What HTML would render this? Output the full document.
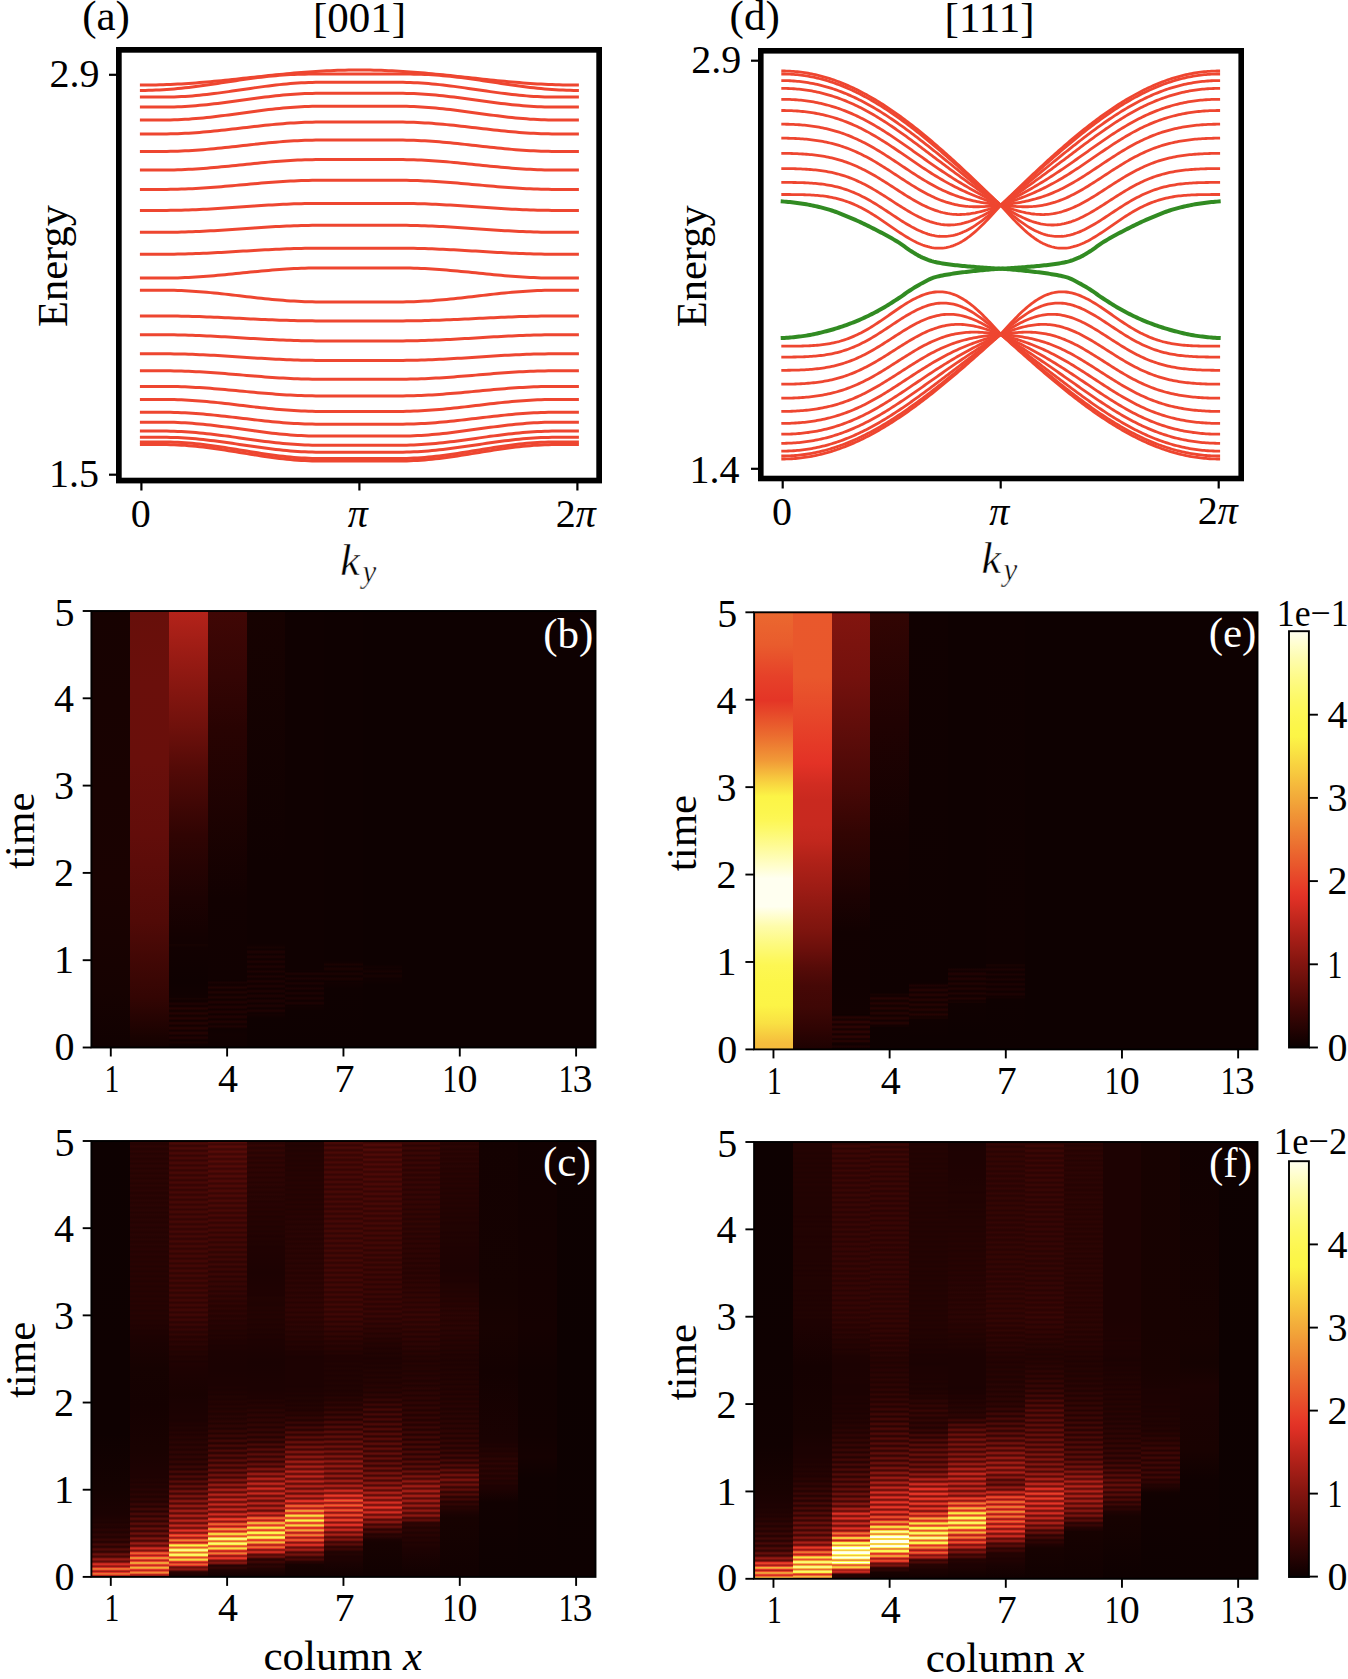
<!DOCTYPE html>
<html><head><meta charset="utf-8"><style>
html,body{margin:0;padding:0;background:#fff;}
body{width:1348px;height:1679px;position:relative;overflow:hidden;}
.c{position:absolute;}
svg{position:absolute;left:0;top:0;}
text{font-family:"Liberation Serif", serif;}
</style></head><body>
<div class="c" style="left:1289px;top:631.2px;width:19.9px;height:416.3px;background:linear-gradient(to bottom,#fffff0 0%,#fffede 1.69%,#fffecd 3.39%,#fefdbd 5.08%,#fefcad 6.78%,#fefc9f 8.47%,#fefb91 10.17%,#fefa84 11.86%,#fdfa78 13.56%,#fdf96d 15.25%,#fdf863 16.95%,#fdf85a 18.64%,#fdf753 20.34%,#fcf64d 22.03%,#fcf648 23.73%,#fcf546 25.42%,#fbec45 27.12%,#fae443 28.81%,#f9db42 30.51%,#f8d240 32.2%,#f7ca3f 33.9%,#f6c13d 35.59%,#f5b83c 37.29%,#f3af3b 38.98%,#f2a739 40.68%,#f19e38 42.37%,#f09536 44.07%,#ef8d35 45.76%,#ee8433 47.46%,#ed7b32 49.15%,#ec7331 50.85%,#eb6a2f 52.54%,#ea612e 54.24%,#e9592c 55.93%,#e8502b 57.63%,#e7472a 59.32%,#e63f28 61.02%,#e43627 62.71%,#df3025 64.41%,#d52d22 66.1%,#ca2a1f 67.8%,#c0261d 69.49%,#b6231a 71.19%,#ac2018 72.88%,#a21d16 74.58%,#981b14 76.27%,#8e1811 77.97%,#841510 79.66%,#7a130e 81.36%,#70110c 83.05%,#660e0a 84.75%,#5c0c09 86.44%,#520a07 88.14%,#470806 89.83%,#3d0605 91.53%,#330504 93.22%,#290403 94.92%,#1f0202 96.61%,#150101 98.31%,#0b0101 100%)"></div>
<div class="c" style="left:1289px;top:1161.2px;width:19.9px;height:415.8px;background:linear-gradient(to bottom,#fffff0 0%,#fffede 1.69%,#fffecd 3.39%,#fefdbd 5.08%,#fefcad 6.78%,#fefc9f 8.47%,#fefb91 10.17%,#fefa84 11.86%,#fdfa78 13.56%,#fdf96d 15.25%,#fdf863 16.95%,#fdf85a 18.64%,#fdf753 20.34%,#fcf64d 22.03%,#fcf648 23.73%,#fcf546 25.42%,#fbec45 27.12%,#fae443 28.81%,#f9db42 30.51%,#f8d240 32.2%,#f7ca3f 33.9%,#f6c13d 35.59%,#f5b83c 37.29%,#f3af3b 38.98%,#f2a739 40.68%,#f19e38 42.37%,#f09536 44.07%,#ef8d35 45.76%,#ee8433 47.46%,#ed7b32 49.15%,#ec7331 50.85%,#eb6a2f 52.54%,#ea612e 54.24%,#e9592c 55.93%,#e8502b 57.63%,#e7472a 59.32%,#e63f28 61.02%,#e43627 62.71%,#df3025 64.41%,#d52d22 66.1%,#ca2a1f 67.8%,#c0261d 69.49%,#b6231a 71.19%,#ac2018 72.88%,#a21d16 74.58%,#981b14 76.27%,#8e1811 77.97%,#841510 79.66%,#7a130e 81.36%,#70110c 83.05%,#660e0a 84.75%,#5c0c09 86.44%,#520a07 88.14%,#470806 89.83%,#3d0605 91.53%,#330504 93.22%,#290403 94.92%,#1f0202 96.61%,#150101 98.31%,#0b0101 100%)"></div>
<div class="c" style="left:91px;top:611px;width:39px;height:437px;background:linear-gradient(#170201 0.5px,#1a0201 270.5px,#160201 381.5px,#110101 436.5px)"></div>
<div class="c" style="left:130px;top:611px;width:39px;height:437px;background:linear-gradient(#670f0a 0.5px,#6a0f0b 72.5px,#690f0b 151.5px,#620d0a 223.5px,#510a07 309.5px,#330503 386.5px,#190201 426.5px,#140101 436.5px)"></div>
<div class="c" style="left:169px;top:611px;width:39px;height:437px;background:linear-gradient(#b4231a 0.5px,#951a13 52.5px,#70110c 114.5px,#520a07 159.5px,#300403 223.5px,#1c0202 287.5px,#150101 319.5px,#120101 332.5px,#160201 333.5px,#120101 336.5px,#0f0101 370.5px,#110101 385.5px,#120101 386.5px,#170201 387.5px,#120101 389.5px,#120101 390.5px,#1e0202 392.5px,#1c0202 393.5px,#150101 394.5px,#150101 395.5px,#1f0202 396.5px,#250302 397.5px,#160201 399.5px,#170201 400.5px,#200302 401.5px,#250302 402.5px,#160201 404.5px,#180201 405.5px,#210302 406.5px,#250302 407.5px,#150101 409.5px,#180201 410.5px,#220302 411.5px,#240302 412.5px,#150101 414.5px,#190201 415.5px,#230302 416.5px,#240302 417.5px,#150101 419.5px,#1a0202 420.5px,#230302 421.5px,#230302 422.5px,#140101 424.5px,#200202 426.5px,#1d0202 427.5px,#150101 428.5px,#120101 429.5px,#190201 431.5px,#110101 433.5px,#100101 436.5px)"></div>
<div class="c" style="left:208px;top:611px;width:39px;height:437px;background:linear-gradient(#400705 0.5px,#340504 65.5px,#280302 118.5px,#120101 287.5px,#110101 367.5px,#100101 369.5px,#1a0202 371.5px,#130101 373.5px,#140101 374.5px,#210302 376.5px,#140101 378.5px,#150101 379.5px,#1d0202 380.5px,#200302 381.5px,#140101 383.5px,#150201 384.5px,#1d0202 385.5px,#200302 386.5px,#130101 388.5px,#160201 389.5px,#1e0202 390.5px,#200202 391.5px,#130101 393.5px,#170201 394.5px,#1f0202 395.5px,#200202 396.5px,#130101 398.5px,#1f0202 400.5px,#1f0202 401.5px,#170201 402.5px,#130101 403.5px,#200202 405.5px,#1f0202 406.5px,#170201 407.5px,#130101 408.5px,#200202 410.5px,#1e0202 411.5px,#160201 412.5px,#140101 413.5px,#1e0202 415.5px,#120101 417.5px,#100101 418.5px,#120101 423.5px,#100101 436.5px)"></div>
<div class="c" style="left:247px;top:611px;width:38px;height:437px;background:linear-gradient(#170201 0.5px,#100101 251.5px,#100101 332.5px,#120101 334.5px,#170201 336.5px,#110101 338.5px,#1d0202 340.5px,#1c0202 341.5px,#120101 343.5px,#1d0202 345.5px,#1c0202 346.5px,#150101 347.5px,#120101 348.5px,#1e0202 350.5px,#1b0202 351.5px,#140101 352.5px,#130101 353.5px,#1e0202 355.5px,#1b0202 356.5px,#140101 357.5px,#130101 358.5px,#1e0202 360.5px,#130101 362.5px,#130101 363.5px,#1e0202 365.5px,#130101 367.5px,#140101 368.5px,#1b0202 369.5px,#1e0202 370.5px,#130101 372.5px,#150101 373.5px,#1c0202 374.5px,#1e0202 375.5px,#120101 377.5px,#150101 378.5px,#1c0202 379.5px,#1d0202 380.5px,#120101 382.5px,#1d0202 384.5px,#1d0202 385.5px,#120101 387.5px,#1d0202 389.5px,#1c0202 390.5px,#120101 392.5px,#1d0202 394.5px,#1c0202 395.5px,#150101 396.5px,#120101 397.5px,#1e0202 399.5px,#1b0202 400.5px,#140101 401.5px,#110101 402.5px,#140101 403.5px,#0f0101 407.5px,#0e0101 436.5px)"></div>
<div class="c" style="left:285px;top:611px;width:39px;height:437px;background:linear-gradient(#100101 0.5px,#100101 358.5px,#120101 359.5px,#100101 360.5px,#1c0202 362.5px,#1a0201 363.5px,#130101 364.5px,#120101 365.5px,#1c0202 367.5px,#130101 369.5px,#120101 370.5px,#190201 371.5px,#1c0202 372.5px,#120101 374.5px,#130101 375.5px,#1c0202 377.5px,#120101 379.5px,#130101 380.5px,#1a0202 381.5px,#1c0202 382.5px,#120101 384.5px,#140101 385.5px,#1a0202 386.5px,#1c0202 387.5px,#120101 389.5px,#140101 390.5px,#1b0202 391.5px,#1c0202 392.5px,#100101 394.5px,#120101 395.5px,#0f0101 399.5px,#0e0101 436.5px)"></div>
<div class="c" style="left:324px;top:611px;width:39px;height:437px;background:linear-gradient(#0f0101 0.5px,#0f0101 349.5px,#110101 351.5px,#1a0201 353.5px,#110101 355.5px,#1a0201 357.5px,#190201 358.5px,#110101 360.5px,#1a0202 362.5px,#190201 363.5px,#130101 364.5px,#110101 365.5px,#1a0202 367.5px,#190201 368.5px,#100101 370.5px,#130101 371.5px,#0f0101 377.5px,#0e0101 436.5px)"></div>
<div class="c" style="left:363px;top:611px;width:39px;height:437px;background:linear-gradient(#0e0101 0.5px,#0e0101 353.5px,#130101 356.5px,#100101 357.5px,#170201 360.5px,#100101 362.5px,#160201 364.5px,#160201 365.5px,#100101 367.5px,#110101 369.5px,#0e0101 373.5px,#0e0101 436.5px)"></div>
<div class="c" style="left:402px;top:611px;width:38px;height:437px;background:#0e0101"></div>
<div class="c" style="left:440px;top:611px;width:39px;height:437px;background:#0e0101"></div>
<div class="c" style="left:479px;top:611px;width:39px;height:437px;background:#0e0101"></div>
<div class="c" style="left:518px;top:611px;width:39px;height:437px;background:#0e0101"></div>
<div class="c" style="left:557px;top:611px;width:39px;height:437px;background:#0e0101"></div>
<div class="c" style="left:91px;top:1141px;width:39px;height:436px;background:linear-gradient(#0e0101 0.5px,#0f0101 204.5px,#0f0101 292.5px,#150201 347.5px,#1b0202 372.5px,#1e0202 377.5px,#200302 379.5px,#1e0202 381.5px,#240302 383.5px,#200202 386.5px,#290303 388.5px,#280302 389.5px,#230302 390.5px,#220302 391.5px,#2d0403 393.5px,#2b0403 394.5px,#250302 395.5px,#250302 396.5px,#360504 398.5px,#310503 399.5px,#270302 400.5px,#290303 401.5px,#380604 402.5px,#430705 403.5px,#3a0604 404.5px,#2c0403 405.5px,#310503 406.5px,#470806 407.5px,#510a07 408.5px,#330503 410.5px,#3c0604 411.5px,#5b0c08 412.5px,#6a0f0b 413.5px,#450805 415.5px,#590c08 416.5px,#851610 417.5px,#951a13 418.5px,#77120d 419.5px,#600d09 420.5px,#83150f 421.5px,#c3271d 422.5px,#d62d22 423.5px,#a91f17 424.5px,#8f1812 425.5px,#d12c21 426.5px,#ec7130 427.5px,#ea662f 428.5px,#c8291f 429.5px,#a11d15 430.5px,#e03125 431.5px,#eb6d30 432.5px,#e9592c 433.5px,#ba251b 434.5px,#9e1c15 435.5px)"></div>
<div class="c" style="left:130px;top:1141px;width:39px;height:436px;background:linear-gradient(#2c0403 0.5px,#260302 2.5px,#260302 3.5px,#2c0403 5.5px,#260302 7.5px,#260302 8.5px,#2c0403 10.5px,#250302 12.5px,#2b0403 15.5px,#250302 17.5px,#2b0403 20.5px,#250302 22.5px,#2b0403 24.5px,#2b0403 25.5px,#250302 27.5px,#2b0403 29.5px,#250302 32.5px,#2b0403 34.5px,#250302 37.5px,#2b0403 39.5px,#250302 42.5px,#2b0403 44.5px,#250302 46.5px,#280303 48.5px,#2b0403 49.5px,#250302 51.5px,#250302 52.5px,#2a0403 54.5px,#250302 56.5px,#250302 57.5px,#2a0403 59.5px,#250302 61.5px,#2a0403 64.5px,#240302 66.5px,#2a0403 69.5px,#240302 71.5px,#290403 73.5px,#260302 75.5px,#240302 76.5px,#290403 78.5px,#260302 80.5px,#240302 81.5px,#290403 83.5px,#290303 84.5px,#240302 86.5px,#290403 88.5px,#240302 91.5px,#290403 93.5px,#240302 96.5px,#290403 98.5px,#240302 100.5px,#270302 102.5px,#290403 103.5px,#240302 105.5px,#290303 108.5px,#240302 110.5px,#290303 113.5px,#240302 115.5px,#280302 118.5px,#240302 120.5px,#280302 123.5px,#230302 125.5px,#280302 127.5px,#250302 129.5px,#230302 130.5px,#280302 132.5px,#230302 135.5px,#280302 137.5px,#230302 140.5px,#280302 142.5px,#230302 145.5px,#270302 147.5px,#230302 150.5px,#270302 152.5px,#230302 155.5px,#270302 157.5px,#230302 160.5px,#270302 162.5px,#230302 164.5px,#260302 167.5px,#220302 169.5px,#260302 172.5px,#220302 174.5px,#250302 177.5px,#210302 179.5px,#230302 182.5px,#200202 184.5px,#210302 187.5px,#1e0202 189.5px,#1f0202 192.5px,#1d0202 194.5px,#160201 227.5px,#150101 264.5px,#190201 307.5px,#1d0202 327.5px,#1e0202 329.5px,#1e0202 332.5px,#1f0202 334.5px,#1e0202 336.5px,#220302 339.5px,#1f0202 341.5px,#250302 343.5px,#200302 345.5px,#210302 346.5px,#290303 348.5px,#220302 350.5px,#230302 351.5px,#2b0403 353.5px,#220302 355.5px,#240302 356.5px,#2b0403 357.5px,#2e0403 358.5px,#240302 360.5px,#280303 361.5px,#330504 362.5px,#370504 363.5px,#260302 365.5px,#2e0403 366.5px,#3e0705 367.5px,#400705 368.5px,#310503 369.5px,#290303 370.5px,#350504 371.5px,#470806 372.5px,#460806 373.5px,#350504 374.5px,#2d0403 375.5px,#500a07 377.5px,#4c0906 378.5px,#380604 379.5px,#320503 380.5px,#590c08 382.5px,#520a07 383.5px,#3b0604 384.5px,#370604 385.5px,#4f0a07 386.5px,#630e0a 387.5px,#580b08 388.5px,#3f0705 389.5px,#3d0605 390.5px,#590c08 391.5px,#6c100b 392.5px,#5d0c09 393.5px,#420705 394.5px,#460806 395.5px,#680f0b 396.5px,#7c140e 397.5px,#690f0b 398.5px,#4c0906 399.5px,#570b08 400.5px,#83150f 401.5px,#991b14 402.5px,#7e140e 403.5px,#5f0d09 404.5px,#74120d 405.5px,#b3221a 406.5px,#ce2b20 407.5px,#7e140e 409.5px,#a41e16 410.5px,#e74729 411.5px,#ea602e 412.5px,#dc2f24 413.5px,#ac2018 414.5px,#e43326 415.5px,#ee8734 416.5px,#ef8c35 417.5px,#e53b28 418.5px,#b8241b 419.5px,#e7472a 420.5px,#f2a038 421.5px,#f19c37 422.5px,#e64429 423.5px,#cb2a20 424.5px,#ea602e 425.5px,#f3ae3a 426.5px,#f09336 427.5px,#e43326 428.5px,#bf261c 429.5px,#e8532b 430.5px,#ef8b35 431.5px,#ea632e 432.5px,#b9241b 433.5px,#9f1d15 434.5px,#dd3024 435.5px)"></div>
<div class="c" style="left:169px;top:1141px;width:39px;height:436px;background:linear-gradient(#390604 0.5px,#450805 1.5px,#4a0906 2.5px,#370604 4.5px,#3a0604 5.5px,#460806 6.5px,#490906 7.5px,#370504 9.5px,#3b0604 10.5px,#460806 11.5px,#490806 12.5px,#360504 14.5px,#3c0604 15.5px,#470806 16.5px,#480806 17.5px,#3d0605 18.5px,#360504 19.5px,#470806 21.5px,#470806 22.5px,#3c0604 23.5px,#360504 24.5px,#480806 26.5px,#460806 27.5px,#3a0604 28.5px,#360504 29.5px,#480806 31.5px,#450805 32.5px,#390604 33.5px,#360504 34.5px,#480806 36.5px,#430705 37.5px,#380604 38.5px,#360504 39.5px,#410705 40.5px,#480806 41.5px,#420705 42.5px,#370504 43.5px,#370504 44.5px,#480806 46.5px,#410705 47.5px,#360504 48.5px,#370604 49.5px,#420705 50.5px,#470806 51.5px,#360504 53.5px,#380604 54.5px,#430705 55.5px,#470806 56.5px,#350504 58.5px,#390604 59.5px,#440805 60.5px,#460806 61.5px,#350504 63.5px,#3a0604 64.5px,#440805 65.5px,#450806 66.5px,#340504 68.5px,#450805 70.5px,#440805 71.5px,#3a0604 72.5px,#340504 73.5px,#450806 75.5px,#430705 76.5px,#380604 77.5px,#340504 78.5px,#450806 80.5px,#420705 81.5px,#370604 82.5px,#340504 83.5px,#450806 85.5px,#410705 86.5px,#360504 87.5px,#350504 88.5px,#450806 90.5px,#400705 91.5px,#350504 92.5px,#350504 93.5px,#3f0705 94.5px,#450805 95.5px,#340504 97.5px,#350504 98.5px,#400705 99.5px,#450805 100.5px,#340504 102.5px,#360504 103.5px,#410705 104.5px,#440805 105.5px,#330503 107.5px,#370504 108.5px,#410705 109.5px,#430805 110.5px,#330503 112.5px,#380604 113.5px,#420705 114.5px,#430705 115.5px,#320503 117.5px,#380604 118.5px,#420705 119.5px,#420705 120.5px,#380604 121.5px,#320503 122.5px,#430705 124.5px,#410705 125.5px,#360504 126.5px,#320503 127.5px,#430705 129.5px,#400705 130.5px,#350504 131.5px,#320503 132.5px,#430705 134.5px,#3e0705 135.5px,#340504 136.5px,#330503 137.5px,#420705 139.5px,#3d0605 140.5px,#330503 141.5px,#330503 142.5px,#420705 144.5px,#3c0604 145.5px,#320503 146.5px,#330503 147.5px,#3d0605 148.5px,#420705 149.5px,#310503 151.5px,#340504 152.5px,#3e0705 153.5px,#410705 154.5px,#310503 156.5px,#340504 157.5px,#3e0705 158.5px,#400705 159.5px,#300403 161.5px,#350504 162.5px,#3e0705 163.5px,#3f0705 164.5px,#300403 166.5px,#3f0705 168.5px,#3e0705 169.5px,#350504 170.5px,#300403 171.5px,#3f0705 173.5px,#3d0605 174.5px,#330503 175.5px,#2e0403 176.5px,#3d0605 178.5px,#390604 179.5px,#2f0403 180.5px,#2c0403 181.5px,#390604 183.5px,#350504 184.5px,#2c0403 185.5px,#2b0403 186.5px,#360504 188.5px,#2a0403 190.5px,#290403 191.5px,#320503 193.5px,#270302 195.5px,#270302 196.5px,#2e0403 198.5px,#250302 200.5px,#2b0403 203.5px,#230302 205.5px,#270302 208.5px,#210302 210.5px,#240302 213.5px,#1f0202 215.5px,#210302 218.5px,#1d0202 220.5px,#200202 222.5px,#1e0202 226.5px,#1d0202 231.5px,#1c0202 236.5px,#190201 254.5px,#1a0202 258.5px,#1b0202 263.5px,#1c0202 273.5px,#1d0202 275.5px,#1c0202 279.5px,#200202 282.5px,#1e0202 284.5px,#220302 286.5px,#1f0202 289.5px,#250302 291.5px,#200202 293.5px,#250302 295.5px,#280302 296.5px,#210302 298.5px,#2a0403 301.5px,#220302 303.5px,#240302 304.5px,#2a0403 305.5px,#2c0403 306.5px,#230302 308.5px,#260302 309.5px,#2d0403 310.5px,#2e0403 311.5px,#230302 313.5px,#2f0403 315.5px,#300403 316.5px,#280302 317.5px,#240302 318.5px,#320503 320.5px,#310503 321.5px,#280303 322.5px,#250302 323.5px,#390604 325.5px,#380604 326.5px,#2b0403 327.5px,#280302 328.5px,#440805 330.5px,#3f0705 331.5px,#2e0403 332.5px,#2c0403 333.5px,#3f0705 334.5px,#4d0907 335.5px,#440805 336.5px,#320503 337.5px,#320503 338.5px,#480806 339.5px,#570b08 340.5px,#4b0906 341.5px,#370504 342.5px,#3b0604 343.5px,#550b08 344.5px,#630e0a 345.5px,#520a07 346.5px,#3c0604 347.5px,#440805 348.5px,#630e0a 349.5px,#6f100c 350.5px,#410705 352.5px,#4e0907 353.5px,#71110c 354.5px,#7b130e 355.5px,#5f0d09 356.5px,#480806 357.5px,#5a0c08 358.5px,#80140f 359.5px,#861610 360.5px,#650e0a 361.5px,#4e0907 362.5px,#670e0a 363.5px,#901812 364.5px,#901912 365.5px,#690f0b 366.5px,#550b08 367.5px,#74110d 368.5px,#9e1c15 369.5px,#981b14 370.5px,#6d100b 371.5px,#5c0c09 372.5px,#82150f 373.5px,#ac2018 374.5px,#a01d15 375.5px,#70100c 376.5px,#630e0a 377.5px,#8f1812 378.5px,#b7241a 379.5px,#a31e16 380.5px,#71110c 381.5px,#6a0f0b 382.5px,#9b1c14 383.5px,#c1271d 384.5px,#a81f17 385.5px,#76120d 386.5px,#78120d 387.5px,#b6231a 388.5px,#e23125 389.5px,#c1271d 390.5px,#891710 391.5px,#961a13 392.5px,#e43326 393.5px,#e95a2d 394.5px,#e23125 395.5px,#a11d15 396.5px,#ba241b 397.5px,#ea602e 398.5px,#ee8333 399.5px,#e7482a 400.5px,#bc251c 401.5px,#e64229 402.5px,#f5bf3d 403.5px,#fcf546 404.5px,#e95c2d 406.5px,#f2a038 407.5px,#fdf972 408.5px,#fefb8d 409.5px,#f6c23e 410.5px,#eb6e30 411.5px,#f4b63c 412.5px,#fdf96e 413.5px,#fdf757 414.5px,#ef8a34 415.5px,#e64229 416.5px,#ee8634 417.5px,#f8d541 418.5px,#f3ae3a 419.5px,#e53c28 420.5px,#b7241a 421.5px,#e53c28 422.5px,#ea632e 423.5px,#e43527 424.5px,#8b1711 425.5px,#690f0b 426.5px,#7f140f 427.5px,#891710 428.5px,#640e0a 429.5px,#380604 430.5px,#280302 431.5px,#180201 435.5px)"></div>
<div class="c" style="left:208px;top:1141px;width:39px;height:436px;background:linear-gradient(#570b08 0.5px,#540b08 1.5px,#460806 2.5px,#400705 3.5px,#560b08 5.5px,#520a07 6.5px,#440805 7.5px,#400705 8.5px,#560b08 10.5px,#500a07 11.5px,#420705 12.5px,#400705 13.5px,#550b08 15.5px,#4e0907 16.5px,#400705 17.5px,#400705 18.5px,#4c0906 19.5px,#540b07 20.5px,#3f0705 22.5px,#400705 23.5px,#4d0906 24.5px,#530a07 25.5px,#3d0605 27.5px,#400705 28.5px,#4d0906 29.5px,#510a07 30.5px,#3c0604 32.5px,#400705 33.5px,#4d0907 34.5px,#500a07 35.5px,#3b0604 37.5px,#410705 38.5px,#4d0907 39.5px,#4e0907 40.5px,#420705 41.5px,#3a0604 42.5px,#410705 43.5px,#4d0906 44.5px,#4c0906 45.5px,#400705 46.5px,#390604 47.5px,#4c0906 49.5px,#4a0906 50.5px,#3e0705 51.5px,#390604 52.5px,#4c0906 54.5px,#480806 55.5px,#3c0604 56.5px,#390604 57.5px,#4b0906 59.5px,#460806 60.5px,#3a0604 61.5px,#380604 62.5px,#430705 63.5px,#4a0906 64.5px,#440805 65.5px,#390604 66.5px,#380604 67.5px,#430705 68.5px,#490906 69.5px,#420705 70.5px,#370604 71.5px,#380604 72.5px,#430705 73.5px,#480806 74.5px,#360504 76.5px,#380604 77.5px,#430705 78.5px,#470806 79.5px,#350504 81.5px,#380604 82.5px,#430705 83.5px,#450806 84.5px,#340504 86.5px,#390604 87.5px,#430705 88.5px,#440805 89.5px,#330503 91.5px,#390604 92.5px,#430705 93.5px,#420705 94.5px,#380604 95.5px,#320503 96.5px,#420705 98.5px,#400705 99.5px,#360504 100.5px,#320503 101.5px,#410705 103.5px,#3e0705 104.5px,#340504 105.5px,#310503 106.5px,#410705 108.5px,#3d0604 109.5px,#330503 110.5px,#310503 111.5px,#400705 113.5px,#3b0604 114.5px,#310503 115.5px,#310503 116.5px,#3a0604 117.5px,#3f0705 118.5px,#300403 120.5px,#300503 121.5px,#390604 122.5px,#3e0705 123.5px,#2f0403 125.5px,#300503 126.5px,#390604 127.5px,#3c0604 128.5px,#2d0403 130.5px,#300403 131.5px,#390604 132.5px,#3b0604 133.5px,#2c0403 135.5px,#300403 136.5px,#380604 137.5px,#380604 138.5px,#2c0403 140.5px,#360504 142.5px,#360504 143.5px,#2b0403 145.5px,#350504 147.5px,#340504 148.5px,#2d0403 149.5px,#2a0403 150.5px,#340504 152.5px,#2b0403 154.5px,#290403 155.5px,#320503 157.5px,#2a0403 159.5px,#290303 160.5px,#300403 162.5px,#280302 164.5px,#280302 165.5px,#2e0403 167.5px,#270302 169.5px,#270302 170.5px,#2d0403 172.5px,#260302 174.5px,#260302 175.5px,#2b0403 177.5px,#240302 179.5px,#280303 182.5px,#230302 184.5px,#260302 187.5px,#210302 189.5px,#240302 192.5px,#200202 194.5px,#230302 196.5px,#1f0202 199.5px,#200202 202.5px,#1d0202 204.5px,#1e0202 207.5px,#1c0202 210.5px,#1b0202 225.5px,#1b0202 229.5px,#1c0202 237.5px,#1c0202 242.5px,#1c0202 244.5px,#1e0202 246.5px,#1c0202 248.5px,#200202 251.5px,#1d0202 253.5px,#220302 255.5px,#1f0202 258.5px,#240302 260.5px,#200202 263.5px,#260302 265.5px,#200302 267.5px,#250302 269.5px,#280302 270.5px,#210302 272.5px,#220302 273.5px,#290403 275.5px,#220302 277.5px,#2b0403 280.5px,#220302 282.5px,#2d0403 284.5px,#2e0403 285.5px,#230302 287.5px,#280303 288.5px,#310503 289.5px,#320503 290.5px,#250302 292.5px,#380604 294.5px,#370504 295.5px,#2b0403 296.5px,#260302 297.5px,#3e0705 299.5px,#3b0604 300.5px,#2c0403 301.5px,#280302 302.5px,#450805 304.5px,#3f0705 305.5px,#2e0403 306.5px,#2c0403 307.5px,#4b0906 309.5px,#420705 310.5px,#300403 311.5px,#300403 312.5px,#440805 313.5px,#520a07 314.5px,#460806 315.5px,#330503 316.5px,#360504 317.5px,#4d0907 318.5px,#590c08 319.5px,#4a0906 320.5px,#360504 321.5px,#3c0604 322.5px,#560b08 323.5px,#610d09 324.5px,#390604 326.5px,#430705 327.5px,#600d09 328.5px,#680f0b 329.5px,#3d0605 331.5px,#4b0906 332.5px,#6a0f0b 333.5px,#6f100c 334.5px,#550b08 335.5px,#430705 336.5px,#580b08 337.5px,#7c130e 338.5px,#7e140e 339.5px,#5e0d09 340.5px,#4c0906 341.5px,#690f0b 342.5px,#901912 343.5px,#8e1811 344.5px,#670e0a 345.5px,#570b08 346.5px,#7b130e 347.5px,#a41e16 348.5px,#9a1b14 349.5px,#6d100b 350.5px,#600d09 351.5px,#b3231a 353.5px,#a21d16 354.5px,#71110c 355.5px,#690f0b 356.5px,#9b1b14 357.5px,#c2271d 358.5px,#a61f17 359.5px,#72110c 360.5px,#70110c 361.5px,#a41e16 362.5px,#c4281e 363.5px,#a21e16 364.5px,#6f100c 365.5px,#75120d 366.5px,#ab2018 367.5px,#c6281e 368.5px,#9e1c15 369.5px,#6e100c 370.5px,#7c130e 371.5px,#b8241b 372.5px,#d32c21 373.5px,#7a130e 375.5px,#951a13 376.5px,#df3025 377.5px,#e64229 378.5px,#be261c 379.5px,#8d1811 380.5px,#b5231a 381.5px,#e8552c 382.5px,#ea662f 383.5px,#da2f23 384.5px,#a91f17 385.5px,#e43426 386.5px,#ef8e35 387.5px,#f09737 388.5px,#e7492a 389.5px,#cd2a20 390.5px,#eb692f 391.5px,#f8d340 392.5px,#f8d340 393.5px,#ec7431 394.5px,#e74d2a 395.5px,#f5ba3c 396.5px,#fefa85 397.5px,#fdf968 398.5px,#f09336 399.5px,#eb672f 400.5px,#f8d541 401.5px,#fdfa7d 402.5px,#fcf547 403.5px,#ec7431 404.5px,#e8522b 405.5px,#f3ac3a 406.5px,#fae143 407.5px,#f09536 408.5px,#d62d22 409.5px,#c3271d 410.5px,#e95b2d 411.5px,#ed7e32 412.5px,#e64329 413.5px,#a01d15 414.5px,#9e1c15 415.5px,#da2f23 416.5px,#e53727 417.5px,#ac2018 418.5px,#6d100b 419.5px,#6d100b 420.5px,#861610 421.5px,#79130e 422.5px,#4b0906 423.5px,#280303 424.5px,#2b0403 425.5px,#330503 426.5px,#2f0403 427.5px,#250302 428.5px,#1f0202 429.5px,#120101 435.5px)"></div>
<div class="c" style="left:247px;top:1141px;width:38px;height:436px;background:linear-gradient(#310503 0.5px,#2b0403 1.5px,#2a0403 2.5px,#330503 4.5px,#2a0403 6.5px,#2a0403 7.5px,#320503 9.5px,#290403 11.5px,#290403 12.5px,#2f0403 13.5px,#310503 14.5px,#280303 16.5px,#290403 17.5px,#300403 19.5px,#280302 21.5px,#290403 22.5px,#2e0403 23.5px,#2f0403 24.5px,#270302 26.5px,#2e0403 28.5px,#2e0403 29.5px,#270302 31.5px,#2d0403 33.5px,#2d0403 34.5px,#260302 36.5px,#2c0403 38.5px,#2c0403 39.5px,#260302 41.5px,#2c0403 43.5px,#250302 46.5px,#2b0403 48.5px,#250302 51.5px,#2a0403 53.5px,#250302 55.5px,#290403 58.5px,#240302 60.5px,#280303 63.5px,#240302 66.5px,#280302 68.5px,#230302 70.5px,#270302 73.5px,#220302 75.5px,#260302 78.5px,#220302 80.5px,#250302 83.5px,#210302 85.5px,#240302 88.5px,#210302 90.5px,#240302 92.5px,#200202 95.5px,#230302 97.5px,#200202 100.5px,#210302 103.5px,#1f0202 105.5px,#200202 108.5px,#1f0202 116.5px,#1d0202 131.5px,#1e0202 140.5px,#1f0202 148.5px,#200202 150.5px,#1f0202 154.5px,#220302 156.5px,#210302 160.5px,#200302 164.5px,#230302 166.5px,#210302 169.5px,#240302 171.5px,#210302 173.5px,#240302 176.5px,#200302 178.5px,#230302 181.5px,#200202 183.5px,#220302 186.5px,#1f0202 188.5px,#210302 191.5px,#1e0202 193.5px,#200202 196.5px,#1d0202 198.5px,#1e0202 201.5px,#1d0202 204.5px,#1a0202 220.5px,#1b0202 233.5px,#1c0202 243.5px,#1c0202 248.5px,#1e0202 253.5px,#1f0202 255.5px,#1e0202 257.5px,#230302 259.5px,#1f0202 261.5px,#260302 264.5px,#210302 266.5px,#220302 267.5px,#280302 268.5px,#2a0403 269.5px,#220302 271.5px,#2b0403 273.5px,#2d0403 274.5px,#230302 276.5px,#2e0403 278.5px,#2e0403 279.5px,#240302 281.5px,#310503 283.5px,#310503 284.5px,#290303 285.5px,#250302 286.5px,#350504 288.5px,#330504 289.5px,#290403 290.5px,#260302 291.5px,#390604 293.5px,#360504 294.5px,#290403 295.5px,#270302 296.5px,#3e0705 298.5px,#380604 299.5px,#2a0403 300.5px,#2a0403 301.5px,#3c0604 302.5px,#490906 303.5px,#400705 304.5px,#300403 305.5px,#320503 306.5px,#480806 307.5px,#550b08 308.5px,#480806 309.5px,#350504 310.5px,#390604 311.5px,#510a07 312.5px,#5b0c09 313.5px,#360504 315.5px,#3e0705 316.5px,#570b08 317.5px,#5f0d09 318.5px,#370504 320.5px,#430705 321.5px,#5d0c09 322.5px,#660e0a 323.5px,#500a07 324.5px,#3f0705 325.5px,#540a07 326.5px,#78120d 327.5px,#7e140e 328.5px,#5f0d09 329.5px,#4d0907 330.5px,#6a0f0b 331.5px,#951a13 332.5px,#961a13 333.5px,#6e100c 334.5px,#5c0c09 335.5px,#81150f 336.5px,#ae2118 337.5px,#a61e17 338.5px,#75120d 339.5px,#660e0a 340.5px,#bf261d 342.5px,#ae2118 343.5px,#79130d 344.5px,#6f100c 345.5px,#a21e16 346.5px,#cd2a20 347.5px,#b4231a 348.5px,#7b130e 349.5px,#75120d 350.5px,#a81f17 351.5px,#c7291e 352.5px,#a31e16 353.5px,#6e100b 354.5px,#6e100c 355.5px,#9e1c15 356.5px,#b4231a 357.5px,#8f1812 358.5px,#650e0a 359.5px,#6f100c 360.5px,#a41e16 361.5px,#bb251c 362.5px,#941a13 363.5px,#690f0b 364.5px,#78120d 365.5px,#ab2018 366.5px,#b6231a 367.5px,#891710 368.5px,#630e0a 369.5px,#79130d 370.5px,#bb251b 371.5px,#d42d22 372.5px,#a81f17 373.5px,#861610 374.5px,#b8241b 375.5px,#e9592c 376.5px,#eb682f 377.5px,#dc2f24 378.5px,#b12219 379.5px,#e7482a 380.5px,#f3ac3a 381.5px,#f4b23b 382.5px,#e95c2d 383.5px,#e53627 384.5px,#ef8834 385.5px,#fae844 386.5px,#f7cc3f 387.5px,#e95d2d 388.5px,#e63f28 389.5px,#f3a939 390.5px,#fdf758 391.5px,#fcf346 392.5px,#ed7c32 393.5px,#eb682f 394.5px,#f9da41 395.5px,#fdf863 396.5px,#f7cf40 397.5px,#e74d2a 398.5px,#e53827 399.5px,#ef8a34 400.5px,#f4b73c 401.5px,#ec7230 402.5px,#c2271d 403.5px,#bd251c 404.5px,#e8512b 405.5px,#eb682f 406.5px,#dd3024 407.5px,#8e1812 408.5px,#911912 409.5px,#c7291e 410.5px,#cf2b20 411.5px,#911912 412.5px,#5a0c08 413.5px,#5b0c08 414.5px,#6e100c 415.5px,#610d09 416.5px,#3b0604 417.5px,#2a0403 418.5px,#2f0403 419.5px,#3d0604 420.5px,#3b0604 421.5px,#2d0403 422.5px,#240302 423.5px,#2b0403 425.5px,#280302 426.5px,#210302 427.5px,#120101 435.5px)"></div>
<div class="c" style="left:285px;top:1141px;width:39px;height:436px;background:linear-gradient(#220302 0.5px,#250302 2.5px,#210302 4.5px,#250302 7.5px,#210302 9.5px,#250302 12.5px,#220302 14.5px,#250302 17.5px,#220302 19.5px,#250302 22.5px,#220302 24.5px,#260302 26.5px,#220302 29.5px,#260302 31.5px,#230302 34.5px,#270302 36.5px,#230302 39.5px,#270302 41.5px,#230302 44.5px,#270302 46.5px,#230302 48.5px,#270302 51.5px,#230302 53.5px,#270302 56.5px,#230302 58.5px,#280302 61.5px,#230302 63.5px,#280302 65.5px,#250302 67.5px,#230302 68.5px,#280302 70.5px,#240302 73.5px,#290303 75.5px,#240302 78.5px,#290403 80.5px,#240302 83.5px,#290403 85.5px,#250302 88.5px,#2a0403 90.5px,#250302 92.5px,#280303 94.5px,#2a0403 95.5px,#250302 97.5px,#250302 98.5px,#2a0403 100.5px,#250302 102.5px,#2a0403 105.5px,#250302 107.5px,#2a0403 109.5px,#270302 111.5px,#250302 112.5px,#2a0403 114.5px,#270302 116.5px,#250302 117.5px,#2b0403 119.5px,#250302 122.5px,#2b0403 124.5px,#260302 127.5px,#2c0403 129.5px,#260302 131.5px,#260302 132.5px,#2c0403 134.5px,#270302 136.5px,#270302 137.5px,#2d0403 139.5px,#270302 141.5px,#270302 142.5px,#2d0403 144.5px,#270302 146.5px,#2e0403 149.5px,#270302 151.5px,#2e0403 154.5px,#270302 156.5px,#2e0403 158.5px,#2f0403 159.5px,#270302 161.5px,#2f0403 163.5px,#2f0403 164.5px,#280302 166.5px,#300403 168.5px,#2f0403 169.5px,#280302 171.5px,#300503 173.5px,#2f0403 174.5px,#290403 175.5px,#280302 176.5px,#2f0403 178.5px,#280302 180.5px,#270302 181.5px,#2d0403 183.5px,#260302 185.5px,#290403 187.5px,#2b0403 188.5px,#240302 190.5px,#290403 193.5px,#230302 195.5px,#270302 198.5px,#210302 200.5px,#250302 203.5px,#200202 205.5px,#220302 208.5px,#1e0202 210.5px,#1f0202 213.5px,#1c0202 215.5px,#1d0202 218.5px,#1d0202 236.5px,#1d0202 241.5px,#1d0202 243.5px,#1c0202 245.5px,#1e0202 247.5px,#1d0202 250.5px,#200202 252.5px,#1d0202 254.5px,#210302 257.5px,#1e0202 259.5px,#220302 262.5px,#1f0202 264.5px,#240302 266.5px,#200202 269.5px,#280302 271.5px,#280302 272.5px,#230302 274.5px,#300403 276.5px,#2e0403 277.5px,#260302 278.5px,#250302 279.5px,#390604 281.5px,#340504 282.5px,#280303 283.5px,#290303 284.5px,#380604 285.5px,#430705 286.5px,#3a0604 287.5px,#2c0403 288.5px,#2f0403 289.5px,#440805 290.5px,#4f0a07 291.5px,#420705 292.5px,#310503 293.5px,#380604 294.5px,#500a07 295.5px,#5b0c08 296.5px,#370504 298.5px,#420705 299.5px,#5e0d09 300.5px,#660e0a 301.5px,#4f0a07 302.5px,#3d0604 303.5px,#4c0906 304.5px,#6c100b 305.5px,#71110c 306.5px,#550b08 307.5px,#430705 308.5px,#580b08 309.5px,#7a130e 310.5px,#7b130e 311.5px,#5b0c08 312.5px,#4a0906 313.5px,#650e0a 314.5px,#8a1711 315.5px,#861610 316.5px,#610d09 317.5px,#520a07 318.5px,#9b1b14 320.5px,#911912 321.5px,#660e0a 322.5px,#5b0c09 323.5px,#a81f17 325.5px,#961a13 326.5px,#680f0b 327.5px,#630e0a 328.5px,#901912 329.5px,#b3221a 330.5px,#9a1b14 331.5px,#6b0f0b 332.5px,#6b0f0b 333.5px,#9e1c15 334.5px,#bb251c 335.5px,#9a1b14 336.5px,#690f0b 337.5px,#6f100c 338.5px,#a11d16 339.5px,#b8241b 340.5px,#921912 341.5px,#650e0a 342.5px,#71110c 343.5px,#a31e16 344.5px,#b3221a 345.5px,#630e0a 347.5px,#77120d 348.5px,#ab2018 349.5px,#b7231a 350.5px,#891711 351.5px,#660e0a 352.5px,#82150f 353.5px,#bb251c 354.5px,#c4281e 355.5px,#921912 356.5px,#71110c 357.5px,#981b13 358.5px,#dc2f24 359.5px,#e33226 360.5px,#a91f17 361.5px,#8b1711 362.5px,#c6281e 363.5px,#ea5f2d 364.5px,#e95c2d 365.5px,#c8291f 366.5px,#ac2018 367.5px,#e7482a 368.5px,#f19937 369.5px,#ef8934 370.5px,#e43627 371.5px,#d42d22 372.5px,#ee8534 373.5px,#f9df42 374.5px,#f5bb3d 375.5px,#e8542c 376.5px,#e74a2a 377.5px,#f4b13b 378.5px,#fcf546 379.5px,#f4b73c 380.5px,#e7482a 381.5px,#e64229 382.5px,#f2a338 383.5px,#f8d541 384.5px,#ef8b35 385.5px,#da2f23 386.5px,#e13125 387.5px,#ee8534 388.5px,#f2a639 389.5px,#e95d2d 390.5px,#b9241b 391.5px,#cb2a1f 392.5px,#eb692f 393.5px,#ed7d32 394.5px,#e53827 395.5px,#a01d15 396.5px,#ba251b 397.5px,#e8502b 398.5px,#e9572c 399.5px,#c3271d 400.5px,#871610 401.5px,#a21d16 402.5px,#db2f23 403.5px,#d42d22 404.5px,#921912 405.5px,#690f0b 406.5px,#81150f 407.5px,#a61f17 408.5px,#991b14 409.5px,#660e0a 410.5px,#4b0906 411.5px,#74120d 413.5px,#660e0a 414.5px,#430805 415.5px,#340504 416.5px,#490806 418.5px,#3b0604 419.5px,#280302 420.5px,#1f0202 422.5px,#180201 423.5px,#110101 435.5px)"></div>
<div class="c" style="left:324px;top:1141px;width:39px;height:436px;background:linear-gradient(#400705 0.5px,#490906 1.5px,#460806 2.5px,#3b0604 3.5px,#370504 4.5px,#4a0906 6.5px,#450806 7.5px,#3a0604 8.5px,#370604 9.5px,#4a0906 11.5px,#440805 12.5px,#390604 13.5px,#380604 14.5px,#490906 16.5px,#380604 18.5px,#380604 19.5px,#430705 20.5px,#490806 21.5px,#370504 23.5px,#390604 24.5px,#440805 25.5px,#480806 26.5px,#360504 28.5px,#3a0604 29.5px,#450805 30.5px,#480806 31.5px,#360504 33.5px,#3b0604 34.5px,#460806 35.5px,#470806 36.5px,#350504 38.5px,#3b0604 39.5px,#460806 40.5px,#460806 41.5px,#3b0604 42.5px,#350504 43.5px,#3c0604 44.5px,#470806 45.5px,#450805 46.5px,#3a0604 47.5px,#350504 48.5px,#470806 50.5px,#440805 51.5px,#390604 52.5px,#350504 53.5px,#470806 55.5px,#430705 56.5px,#380604 57.5px,#360504 58.5px,#470806 60.5px,#410705 61.5px,#370504 62.5px,#360504 63.5px,#470806 65.5px,#360504 67.5px,#360504 68.5px,#410705 69.5px,#460806 70.5px,#350504 72.5px,#370504 73.5px,#420705 74.5px,#460806 75.5px,#340504 77.5px,#380604 78.5px,#430705 79.5px,#450806 80.5px,#340504 82.5px,#390604 83.5px,#430705 84.5px,#440805 85.5px,#340504 87.5px,#390604 88.5px,#440805 89.5px,#440805 90.5px,#390604 91.5px,#330504 92.5px,#440805 94.5px,#430705 95.5px,#380604 96.5px,#330504 97.5px,#440805 99.5px,#420705 100.5px,#370504 101.5px,#330504 102.5px,#440805 104.5px,#400705 105.5px,#360504 106.5px,#340504 107.5px,#440805 109.5px,#3f0705 110.5px,#350504 111.5px,#340504 112.5px,#3e0705 113.5px,#440805 114.5px,#3e0705 115.5px,#340504 116.5px,#340504 117.5px,#3f0705 118.5px,#440805 119.5px,#330503 121.5px,#350504 122.5px,#3f0705 123.5px,#430705 124.5px,#330503 126.5px,#360504 127.5px,#400705 128.5px,#430705 129.5px,#320503 131.5px,#360504 132.5px,#410705 133.5px,#420705 134.5px,#380604 135.5px,#320503 136.5px,#370504 137.5px,#410705 138.5px,#410705 139.5px,#370504 140.5px,#310503 141.5px,#410705 143.5px,#400705 144.5px,#360504 145.5px,#310503 146.5px,#410705 148.5px,#3f0705 149.5px,#340504 150.5px,#310503 151.5px,#410705 153.5px,#3d0605 154.5px,#330504 155.5px,#310503 156.5px,#410705 158.5px,#3c0604 159.5px,#320503 160.5px,#320503 161.5px,#410705 163.5px,#3b0604 164.5px,#310503 165.5px,#320503 166.5px,#3b0604 167.5px,#400705 168.5px,#310503 170.5px,#320503 171.5px,#3c0604 172.5px,#3f0705 173.5px,#2f0403 175.5px,#320503 176.5px,#3b0604 177.5px,#3d0604 178.5px,#2c0403 180.5px,#300403 181.5px,#380604 182.5px,#390604 183.5px,#2a0403 185.5px,#350504 187.5px,#350504 188.5px,#280303 190.5px,#320503 192.5px,#310503 193.5px,#260302 195.5px,#2f0403 197.5px,#2d0403 198.5px,#270302 199.5px,#250302 200.5px,#2b0403 202.5px,#240302 204.5px,#230302 205.5px,#280302 207.5px,#210302 210.5px,#250302 212.5px,#1f0202 214.5px,#200202 218.5px,#1e0202 220.5px,#210302 222.5px,#1e0202 225.5px,#210302 227.5px,#1e0202 229.5px,#210302 232.5px,#1e0202 234.5px,#210302 237.5px,#1e0202 239.5px,#210302 242.5px,#1e0202 244.5px,#210302 247.5px,#1e0202 249.5px,#220302 252.5px,#1f0202 254.5px,#270302 256.5px,#220302 258.5px,#220302 259.5px,#2c0403 261.5px,#240302 263.5px,#250302 264.5px,#320503 266.5px,#250302 268.5px,#270302 269.5px,#320503 270.5px,#380604 271.5px,#260302 273.5px,#2b0403 274.5px,#390604 275.5px,#3f0705 276.5px,#280302 278.5px,#300403 279.5px,#430705 280.5px,#470806 281.5px,#2c0403 283.5px,#380604 284.5px,#4e0907 285.5px,#500a07 286.5px,#3c0604 287.5px,#310503 288.5px,#400705 289.5px,#560b08 290.5px,#550b08 291.5px,#3e0705 292.5px,#350504 293.5px,#5e0d09 295.5px,#590c08 296.5px,#400705 297.5px,#390604 298.5px,#660e0a 300.5px,#5d0c09 301.5px,#420705 302.5px,#3e0705 303.5px,#580b08 304.5px,#6e100c 305.5px,#610d09 306.5px,#440805 307.5px,#430705 308.5px,#610d09 309.5px,#76120d 310.5px,#650e0a 311.5px,#480806 312.5px,#4b0906 313.5px,#6e100c 314.5px,#82150f 315.5px,#6b100b 316.5px,#4d0906 317.5px,#550b08 318.5px,#7d140e 319.5px,#8e1812 320.5px,#520a07 322.5px,#5f0d09 323.5px,#881610 324.5px,#931912 325.5px,#70110c 326.5px,#520a07 327.5px,#630e0a 328.5px,#8c1811 329.5px,#921912 330.5px,#6c100b 331.5px,#520a07 332.5px,#680f0b 333.5px,#901912 334.5px,#911912 335.5px,#690f0b 336.5px,#530a07 337.5px,#71110c 338.5px,#9b1c14 339.5px,#981b14 340.5px,#6e100c 341.5px,#5b0c09 342.5px,#80140f 343.5px,#ac2018 344.5px,#a21e16 345.5px,#74110d 346.5px,#670f0a 347.5px,#cb2a1f 349.5px,#bc251c 350.5px,#851610 351.5px,#7d140e 352.5px,#bb251b 353.5px,#e53d28 354.5px,#d62d22 355.5px,#951a13 356.5px,#951a13 357.5px,#e23125 358.5px,#e95c2d 359.5px,#e43627 360.5px,#9f1d15 361.5px,#a61f17 362.5px,#e64128 363.5px,#ea622e 364.5px,#e23125 365.5px,#991b14 366.5px,#a71f17 367.5px,#e64028 368.5px,#e9582c 369.5px,#d22c21 370.5px,#911912 371.5px,#a71f17 372.5px,#e53e28 373.5px,#e74d2a 374.5px,#c2271d 375.5px,#891711 376.5px,#a81f17 377.5px,#e53b27 378.5px,#e64128 379.5px,#b22219 380.5px,#83150f 381.5px,#a61f17 382.5px,#e23126 383.5px,#dc2f24 384.5px,#991b14 385.5px,#73110c 386.5px,#971a13 387.5px,#c7281e 388.5px,#ba241b 389.5px,#7f140f 390.5px,#640e0a 391.5px,#851610 392.5px,#aa2017 393.5px,#971a13 394.5px,#640e0a 395.5px,#520a07 396.5px,#6d100b 397.5px,#83150f 398.5px,#6f100c 399.5px,#490806 400.5px,#3e0705 401.5px,#510a07 402.5px,#5b0c09 403.5px,#4a0906 404.5px,#310503 405.5px,#2d0403 406.5px,#390604 407.5px,#3b0604 408.5px,#230302 410.5px,#200302 411.5px,#240302 413.5px,#1e0202 415.5px,#1f0202 418.5px,#1b0202 421.5px,#110101 435.5px)"></div>
<div class="c" style="left:363px;top:1141px;width:39px;height:436px;background:linear-gradient(#420705 0.5px,#3c0604 1.5px,#4f0a07 3.5px,#4d0907 4.5px,#410705 5.5px,#3b0604 6.5px,#4f0a07 8.5px,#4c0906 9.5px,#3f0705 10.5px,#3b0604 11.5px,#4f0a07 13.5px,#4a0906 14.5px,#3d0605 15.5px,#3b0604 16.5px,#4f0a07 18.5px,#480806 19.5px,#3c0604 20.5px,#3b0604 21.5px,#470806 22.5px,#4e0907 23.5px,#3b0604 25.5px,#3c0604 26.5px,#470806 27.5px,#4d0907 28.5px,#3a0604 30.5px,#3c0604 31.5px,#480806 32.5px,#4c0906 33.5px,#390604 35.5px,#3d0604 36.5px,#480806 37.5px,#4b0906 38.5px,#380604 40.5px,#3d0605 41.5px,#490806 42.5px,#4a0906 43.5px,#370604 45.5px,#3e0705 46.5px,#490806 47.5px,#480806 48.5px,#3d0605 49.5px,#370504 50.5px,#3e0705 51.5px,#490806 52.5px,#470806 53.5px,#3b0604 54.5px,#360504 55.5px,#480806 57.5px,#450806 58.5px,#3a0604 59.5px,#360504 60.5px,#480806 62.5px,#440805 63.5px,#380604 64.5px,#360504 65.5px,#480806 67.5px,#420705 68.5px,#370504 69.5px,#360504 70.5px,#410705 71.5px,#470806 72.5px,#360504 74.5px,#370504 75.5px,#410705 76.5px,#460806 77.5px,#350504 79.5px,#370504 80.5px,#410705 81.5px,#450806 82.5px,#340504 84.5px,#370604 85.5px,#420705 86.5px,#440805 87.5px,#330503 89.5px,#380604 90.5px,#420705 91.5px,#430705 92.5px,#320503 94.5px,#380604 95.5px,#420705 96.5px,#420705 97.5px,#370604 98.5px,#320503 99.5px,#420705 101.5px,#400705 102.5px,#360504 103.5px,#320503 104.5px,#420705 106.5px,#3f0705 107.5px,#340504 108.5px,#310503 109.5px,#410705 111.5px,#3d0605 112.5px,#330503 113.5px,#310503 114.5px,#410705 116.5px,#320503 118.5px,#310503 119.5px,#400705 121.5px,#310503 123.5px,#310503 124.5px,#3b0604 125.5px,#3f0705 126.5px,#300403 128.5px,#320503 129.5px,#3b0604 130.5px,#3e0705 131.5px,#2f0403 133.5px,#320503 134.5px,#3b0604 135.5px,#3d0605 136.5px,#2e0403 138.5px,#320503 139.5px,#3b0604 140.5px,#3c0604 141.5px,#330504 142.5px,#2e0403 143.5px,#3b0604 145.5px,#3b0604 146.5px,#320503 147.5px,#2d0403 148.5px,#3b0604 150.5px,#3a0604 151.5px,#310503 152.5px,#2d0403 153.5px,#3b0604 155.5px,#380604 156.5px,#2f0403 157.5px,#2d0403 158.5px,#3a0604 160.5px,#370504 161.5px,#2e0403 162.5px,#2d0403 163.5px,#3a0604 165.5px,#2d0403 167.5px,#2d0403 168.5px,#350504 169.5px,#390604 170.5px,#2d0403 172.5px,#2d0403 173.5px,#350504 174.5px,#380604 175.5px,#2b0403 177.5px,#2c0403 178.5px,#320503 179.5px,#340504 180.5px,#290303 182.5px,#2a0403 183.5px,#300403 184.5px,#300503 185.5px,#270302 187.5px,#2d0403 189.5px,#2d0403 190.5px,#250302 192.5px,#2a0403 194.5px,#2a0403 195.5px,#230302 197.5px,#270302 199.5px,#210302 202.5px,#240302 204.5px,#1f0202 207.5px,#220302 209.5px,#1e0202 212.5px,#210302 214.5px,#1d0202 217.5px,#200202 219.5px,#1e0202 222.5px,#210302 224.5px,#1e0202 226.5px,#230302 229.5px,#1f0202 231.5px,#240302 234.5px,#1f0202 236.5px,#250302 238.5px,#220302 240.5px,#200202 241.5px,#270302 244.5px,#210302 246.5px,#280302 248.5px,#280302 249.5px,#210302 251.5px,#2c0403 253.5px,#2c0403 254.5px,#260302 255.5px,#240302 256.5px,#340504 258.5px,#320503 259.5px,#280302 260.5px,#260302 261.5px,#3c0604 263.5px,#370504 264.5px,#290403 265.5px,#290403 266.5px,#390604 267.5px,#440805 268.5px,#3b0604 269.5px,#2b0403 270.5px,#2c0403 271.5px,#3e0705 272.5px,#470806 273.5px,#2b0403 275.5px,#2f0403 276.5px,#420705 277.5px,#490806 278.5px,#2c0403 280.5px,#330503 281.5px,#470806 282.5px,#4c0906 283.5px,#2d0403 285.5px,#370504 286.5px,#4c0906 287.5px,#4f0a07 288.5px,#3c0604 289.5px,#2f0403 290.5px,#3c0604 291.5px,#510a07 292.5px,#510a07 293.5px,#3d0604 294.5px,#310503 295.5px,#410705 296.5px,#560b08 297.5px,#530a07 298.5px,#3d0605 299.5px,#340504 300.5px,#5b0c08 302.5px,#550b08 303.5px,#3d0605 304.5px,#360504 305.5px,#600d09 307.5px,#570b08 308.5px,#3e0705 309.5px,#3a0604 310.5px,#510a07 311.5px,#630e0a 312.5px,#560b08 313.5px,#3c0604 314.5px,#3b0604 315.5px,#540b07 316.5px,#630e0a 317.5px,#530a07 318.5px,#3b0604 319.5px,#3d0605 320.5px,#570b08 321.5px,#630e0a 322.5px,#520a07 323.5px,#3c0604 324.5px,#430705 325.5px,#600d09 326.5px,#6d100b 327.5px,#400705 329.5px,#4c0906 330.5px,#6d100b 331.5px,#76120d 332.5px,#450805 334.5px,#550b08 335.5px,#78130d 336.5px,#7d140e 337.5px,#5e0d09 338.5px,#480806 339.5px,#5e0c09 340.5px,#83150f 341.5px,#861610 342.5px,#630e0a 343.5px,#500a07 344.5px,#6f100c 345.5px,#991b14 346.5px,#951a13 347.5px,#6c100b 348.5px,#5b0c08 349.5px,#80140f 350.5px,#ab2018 351.5px,#a11d15 352.5px,#72110c 353.5px,#640e0a 354.5px,#bd251c 356.5px,#ab2018 357.5px,#77120d 358.5px,#71110c 359.5px,#a81f17 360.5px,#d42d22 361.5px,#ba251b 362.5px,#81150f 363.5px,#80140f 364.5px,#bd261c 365.5px,#e43326 366.5px,#bf261c 367.5px,#81150f 368.5px,#83150f 369.5px,#bb251c 370.5px,#d22c21 371.5px,#a31e16 372.5px,#6e100b 373.5px,#76120d 374.5px,#a61f17 375.5px,#b12219 376.5px,#83150f 377.5px,#590b08 378.5px,#620e0a 379.5px,#851610 380.5px,#861610 381.5px,#600d09 382.5px,#420705 383.5px,#4b0906 384.5px,#610d09 385.5px,#5b0c09 386.5px,#3f0705 387.5px,#2e0403 388.5px,#360504 389.5px,#440805 390.5px,#3f0705 391.5px,#2d0403 392.5px,#250302 393.5px,#2b0403 395.5px,#1b0202 398.5px,#170201 401.5px,#110101 435.5px)"></div>
<div class="c" style="left:402px;top:1141px;width:38px;height:436px;background:linear-gradient(#310503 0.5px,#390604 1.5px,#3b0604 2.5px,#2d0403 4.5px,#310503 5.5px,#390604 6.5px,#3a0604 7.5px,#2d0403 9.5px,#310503 10.5px,#390604 11.5px,#390604 12.5px,#2c0403 14.5px,#390604 16.5px,#380604 17.5px,#300403 18.5px,#2c0403 19.5px,#390604 21.5px,#370504 22.5px,#2e0403 23.5px,#2c0403 24.5px,#390604 26.5px,#350504 27.5px,#2d0403 28.5px,#2c0403 29.5px,#380604 31.5px,#2d0403 33.5px,#2c0403 34.5px,#370604 36.5px,#2c0403 38.5px,#2d0403 39.5px,#340504 40.5px,#370504 41.5px,#2b0403 43.5px,#2d0403 44.5px,#340504 45.5px,#360504 46.5px,#2b0403 48.5px,#2d0403 49.5px,#340504 50.5px,#350504 51.5px,#2a0403 53.5px,#2d0403 54.5px,#340504 55.5px,#340504 56.5px,#2a0403 58.5px,#340504 60.5px,#330503 61.5px,#2a0403 63.5px,#330503 65.5px,#320503 66.5px,#290403 68.5px,#330503 70.5px,#310503 71.5px,#2b0403 72.5px,#290403 73.5px,#320503 75.5px,#300403 76.5px,#2a0403 77.5px,#290403 78.5px,#320503 80.5px,#290403 82.5px,#290403 83.5px,#310503 85.5px,#290303 87.5px,#290403 88.5px,#310503 90.5px,#280302 92.5px,#290403 93.5px,#300403 95.5px,#280302 97.5px,#290403 98.5px,#2e0403 99.5px,#2f0403 100.5px,#270302 102.5px,#2e0403 104.5px,#2e0403 105.5px,#270302 107.5px,#2e0403 109.5px,#2e0403 110.5px,#270302 112.5px,#2d0403 114.5px,#2d0403 115.5px,#260302 117.5px,#2d0403 119.5px,#2c0403 120.5px,#270302 121.5px,#260302 122.5px,#2d0403 124.5px,#260302 127.5px,#2c0403 129.5px,#260302 131.5px,#260302 132.5px,#2d0403 134.5px,#270302 136.5px,#270302 137.5px,#2e0403 139.5px,#270302 141.5px,#2e0403 143.5px,#2f0403 144.5px,#280302 146.5px,#310503 149.5px,#280303 151.5px,#310503 153.5px,#320503 154.5px,#290403 156.5px,#330503 158.5px,#330503 159.5px,#2a0403 161.5px,#340504 163.5px,#330504 164.5px,#2d0403 165.5px,#2b0403 166.5px,#360504 168.5px,#340504 169.5px,#2d0403 170.5px,#2b0403 171.5px,#380604 173.5px,#350504 174.5px,#2d0403 175.5px,#2c0403 176.5px,#370504 178.5px,#330503 179.5px,#2b0403 180.5px,#2b0403 181.5px,#350504 183.5px,#2a0403 185.5px,#2a0403 186.5px,#330503 188.5px,#280302 190.5px,#290403 191.5px,#2f0403 192.5px,#310503 193.5px,#260302 195.5px,#280303 196.5px,#2e0403 197.5px,#2f0403 198.5px,#250302 200.5px,#2c0403 202.5px,#2c0403 203.5px,#240302 205.5px,#2a0403 207.5px,#250302 209.5px,#220302 210.5px,#280302 212.5px,#210302 215.5px,#250302 217.5px,#200202 220.5px,#260302 222.5px,#210302 224.5px,#240302 226.5px,#250302 228.5px,#210302 229.5px,#210302 230.5px,#270302 232.5px,#210302 234.5px,#280303 237.5px,#210302 239.5px,#220302 240.5px,#290403 242.5px,#210302 244.5px,#2b0403 247.5px,#220302 249.5px,#2b0403 251.5px,#2c0403 252.5px,#230302 254.5px,#2d0403 256.5px,#2d0403 257.5px,#230302 259.5px,#2f0403 261.5px,#2e0403 262.5px,#270302 263.5px,#240302 264.5px,#310503 266.5px,#2f0403 267.5px,#270302 268.5px,#240302 269.5px,#330503 271.5px,#2f0403 272.5px,#260302 273.5px,#250302 274.5px,#340504 276.5px,#300403 277.5px,#260302 278.5px,#260302 279.5px,#370504 281.5px,#270302 283.5px,#280302 284.5px,#340504 285.5px,#3a0604 286.5px,#270302 288.5px,#2a0403 289.5px,#380604 290.5px,#3d0605 291.5px,#270302 293.5px,#2c0403 294.5px,#3c0604 295.5px,#400705 296.5px,#270302 298.5px,#300403 299.5px,#410705 300.5px,#430705 301.5px,#330503 302.5px,#290303 303.5px,#330503 304.5px,#450805 305.5px,#440805 306.5px,#330504 307.5px,#2a0403 308.5px,#370604 309.5px,#490806 310.5px,#460806 311.5px,#340504 312.5px,#2c0403 313.5px,#4c0906 315.5px,#480806 316.5px,#350504 317.5px,#300403 318.5px,#530a07 320.5px,#4c0906 321.5px,#370504 322.5px,#340504 323.5px,#4a0906 324.5px,#5b0c08 325.5px,#4f0a07 326.5px,#390604 327.5px,#3b0604 328.5px,#560b08 329.5px,#680f0b 330.5px,#590c08 331.5px,#410705 332.5px,#460806 333.5px,#680f0a 334.5px,#7a130e 335.5px,#650e0a 336.5px,#4a0906 337.5px,#540b07 338.5px,#7c130e 339.5px,#8d1811 340.5px,#530a07 342.5px,#640e0a 343.5px,#911912 344.5px,#9d1c15 345.5px,#78120d 346.5px,#590c08 347.5px,#71110c 348.5px,#9f1d15 349.5px,#a31e16 350.5px,#78120d 351.5px,#5b0c08 352.5px,#76120d 353.5px,#a11d15 354.5px,#9e1c15 355.5px,#71110c 356.5px,#590b08 357.5px,#77120d 358.5px,#9f1c15 359.5px,#961a13 360.5px,#690f0b 361.5px,#560b08 362.5px,#991b14 364.5px,#8b1711 365.5px,#600d09 366.5px,#540a07 367.5px,#931912 369.5px,#81150f 370.5px,#580b08 371.5px,#510a07 372.5px,#73110c 373.5px,#8b1711 374.5px,#76120d 375.5px,#4d0906 376.5px,#460806 377.5px,#5b0c08 378.5px,#600d09 379.5px,#2d0403 381.5px,#290403 382.5px,#2e0403 384.5px,#230302 386.5px,#240302 387.5px,#290403 388.5px,#2a0403 389.5px,#210302 391.5px,#220302 392.5px,#270302 393.5px,#270302 394.5px,#200202 396.5px,#240302 399.5px,#1e0202 401.5px,#210302 403.5px,#1d0202 407.5px,#110101 435.5px)"></div>
<div class="c" style="left:440px;top:1141px;width:39px;height:436px;background:linear-gradient(#2c0403 0.5px,#250302 3.5px,#2b0403 5.5px,#250302 8.5px,#2b0403 10.5px,#250302 12.5px,#280302 14.5px,#2a0403 15.5px,#250302 17.5px,#280302 19.5px,#2a0403 20.5px,#240302 22.5px,#290403 25.5px,#240302 27.5px,#280302 30.5px,#230302 32.5px,#280302 35.5px,#230302 37.5px,#270302 40.5px,#230302 42.5px,#270302 44.5px,#220302 47.5px,#260302 49.5px,#220302 52.5px,#260302 54.5px,#220302 57.5px,#250302 59.5px,#220302 62.5px,#250302 64.5px,#210302 67.5px,#240302 69.5px,#210302 72.5px,#230302 74.5px,#200302 76.5px,#230302 79.5px,#200202 81.5px,#210302 85.5px,#200302 87.5px,#220302 89.5px,#1f0202 91.5px,#210302 94.5px,#1f0202 96.5px,#200302 99.5px,#1f0202 102.5px,#200202 104.5px,#1e0202 106.5px,#1f0202 109.5px,#1e0202 117.5px,#1d0202 129.5px,#1f0202 137.5px,#1e0202 140.5px,#210302 143.5px,#210302 146.5px,#230302 148.5px,#210302 150.5px,#240302 153.5px,#220302 155.5px,#260302 157.5px,#230302 160.5px,#280302 162.5px,#240302 165.5px,#2a0403 167.5px,#250302 169.5px,#2b0403 172.5px,#260302 174.5px,#2b0403 176.5px,#280302 178.5px,#250302 179.5px,#2b0403 182.5px,#240302 184.5px,#2a0403 186.5px,#2a0403 187.5px,#240302 189.5px,#290403 191.5px,#290303 192.5px,#230302 194.5px,#280302 196.5px,#220302 199.5px,#270302 201.5px,#210302 204.5px,#250302 206.5px,#200302 209.5px,#240302 211.5px,#1f0202 213.5px,#220302 216.5px,#1e0202 219.5px,#210302 221.5px,#1e0202 223.5px,#220302 226.5px,#1e0202 228.5px,#230302 231.5px,#1f0202 233.5px,#230302 236.5px,#1f0202 238.5px,#240302 240.5px,#210302 242.5px,#1f0202 243.5px,#250302 245.5px,#200202 248.5px,#260302 250.5px,#200202 253.5px,#270302 255.5px,#210302 257.5px,#210302 258.5px,#280302 260.5px,#210302 262.5px,#260302 264.5px,#290303 265.5px,#210302 267.5px,#220302 268.5px,#290403 270.5px,#210302 272.5px,#2a0403 275.5px,#220302 277.5px,#240302 278.5px,#2a0403 279.5px,#2b0403 280.5px,#220302 282.5px,#2c0403 284.5px,#2c0403 285.5px,#230302 287.5px,#2e0403 289.5px,#2e0403 290.5px,#230302 292.5px,#310503 294.5px,#2f0403 295.5px,#270302 296.5px,#240302 297.5px,#330503 299.5px,#300403 300.5px,#270302 301.5px,#250302 302.5px,#360504 304.5px,#310503 305.5px,#270302 306.5px,#270302 307.5px,#390604 309.5px,#320503 310.5px,#270302 311.5px,#290303 312.5px,#370504 313.5px,#3f0705 314.5px,#360504 315.5px,#290303 316.5px,#2d0403 317.5px,#3f0705 318.5px,#470806 319.5px,#2c0403 321.5px,#330503 322.5px,#490806 323.5px,#510a07 324.5px,#320503 326.5px,#3f0705 327.5px,#590c08 328.5px,#600d09 329.5px,#4a0906 330.5px,#3b0604 331.5px,#4d0906 332.5px,#6c100b 333.5px,#6e100c 334.5px,#520a07 335.5px,#420705 336.5px,#590c08 337.5px,#78120d 338.5px,#71110c 339.5px,#4f0a07 340.5px,#400705 341.5px,#6c100b 343.5px,#620d0a 344.5px,#440805 345.5px,#3a0604 346.5px,#5f0d09 348.5px,#530a07 349.5px,#390604 350.5px,#330503 351.5px,#450805 352.5px,#510a07 353.5px,#440805 354.5px,#2f0403 355.5px,#2c0403 356.5px,#3b0604 357.5px,#420705 358.5px,#270302 360.5px,#270302 361.5px,#2f0403 362.5px,#310503 363.5px,#230302 365.5px,#260302 367.5px,#210302 369.5px,#1d0202 371.5px,#170201 376.5px,#110101 435.5px)"></div>
<div class="c" style="left:479px;top:1141px;width:39px;height:436px;background:linear-gradient(#140101 0.5px,#150201 145.5px,#180201 186.5px,#140101 230.5px,#1a0202 297.5px,#1b0202 301.5px,#1e0202 303.5px,#1c0202 305.5px,#210302 307.5px,#1f0202 310.5px,#250302 312.5px,#210302 315.5px,#2a0403 317.5px,#290403 318.5px,#240302 319.5px,#230302 320.5px,#2d0403 322.5px,#240302 324.5px,#230302 325.5px,#2c0403 327.5px,#230302 329.5px,#230302 330.5px,#2a0403 332.5px,#220302 334.5px,#220302 335.5px,#290303 337.5px,#200302 339.5px,#240302 342.5px,#1e0202 344.5px,#1e0202 347.5px,#110101 361.5px,#0e0101 435.5px)"></div>
<div class="c" style="left:518px;top:1141px;width:39px;height:436px;background:linear-gradient(#110101 0.5px,#150101 187.5px,#110101 230.5px,#120101 295.5px,#150101 315.5px,#0f0101 336.5px,#0e0101 435.5px)"></div>
<div class="c" style="left:557px;top:1141px;width:39px;height:436px;background:linear-gradient(#0e0101 0.5px,#0d0101 216.5px,#0e0101 435.5px)"></div>
<div class="c" style="left:754px;top:612px;width:39px;height:437px;background:linear-gradient(#eb682f 0.5px,#e95c2d 32.5px,#e64129 64.5px,#e43526 88.5px,#eb6c2f 123.5px,#f19937 148.5px,#f8d340 170.5px,#fcf446 184.5px,#fcf64e 200.5px,#fdf756 208.5px,#fdf96c 218.5px,#fefb96 234.5px,#fffecd 254.5px,#fffff0 266.5px,#fffff0 294.5px,#fffed7 301.5px,#fefcaa 314.5px,#fdfa7e 332.5px,#fdf85d 347.5px,#fdf753 353.5px,#fcf648 371.5px,#fcf446 393.5px,#f9e043 411.5px,#f5be3d 430.5px,#f5ba3c 436.5px)"></div>
<div class="c" style="left:793px;top:612px;width:39px;height:437px;background:linear-gradient(#e9582c 0.5px,#e9572c 64.5px,#e7482a 100.5px,#e53a27 131.5px,#e33226 151.5px,#d12c21 172.5px,#c9291f 188.5px,#c8291f 212.5px,#c1271d 229.5px,#ae2118 251.5px,#9d1c15 276.5px,#881710 303.5px,#7d140e 319.5px,#6a0f0b 338.5px,#560b08 355.5px,#460806 373.5px,#3e0705 395.5px,#2f0403 416.5px,#1e0202 436.5px)"></div>
<div class="c" style="left:832px;top:612px;width:38px;height:437px;background:linear-gradient(#82150f 0.5px,#74110d 65.5px,#470806 177.5px,#330503 219.5px,#1c0202 284.5px,#120101 319.5px,#110101 368.5px,#120101 401.5px,#0f0101 402.5px,#140101 403.5px,#1f0202 404.5px,#250302 405.5px,#180201 407.5px,#1e0202 408.5px,#2b0403 409.5px,#2c0403 410.5px,#200202 411.5px,#180201 412.5px,#200202 413.5px,#2c0403 414.5px,#2b0403 415.5px,#1e0202 416.5px,#180201 417.5px,#2c0403 419.5px,#2a0403 420.5px,#1d0202 421.5px,#180201 422.5px,#2d0403 424.5px,#290403 425.5px,#1c0202 426.5px,#190201 427.5px,#240302 428.5px,#250302 429.5px,#190201 430.5px,#130101 431.5px,#120101 432.5px,#1c0202 434.5px,#130101 436.5px)"></div>
<div class="c" style="left:870px;top:612px;width:39px;height:437px;background:linear-gradient(#320503 0.5px,#200202 112.5px,#130101 221.5px,#100101 287.5px,#0f0101 380.5px,#170201 382.5px,#140101 383.5px,#150101 384.5px,#1f0202 385.5px,#250302 386.5px,#160201 388.5px,#170201 389.5px,#200202 390.5px,#250302 391.5px,#160201 393.5px,#170201 394.5px,#210302 395.5px,#250302 396.5px,#150201 398.5px,#180201 399.5px,#220302 400.5px,#240302 401.5px,#150101 403.5px,#190201 404.5px,#220302 405.5px,#240302 406.5px,#150101 408.5px,#1a0202 409.5px,#230302 410.5px,#230302 411.5px,#130101 413.5px,#130101 414.5px,#0f0101 415.5px,#0e0101 436.5px)"></div>
<div class="c" style="left:909px;top:612px;width:39px;height:437px;background:linear-gradient(#110101 0.5px,#0f0101 370.5px,#110101 371.5px,#1e0202 373.5px,#150101 375.5px,#1a0202 376.5px,#230302 377.5px,#230302 378.5px,#1a0202 379.5px,#150101 380.5px,#240302 382.5px,#230302 383.5px,#190201 384.5px,#150101 385.5px,#240302 387.5px,#220302 388.5px,#180201 389.5px,#150101 390.5px,#250302 392.5px,#210302 393.5px,#180201 394.5px,#160201 395.5px,#250302 397.5px,#200302 398.5px,#170201 399.5px,#160201 400.5px,#250302 402.5px,#160201 404.5px,#170201 406.5px,#100101 407.5px,#0e0101 426.5px,#0e0101 436.5px)"></div>
<div class="c" style="left:948px;top:612px;width:38px;height:437px;background:linear-gradient(#0f0101 0.5px,#0f0101 355.5px,#1a0202 357.5px,#130101 359.5px,#200202 361.5px,#1f0202 362.5px,#170201 363.5px,#130101 364.5px,#200202 366.5px,#1e0202 367.5px,#160201 368.5px,#130101 369.5px,#200302 371.5px,#1d0202 372.5px,#150201 373.5px,#140101 374.5px,#200302 376.5px,#1d0202 377.5px,#150101 378.5px,#140101 379.5px,#210302 381.5px,#140101 383.5px,#150101 384.5px,#210302 386.5px,#140101 388.5px,#170201 390.5px,#100101 391.5px,#0e0101 420.5px,#0e0101 436.5px)"></div>
<div class="c" style="left:986px;top:612px;width:39px;height:437px;background:linear-gradient(#0f0101 0.5px,#100101 351.5px,#160201 352.5px,#170201 353.5px,#120101 355.5px,#1c0202 357.5px,#130101 359.5px,#120101 360.5px,#1c0202 362.5px,#120101 364.5px,#130101 365.5px,#1c0202 367.5px,#120101 369.5px,#130101 370.5px,#1a0201 371.5px,#1c0202 372.5px,#120101 374.5px,#140101 375.5px,#1a0202 376.5px,#1c0202 377.5px,#120101 379.5px,#140101 380.5px,#1b0202 381.5px,#1c0202 382.5px,#120101 384.5px,#140101 385.5px,#0f0101 387.5px,#0e0101 436.5px)"></div>
<div class="c" style="left:1025px;top:612px;width:39px;height:437px;background:#0e0101"></div>
<div class="c" style="left:1064px;top:612px;width:39px;height:437px;background:#0e0101"></div>
<div class="c" style="left:1103px;top:612px;width:38px;height:437px;background:#0e0101"></div>
<div class="c" style="left:1141px;top:612px;width:39px;height:437px;background:#0e0101"></div>
<div class="c" style="left:1180px;top:612px;width:39px;height:437px;background:#0e0101"></div>
<div class="c" style="left:1219px;top:612px;width:39px;height:437px;background:#0e0101"></div>
<div class="c" style="left:754px;top:1142px;width:39px;height:437px;background:linear-gradient(#0e0101 0.5px,#0f0101 215.5px,#110101 303.5px,#190201 350.5px,#1c0202 360.5px,#1e0202 362.5px,#1d0202 365.5px,#200302 367.5px,#1f0202 370.5px,#230302 372.5px,#200202 374.5px,#270302 376.5px,#280302 377.5px,#230302 378.5px,#220302 379.5px,#2d0403 381.5px,#2c0403 382.5px,#250302 383.5px,#240302 384.5px,#320503 386.5px,#300403 387.5px,#270302 388.5px,#260302 389.5px,#380604 391.5px,#330503 392.5px,#280302 393.5px,#280302 394.5px,#360504 395.5px,#3f0705 396.5px,#370604 397.5px,#290403 398.5px,#2c0403 399.5px,#3d0605 400.5px,#470806 401.5px,#2c0403 403.5px,#310503 404.5px,#450805 405.5px,#4e0907 406.5px,#320503 408.5px,#3c0604 409.5px,#590b08 410.5px,#630e0a 411.5px,#4f0a07 412.5px,#3f0705 413.5px,#550b08 414.5px,#83150f 415.5px,#931913 416.5px,#76120d 417.5px,#610d09 418.5px,#8f1812 419.5px,#e03125 420.5px,#e64329 421.5px,#c4271e 422.5px,#a91f17 423.5px,#e7482a 424.5px,#f4b03b 425.5px,#f09436 426.5px,#e23125 427.5px,#b02119 428.5px,#e74729 429.5px,#f19e38 430.5px,#f09436 431.5px,#e64128 432.5px,#d52d22 433.5px,#ec7230 434.5px,#f4b33b 435.5px,#ee8534 436.5px)"></div>
<div class="c" style="left:793px;top:1142px;width:39px;height:437px;background:linear-gradient(#220302 0.5px,#230302 2.5px,#230302 4.5px,#210302 6.5px,#240302 8.5px,#210302 11.5px,#240302 13.5px,#210302 16.5px,#240302 18.5px,#210302 21.5px,#240302 23.5px,#210302 25.5px,#240302 28.5px,#210302 30.5px,#240302 33.5px,#210302 35.5px,#240302 37.5px,#210302 40.5px,#240302 42.5px,#210302 45.5px,#230302 48.5px,#210302 50.5px,#230302 53.5px,#210302 55.5px,#220302 58.5px,#220302 63.5px,#210302 65.5px,#220302 68.5px,#210302 70.5px,#230302 72.5px,#200202 74.5px,#230302 77.5px,#200202 79.5px,#230302 82.5px,#200202 84.5px,#230302 86.5px,#210302 90.5px,#220302 92.5px,#200202 94.5px,#220302 97.5px,#200202 99.5px,#220302 102.5px,#200202 104.5px,#210302 107.5px,#210302 112.5px,#210302 117.5px,#200202 119.5px,#220302 121.5px,#1f0202 123.5px,#220302 126.5px,#1f0202 128.5px,#220302 131.5px,#1f0202 133.5px,#220302 135.5px,#200302 139.5px,#210302 141.5px,#200302 144.5px,#210302 146.5px,#1f0202 148.5px,#210302 151.5px,#1f0202 153.5px,#200302 156.5px,#1f0202 158.5px,#210302 160.5px,#1f0202 163.5px,#210302 165.5px,#1f0202 168.5px,#210302 170.5px,#1f0202 173.5px,#210302 175.5px,#1e0202 177.5px,#1e0202 181.5px,#150101 224.5px,#170201 286.5px,#1c0202 306.5px,#1c0202 310.5px,#1d0202 313.5px,#1d0202 315.5px,#1f0202 317.5px,#1e0202 320.5px,#210302 322.5px,#1e0202 324.5px,#230302 327.5px,#1f0202 329.5px,#240302 331.5px,#200202 334.5px,#280302 336.5px,#280302 337.5px,#230302 338.5px,#220302 339.5px,#2e0403 341.5px,#2c0403 342.5px,#260302 343.5px,#240302 344.5px,#340504 346.5px,#310503 347.5px,#270302 348.5px,#270302 349.5px,#3a0604 351.5px,#340504 352.5px,#280302 353.5px,#290403 354.5px,#380604 355.5px,#400705 356.5px,#290303 358.5px,#2c0403 359.5px,#3e0705 360.5px,#460806 361.5px,#2b0403 363.5px,#320503 364.5px,#460806 365.5px,#4c0906 366.5px,#2e0403 368.5px,#380604 369.5px,#4e0907 370.5px,#530a07 371.5px,#410705 372.5px,#330503 373.5px,#410705 374.5px,#5a0c08 375.5px,#5d0c09 376.5px,#460806 377.5px,#390604 378.5px,#4b0906 379.5px,#670e0a 380.5px,#650e0a 381.5px,#4a0906 382.5px,#3e0705 383.5px,#6f100c 385.5px,#690f0b 386.5px,#4b0906 387.5px,#410705 388.5px,#75120d 390.5px,#6b0f0b 391.5px,#4b0906 392.5px,#450805 393.5px,#841510 395.5px,#79130d 396.5px,#580b08 397.5px,#590c08 398.5px,#871610 399.5px,#a91f17 400.5px,#941a13 401.5px,#6b0f0b 402.5px,#74120d 403.5px,#bb251b 404.5px,#e53b27 405.5px,#d12c21 406.5px,#9b1b14 407.5px,#b7231a 408.5px,#e95b2d 409.5px,#ec7631 410.5px,#e53a27 411.5px,#b6231a 412.5px,#e53727 413.5px,#f3b03b 414.5px,#fae644 415.5px,#e8512b 417.5px,#f19837 418.5px,#fdf862 419.5px,#fdfa7b 420.5px,#f5b93c 421.5px,#ea602e 422.5px,#f3ab3a 423.5px,#fdfa7b 424.5px,#fefa84 425.5px,#f5b83c 426.5px,#eb6d30 427.5px,#f6c23e 428.5px,#fdf96a 429.5px,#fcf547 430.5px,#eb6c2f 431.5px,#db2f23 432.5px,#eb6a2f 433.5px,#f4b73c 434.5px,#f19837 435.5px,#e43426 436.5px)"></div>
<div class="c" style="left:832px;top:1142px;width:38px;height:437px;background:linear-gradient(#340504 0.5px,#2d0403 1.5px,#310503 2.5px,#3a0604 3.5px,#3b0604 4.5px,#2d0403 6.5px,#3a0604 8.5px,#3a0604 9.5px,#2d0403 11.5px,#3b0604 13.5px,#390604 14.5px,#310503 15.5px,#2d0403 16.5px,#3b0604 18.5px,#380604 19.5px,#300403 20.5px,#2d0403 21.5px,#3b0604 23.5px,#370604 24.5px,#2f0403 25.5px,#2d0403 26.5px,#3b0604 28.5px,#2e0403 30.5px,#2e0403 31.5px,#3b0604 33.5px,#2d0403 35.5px,#2e0403 36.5px,#360504 37.5px,#3a0604 38.5px,#2d0403 40.5px,#2f0403 41.5px,#370504 42.5px,#3a0604 43.5px,#2d0403 45.5px,#2f0403 46.5px,#370604 47.5px,#390604 48.5px,#2c0403 50.5px,#300403 51.5px,#380604 52.5px,#390604 53.5px,#2c0403 55.5px,#300503 56.5px,#380604 57.5px,#380604 58.5px,#300403 59.5px,#2c0403 60.5px,#380604 62.5px,#370604 63.5px,#2f0403 64.5px,#2c0403 65.5px,#380604 67.5px,#360504 68.5px,#2e0403 69.5px,#2c0403 70.5px,#380604 72.5px,#350504 73.5px,#2e0403 74.5px,#2c0403 75.5px,#380604 77.5px,#350504 78.5px,#2d0403 79.5px,#2d0403 80.5px,#380604 82.5px,#340504 83.5px,#2c0403 84.5px,#2d0403 85.5px,#380604 87.5px,#2c0403 89.5px,#2d0403 90.5px,#350504 91.5px,#370604 92.5px,#2b0403 94.5px,#2e0403 95.5px,#350504 96.5px,#370504 97.5px,#2b0403 99.5px,#2e0403 100.5px,#360504 101.5px,#360504 102.5px,#2b0403 104.5px,#360504 106.5px,#360504 107.5px,#2b0403 109.5px,#360504 111.5px,#350504 112.5px,#2e0403 113.5px,#2b0403 114.5px,#360504 116.5px,#340504 117.5px,#2d0403 118.5px,#2b0403 119.5px,#360504 121.5px,#330504 122.5px,#2c0403 123.5px,#2b0403 124.5px,#360504 126.5px,#330503 127.5px,#2c0403 128.5px,#2b0403 129.5px,#360504 131.5px,#2b0403 133.5px,#2c0403 134.5px,#360504 136.5px,#2b0403 138.5px,#2c0403 139.5px,#330503 140.5px,#350504 141.5px,#2a0403 143.5px,#330503 145.5px,#350504 146.5px,#2a0403 148.5px,#330504 150.5px,#340504 151.5px,#2a0403 153.5px,#340504 155.5px,#340504 156.5px,#2d0403 157.5px,#2a0403 158.5px,#340504 160.5px,#330503 161.5px,#2a0403 163.5px,#340504 165.5px,#320503 166.5px,#2c0403 167.5px,#2a0403 168.5px,#340504 170.5px,#2b0403 172.5px,#2a0403 173.5px,#330504 175.5px,#2a0403 177.5px,#290403 178.5px,#310503 180.5px,#280302 182.5px,#280302 183.5px,#2e0403 185.5px,#260302 187.5px,#260302 188.5px,#2c0403 190.5px,#240302 192.5px,#290403 195.5px,#220302 197.5px,#260302 200.5px,#210302 202.5px,#240302 205.5px,#1f0202 207.5px,#220302 209.5px,#1e0202 213.5px,#1c0202 222.5px,#1d0202 240.5px,#1c0202 242.5px,#1c0202 247.5px,#1c0202 252.5px,#1e0202 254.5px,#1d0202 257.5px,#1f0202 259.5px,#1c0202 261.5px,#200202 263.5px,#1d0202 266.5px,#200202 269.5px,#1d0202 271.5px,#210302 273.5px,#1e0202 276.5px,#230302 278.5px,#1f0202 280.5px,#240302 282.5px,#270302 283.5px,#210302 285.5px,#220302 286.5px,#280302 287.5px,#2a0403 288.5px,#220302 290.5px,#250302 291.5px,#2c0403 292.5px,#2e0403 293.5px,#240302 295.5px,#270302 296.5px,#300503 297.5px,#320503 298.5px,#250302 300.5px,#2a0403 301.5px,#340504 302.5px,#350504 303.5px,#2b0403 304.5px,#250302 305.5px,#2d0403 306.5px,#390604 307.5px,#380604 308.5px,#2c0403 309.5px,#260302 310.5px,#3d0605 312.5px,#3a0604 313.5px,#2c0403 314.5px,#270302 315.5px,#420705 317.5px,#3c0604 318.5px,#2c0403 319.5px,#290403 320.5px,#460806 322.5px,#3e0705 323.5px,#2d0403 324.5px,#2d0403 325.5px,#3f0705 326.5px,#4c0906 327.5px,#410705 328.5px,#2f0403 329.5px,#310503 330.5px,#460806 331.5px,#510a07 332.5px,#440805 333.5px,#310503 334.5px,#360504 335.5px,#4d0907 336.5px,#570b08 337.5px,#340504 339.5px,#3c0604 340.5px,#550b08 341.5px,#5c0c09 342.5px,#360504 344.5px,#420705 345.5px,#5d0c09 346.5px,#630e0a 347.5px,#4c0906 348.5px,#3b0604 349.5px,#4c0906 350.5px,#690f0b 351.5px,#6a0f0b 352.5px,#4f0a07 353.5px,#3f0705 354.5px,#550b08 355.5px,#73110c 356.5px,#71110c 357.5px,#520a07 358.5px,#460806 359.5px,#620e0a 360.5px,#851610 361.5px,#7f140f 362.5px,#5b0c09 363.5px,#510a07 364.5px,#77120d 365.5px,#a31e16 366.5px,#9c1c14 367.5px,#72110c 368.5px,#6e100c 369.5px,#a81f17 370.5px,#dc2f24 371.5px,#c7291e 372.5px,#891711 373.5px,#82150f 374.5px,#bb251b 375.5px,#db2f23 376.5px,#b12219 377.5px,#76120d 378.5px,#77120d 379.5px,#ad2118 380.5px,#cb2a20 381.5px,#a61f17 382.5px,#74120d 383.5px,#82150f 384.5px,#c0261d 385.5px,#de3024 386.5px,#b6231a 387.5px,#881710 388.5px,#ab2018 389.5px,#e8522b 390.5px,#ec7431 391.5px,#e64028 392.5px,#bf261c 393.5px,#e74d2a 394.5px,#f7cb3f 395.5px,#f7cb3f 396.5px,#e9582c 397.5px,#be261c 398.5px,#ea642e 399.5px,#fcf547 400.5px,#fdf970 401.5px,#f6c53e 402.5px,#ef8834 403.5px,#fdf751 404.5px,#fffff0 405.5px,#fffff0 406.5px,#fdf861 407.5px,#f7cb3f 408.5px,#fefdc4 409.5px,#fffff0 410.5px,#fffff0 411.5px,#fdf755 412.5px,#f5c03d 413.5px,#fefb89 414.5px,#fffff0 415.5px,#fefca9 416.5px,#f3ae3a 417.5px,#ef8c35 418.5px,#fdf754 419.5px,#ffffe7 420.5px,#fdf85a 421.5px,#ec7631 422.5px,#e95b2d 423.5px,#f4b33b 424.5px,#f8d441 425.5px,#ed7932 426.5px,#bb251b 427.5px,#a71f17 428.5px,#c9291f 429.5px,#b3221a 430.5px,#650e0a 431.5px,#2a0403 432.5px,#240302 433.5px,#260302 434.5px,#1e0202 436.5px)"></div>
<div class="c" style="left:870px;top:1142px;width:39px;height:437px;background:linear-gradient(#2e0403 0.5px,#3c0604 2.5px,#380604 3.5px,#2f0403 4.5px,#2e0403 5.5px,#3c0604 7.5px,#2e0403 9.5px,#2f0403 10.5px,#3c0604 12.5px,#2e0403 14.5px,#2f0403 15.5px,#380604 16.5px,#3b0604 17.5px,#2d0403 19.5px,#300403 20.5px,#380604 21.5px,#3b0604 22.5px,#2d0403 24.5px,#300503 25.5px,#390604 26.5px,#3a0604 27.5px,#2d0403 29.5px,#310503 30.5px,#390604 31.5px,#390604 32.5px,#2c0403 34.5px,#390604 36.5px,#380604 37.5px,#300403 38.5px,#2c0403 39.5px,#3a0604 41.5px,#380604 42.5px,#2f0403 43.5px,#2d0403 44.5px,#3a0604 46.5px,#370504 47.5px,#2e0403 48.5px,#2d0403 49.5px,#3a0604 51.5px,#360504 52.5px,#2e0403 53.5px,#2d0403 54.5px,#350504 55.5px,#390604 56.5px,#350504 57.5px,#2d0403 58.5px,#2d0403 59.5px,#350504 60.5px,#390604 61.5px,#2c0403 63.5px,#2e0403 64.5px,#360504 65.5px,#390604 66.5px,#2c0403 68.5px,#2e0403 69.5px,#360504 70.5px,#380604 71.5px,#2c0403 73.5px,#2f0403 74.5px,#370504 75.5px,#380604 76.5px,#2c0403 78.5px,#370504 80.5px,#370504 81.5px,#2b0403 83.5px,#370604 85.5px,#360504 86.5px,#2b0403 88.5px,#370604 90.5px,#350504 91.5px,#2e0403 92.5px,#2c0403 93.5px,#370604 95.5px,#350504 96.5px,#2d0403 97.5px,#2c0403 98.5px,#370604 100.5px,#340504 101.5px,#2c0403 102.5px,#2c0403 103.5px,#370504 105.5px,#2c0403 107.5px,#2c0403 108.5px,#370504 110.5px,#2b0403 112.5px,#2d0403 113.5px,#340504 114.5px,#360504 115.5px,#2b0403 117.5px,#2d0403 118.5px,#340504 119.5px,#360504 120.5px,#2b0403 122.5px,#2e0403 123.5px,#350504 124.5px,#350504 125.5px,#2b0403 127.5px,#2e0403 128.5px,#350504 129.5px,#350504 130.5px,#2a0403 132.5px,#350504 134.5px,#340504 135.5px,#2d0403 136.5px,#2a0403 137.5px,#350504 139.5px,#330504 140.5px,#2a0403 142.5px,#350504 144.5px,#330503 145.5px,#2c0403 146.5px,#2b0403 147.5px,#350504 149.5px,#320503 150.5px,#2b0403 151.5px,#2b0403 152.5px,#350504 154.5px,#2b0403 156.5px,#2b0403 157.5px,#350504 159.5px,#2a0403 161.5px,#2b0403 162.5px,#320503 163.5px,#340504 164.5px,#2a0403 166.5px,#2c0403 167.5px,#320503 168.5px,#340504 169.5px,#2a0403 171.5px,#2c0403 172.5px,#320503 173.5px,#330503 174.5px,#290403 176.5px,#330503 178.5px,#330503 179.5px,#2c0403 180.5px,#290303 181.5px,#320503 183.5px,#310503 184.5px,#280302 186.5px,#320503 188.5px,#300403 189.5px,#270302 191.5px,#310503 193.5px,#280302 195.5px,#270302 196.5px,#300403 198.5px,#270302 200.5px,#260302 201.5px,#2e0403 203.5px,#250302 205.5px,#250302 206.5px,#2c0403 208.5px,#230302 210.5px,#290403 213.5px,#220302 215.5px,#270302 218.5px,#210302 220.5px,#280302 223.5px,#210302 225.5px,#280303 227.5px,#290303 228.5px,#220302 230.5px,#2a0403 232.5px,#2a0403 233.5px,#220302 235.5px,#2c0403 237.5px,#230302 240.5px,#2d0403 242.5px,#2b0403 243.5px,#250302 244.5px,#230302 245.5px,#2f0403 247.5px,#2c0403 248.5px,#250302 249.5px,#250302 250.5px,#320503 252.5px,#250302 254.5px,#260302 255.5px,#2f0403 256.5px,#340504 257.5px,#260302 259.5px,#280302 260.5px,#320503 261.5px,#370504 262.5px,#260302 264.5px,#2a0403 265.5px,#370504 266.5px,#3b0604 267.5px,#260302 269.5px,#2d0403 270.5px,#3b0604 271.5px,#3e0705 272.5px,#270302 274.5px,#300403 275.5px,#400705 276.5px,#410705 277.5px,#310503 278.5px,#280302 279.5px,#340504 280.5px,#450805 281.5px,#440805 282.5px,#330503 283.5px,#2b0403 284.5px,#4b0906 286.5px,#460806 287.5px,#330504 288.5px,#2d0403 289.5px,#4e0907 291.5px,#470806 292.5px,#330504 293.5px,#300403 294.5px,#430705 295.5px,#520a07 296.5px,#480806 297.5px,#340504 298.5px,#330503 299.5px,#470806 300.5px,#550b08 301.5px,#490806 302.5px,#340504 303.5px,#360504 304.5px,#4d0906 305.5px,#590c08 306.5px,#4a0906 307.5px,#360504 308.5px,#3b0604 309.5px,#540b08 310.5px,#5f0d09 311.5px,#380604 313.5px,#410705 314.5px,#5c0c09 315.5px,#640e0a 316.5px,#3a0604 318.5px,#470806 319.5px,#640e0a 320.5px,#690f0b 321.5px,#500a07 322.5px,#3e0705 323.5px,#510a07 324.5px,#71110c 325.5px,#75120d 326.5px,#570b08 327.5px,#460806 328.5px,#5f0d09 329.5px,#83150f 330.5px,#82150f 331.5px,#5f0d09 332.5px,#4f0a07 333.5px,#6f100c 334.5px,#961a13 335.5px,#8e1812 336.5px,#660e0a 337.5px,#590c08 338.5px,#a91f17 340.5px,#9b1b14 341.5px,#6d100b 342.5px,#650e0a 343.5px,#951a13 344.5px,#be261c 345.5px,#a81f17 346.5px,#75120d 347.5px,#73110c 348.5px,#ac2018 349.5px,#d22c21 350.5px,#b22219 351.5px,#7b130e 352.5px,#80140f 353.5px,#bd251c 354.5px,#de3024 355.5px,#b4231a 356.5px,#7d140e 357.5px,#891711 358.5px,#cb2a1f 359.5px,#e43326 360.5px,#b4231a 361.5px,#7f140f 362.5px,#941a13 363.5px,#d92e23 364.5px,#e53727 365.5px,#b02219 366.5px,#7e140e 367.5px,#9b1c14 368.5px,#de3024 369.5px,#e43526 370.5px,#ad2118 371.5px,#82150f 372.5px,#ab2018 373.5px,#e64429 374.5px,#e74c2a 375.5px,#bf261c 376.5px,#9b1c14 377.5px,#de3024 378.5px,#ee8333 379.5px,#ee8734 380.5px,#e53c28 381.5px,#ca2a1f 382.5px,#ec7130 383.5px,#f9dd42 384.5px,#f8d541 385.5px,#ec7030 386.5px,#e8552c 387.5px,#f7cf40 388.5px,#fefc9e 389.5px,#fdf96c 390.5px,#f2a238 391.5px,#ef8f35 392.5px,#fdf970 393.5px,#fffff0 394.5px,#fffff0 395.5px,#f8d841 396.5px,#f8d641 397.5px,#fffff0 398.5px,#fffff0 400.5px,#f7cf40 401.5px,#f7cf40 402.5px,#fffedb 403.5px,#fffff0 404.5px,#fdf96c 405.5px,#ef8b35 406.5px,#f09436 407.5px,#fcf64d 408.5px,#fdf85b 409.5px,#f19d38 410.5px,#df3025 411.5px,#e64329 412.5px,#f09636 413.5px,#f19c37 414.5px,#e64329 415.5px,#a51e16 416.5px,#be261c 417.5px,#e74729 418.5px,#e53827 419.5px,#991b14 420.5px,#630e0a 421.5px,#6c100b 422.5px,#7b130e 423.5px,#610d09 424.5px,#350504 425.5px,#270302 426.5px,#2b0403 427.5px,#2a0403 428.5px,#180201 430.5px,#110101 436.5px)"></div>
<div class="c" style="left:909px;top:1142px;width:39px;height:437px;background:linear-gradient(#220302 0.5px,#220302 2.5px,#240302 4.5px,#210302 6.5px,#240302 9.5px,#210302 11.5px,#240302 14.5px,#210302 16.5px,#240302 19.5px,#210302 21.5px,#240302 24.5px,#210302 26.5px,#250302 28.5px,#210302 31.5px,#240302 33.5px,#210302 35.5px,#240302 38.5px,#210302 40.5px,#240302 43.5px,#210302 45.5px,#240302 48.5px,#210302 50.5px,#240302 53.5px,#210302 55.5px,#240302 58.5px,#210302 60.5px,#240302 63.5px,#210302 65.5px,#240302 68.5px,#210302 70.5px,#240302 73.5px,#210302 75.5px,#250302 77.5px,#210302 80.5px,#240302 82.5px,#210302 84.5px,#240302 87.5px,#210302 89.5px,#240302 92.5px,#210302 94.5px,#240302 97.5px,#210302 99.5px,#240302 102.5px,#210302 104.5px,#240302 107.5px,#210302 109.5px,#240302 112.5px,#210302 114.5px,#240302 117.5px,#210302 119.5px,#240302 122.5px,#210302 124.5px,#250302 126.5px,#210302 129.5px,#240302 131.5px,#210302 133.5px,#240302 136.5px,#210302 138.5px,#240302 141.5px,#210302 143.5px,#240302 146.5px,#210302 148.5px,#240302 151.5px,#210302 153.5px,#240302 156.5px,#210302 158.5px,#240302 161.5px,#210302 163.5px,#240302 166.5px,#210302 168.5px,#240302 171.5px,#210302 173.5px,#240302 175.5px,#210302 178.5px,#240302 180.5px,#210302 183.5px,#240302 185.5px,#200202 187.5px,#230302 190.5px,#200302 193.5px,#220302 195.5px,#1f0202 197.5px,#210302 200.5px,#1e0202 202.5px,#200202 205.5px,#1d0202 207.5px,#1f0202 210.5px,#1c0202 212.5px,#1d0202 215.5px,#1c0202 218.5px,#1b0202 222.5px,#1d0202 225.5px,#1d0202 230.5px,#1e0202 235.5px,#1d0202 237.5px,#200202 239.5px,#1d0202 241.5px,#200302 244.5px,#1d0202 246.5px,#210302 249.5px,#1e0202 251.5px,#250302 253.5px,#210302 256.5px,#2b0403 258.5px,#2a0403 259.5px,#230302 261.5px,#310503 263.5px,#2f0403 264.5px,#270302 265.5px,#250302 266.5px,#370504 268.5px,#310503 269.5px,#270302 270.5px,#260302 271.5px,#2f0403 272.5px,#340504 273.5px,#250302 275.5px,#260302 276.5px,#2e0403 277.5px,#310503 278.5px,#240302 280.5px,#250302 281.5px,#2d0403 282.5px,#300403 283.5px,#230302 285.5px,#270302 286.5px,#310503 287.5px,#360504 288.5px,#260302 290.5px,#2d0403 291.5px,#3f0705 292.5px,#430805 293.5px,#350504 294.5px,#2b0403 295.5px,#360504 296.5px,#4b0906 297.5px,#4e0907 298.5px,#3b0604 299.5px,#300403 300.5px,#3f0705 301.5px,#560b08 302.5px,#550b08 303.5px,#3f0705 304.5px,#350504 305.5px,#600d09 307.5px,#5c0c09 308.5px,#430705 309.5px,#3b0604 310.5px,#670f0a 312.5px,#5e0d09 313.5px,#420705 314.5px,#3d0605 315.5px,#560b08 316.5px,#6a0f0b 317.5px,#5d0c09 318.5px,#420705 319.5px,#400705 320.5px,#5b0c08 321.5px,#6d100b 322.5px,#5f0d09 323.5px,#440805 324.5px,#470806 325.5px,#690f0b 326.5px,#7d140e 327.5px,#680f0b 328.5px,#4b0906 329.5px,#530a07 330.5px,#7a130e 331.5px,#8e1811 332.5px,#75120d 333.5px,#570b08 334.5px,#680f0b 335.5px,#9c1c14 336.5px,#b02119 337.5px,#680f0b 339.5px,#84150f 340.5px,#c1271d 341.5px,#cf2b21 342.5px,#9d1c15 343.5px,#77120d 344.5px,#9d1c15 345.5px,#e03125 346.5px,#e23125 347.5px,#a31e16 348.5px,#7e140e 349.5px,#aa2017 350.5px,#e53627 351.5px,#e13125 352.5px,#9e1c15 353.5px,#80140f 354.5px,#b32219 355.5px,#e53b27 356.5px,#de3024 357.5px,#991b14 358.5px,#83150f 359.5px,#ba251b 360.5px,#e53c28 361.5px,#d72e22 362.5px,#921912 363.5px,#841510 364.5px,#c0261d 365.5px,#e53c28 366.5px,#ce2b20 367.5px,#8c1711 368.5px,#871610 369.5px,#cb2a1f 370.5px,#e8532b 371.5px,#e53b28 372.5px,#ad2118 373.5px,#be261c 374.5px,#eb6d30 375.5px,#f2a639 376.5px,#ec7331 377.5px,#d62d22 378.5px,#e64028 379.5px,#f4b23b 380.5px,#fae844 381.5px,#f19c37 382.5px,#e64529 383.5px,#ec7030 384.5px,#fcf546 385.5px,#fdf863 386.5px,#f4b43b 387.5px,#e8542c 388.5px,#ef8a34 389.5px,#fcf74e 390.5px,#fdf96c 391.5px,#f4b73c 392.5px,#ea632e 393.5px,#f4b43b 394.5px,#fefb95 395.5px,#fefb8d 396.5px,#f3af3b 397.5px,#e95b2d 398.5px,#f2a839 399.5px,#fdf756 400.5px,#fcf546 401.5px,#ec7631 402.5px,#e23125 403.5px,#ea632e 404.5px,#f09136 405.5px,#ea612e 406.5px,#be261c 407.5px,#9e1c15 408.5px,#de3024 409.5px,#ea602e 410.5px,#e64229 411.5px,#a11d16 412.5px,#82150f 413.5px,#a61f17 414.5px,#b22219 415.5px,#80140f 416.5px,#480806 417.5px,#360504 418.5px,#450805 419.5px,#4a0906 420.5px,#270302 422.5px,#240302 424.5px,#240302 425.5px,#1d0202 427.5px,#190201 431.5px,#110101 436.5px)"></div>
<div class="c" style="left:948px;top:1142px;width:38px;height:437px;background:linear-gradient(#1c0202 0.5px,#1e0202 9.5px,#1e0202 14.5px,#1e0202 19.5px,#1f0202 29.5px,#1f0202 34.5px,#200302 43.5px,#210302 48.5px,#1f0202 50.5px,#220302 52.5px,#210302 56.5px,#200202 60.5px,#220302 62.5px,#200302 65.5px,#230302 67.5px,#200202 69.5px,#230302 72.5px,#200302 74.5px,#230302 77.5px,#220302 80.5px,#240302 82.5px,#210302 84.5px,#240302 87.5px,#210302 89.5px,#250302 91.5px,#220302 94.5px,#250302 96.5px,#220302 99.5px,#260302 101.5px,#220302 104.5px,#260302 106.5px,#220302 108.5px,#260302 111.5px,#230302 114.5px,#270302 116.5px,#230302 118.5px,#270302 121.5px,#230302 123.5px,#270302 126.5px,#230302 128.5px,#280302 130.5px,#250302 132.5px,#230302 133.5px,#280303 135.5px,#240302 138.5px,#290303 140.5px,#240302 143.5px,#290403 145.5px,#250302 148.5px,#2a0403 150.5px,#250302 152.5px,#280302 154.5px,#2a0403 155.5px,#250302 157.5px,#250302 158.5px,#2b0403 160.5px,#250302 162.5px,#2b0403 165.5px,#250302 167.5px,#2b0403 170.5px,#250302 172.5px,#2b0403 174.5px,#2b0403 175.5px,#250302 177.5px,#2a0403 179.5px,#240302 182.5px,#280302 185.5px,#230302 187.5px,#270302 189.5px,#210302 192.5px,#250302 194.5px,#200302 197.5px,#230302 199.5px,#1f0202 202.5px,#210302 204.5px,#1e0202 207.5px,#1c0202 215.5px,#1c0202 232.5px,#1c0202 237.5px,#1c0202 242.5px,#1b0202 246.5px,#1d0202 249.5px,#1c0202 251.5px,#200202 253.5px,#1e0202 256.5px,#230302 258.5px,#1f0202 260.5px,#260302 263.5px,#200302 265.5px,#290403 268.5px,#220302 270.5px,#2b0403 272.5px,#2c0403 273.5px,#240302 275.5px,#2b0403 276.5px,#390604 277.5px,#3d0604 278.5px,#300403 279.5px,#290403 280.5px,#380604 281.5px,#4d0907 282.5px,#4d0907 283.5px,#3b0604 284.5px,#340504 285.5px,#470806 286.5px,#5e0d09 287.5px,#590c08 288.5px,#410705 289.5px,#3a0604 290.5px,#6a0f0b 292.5px,#600d09 293.5px,#450805 294.5px,#410705 295.5px,#5f0d09 296.5px,#76120d 297.5px,#660e0a 298.5px,#480806 299.5px,#470806 300.5px,#660e0a 301.5px,#79130e 302.5px,#660e0a 303.5px,#470806 304.5px,#4b0906 305.5px,#6c100b 306.5px,#7c130e 307.5px,#640e0a 308.5px,#470806 309.5px,#500a07 310.5px,#74120d 311.5px,#83150f 312.5px,#4c0906 314.5px,#5a0c08 315.5px,#83150f 316.5px,#8e1811 317.5px,#6d100b 318.5px,#520a07 319.5px,#660e0a 320.5px,#921912 321.5px,#991b14 322.5px,#73110c 323.5px,#5a0c08 324.5px,#77120d 325.5px,#a81f17 326.5px,#ab2018 327.5px,#7d140e 328.5px,#650e0a 329.5px,#8c1711 330.5px,#c1271d 331.5px,#ba241b 332.5px,#82150f 333.5px,#6b0f0b 334.5px,#951a13 335.5px,#c3271d 336.5px,#b22219 337.5px,#7b130e 338.5px,#6b0f0b 339.5px,#981b14 340.5px,#c1271d 341.5px,#ab2018 342.5px,#75120d 343.5px,#6c100b 344.5px,#9d1c15 345.5px,#c2271d 346.5px,#a61f17 347.5px,#72110c 348.5px,#70110c 349.5px,#a31e16 350.5px,#c2271d 351.5px,#a51e16 352.5px,#77120d 353.5px,#84150f 354.5px,#cc2a20 355.5px,#e64229 356.5px,#ce2b20 357.5px,#951a13 358.5px,#ae2118 359.5px,#e8542c 360.5px,#ed7932 361.5px,#e64329 362.5px,#b4231a 363.5px,#dd3024 364.5px,#ef8e35 365.5px,#f3ae3a 366.5px,#ea652e 367.5px,#d52d22 368.5px,#e95e2d 369.5px,#f8d340 370.5px,#fbeb44 371.5px,#ef8b35 372.5px,#e7482a 373.5px,#f09436 374.5px,#fdf757 375.5px,#fdf85b 376.5px,#f19f38 377.5px,#e9592c 378.5px,#f4b03b 379.5px,#fdf969 380.5px,#fdf752 381.5px,#ef8b35 382.5px,#e8552c 383.5px,#f3ab3a 384.5px,#fcf64a 385.5px,#f7cf40 386.5px,#e8522b 387.5px,#db2f24 388.5px,#ec7431 389.5px,#f4b13b 390.5px,#ed7f33 391.5px,#cd2a20 392.5px,#b6231a 393.5px,#e74e2b 394.5px,#ed7b32 395.5px,#e74d2a 396.5px,#aa2017 397.5px,#a21d16 398.5px,#e43627 399.5px,#e8532b 400.5px,#ce2b20 401.5px,#841510 402.5px,#82150f 403.5px,#b12219 404.5px,#bc251c 405.5px,#580b08 407.5px,#590c08 408.5px,#75120d 409.5px,#78120d 410.5px,#560b08 411.5px,#390604 412.5px,#3d0604 413.5px,#4b0906 414.5px,#470806 415.5px,#300403 416.5px,#230302 417.5px,#210302 418.5px,#240302 419.5px,#1d0202 422.5px,#1d0202 425.5px,#180201 429.5px,#110101 436.5px)"></div>
<div class="c" style="left:986px;top:1142px;width:39px;height:437px;background:linear-gradient(#2b0403 0.5px,#340504 2.5px,#2a0403 4.5px,#2c0403 5.5px,#320503 6.5px,#330504 7.5px,#2a0403 9.5px,#2c0403 10.5px,#320503 11.5px,#330503 12.5px,#2a0403 14.5px,#330503 16.5px,#330503 17.5px,#2a0403 19.5px,#330503 21.5px,#320503 22.5px,#2c0403 23.5px,#2a0403 24.5px,#330504 26.5px,#320503 27.5px,#2c0403 28.5px,#2a0403 29.5px,#340504 31.5px,#2b0403 33.5px,#2a0403 34.5px,#340504 36.5px,#2b0403 38.5px,#2a0403 39.5px,#340504 41.5px,#2a0403 43.5px,#2b0403 44.5px,#340504 46.5px,#2a0403 48.5px,#2b0403 49.5px,#340504 51.5px,#2a0403 53.5px,#2c0403 54.5px,#320503 55.5px,#330504 56.5px,#2a0403 58.5px,#2c0403 59.5px,#320503 60.5px,#330503 61.5px,#2a0403 63.5px,#330503 65.5px,#330503 66.5px,#2a0403 68.5px,#330503 70.5px,#320503 71.5px,#2c0403 72.5px,#2a0403 73.5px,#330504 75.5px,#320503 76.5px,#2c0403 77.5px,#2a0403 78.5px,#340504 80.5px,#2b0403 82.5px,#2a0403 83.5px,#340504 85.5px,#2b0403 87.5px,#2a0403 88.5px,#340504 90.5px,#2a0403 92.5px,#2b0403 93.5px,#340504 95.5px,#2a0403 97.5px,#2b0403 98.5px,#340504 100.5px,#2a0403 102.5px,#2c0403 103.5px,#320503 104.5px,#330504 105.5px,#2a0403 107.5px,#2c0403 108.5px,#320503 109.5px,#330503 110.5px,#2a0403 112.5px,#330503 114.5px,#330503 115.5px,#2a0403 117.5px,#330503 119.5px,#320503 120.5px,#2c0403 121.5px,#2a0403 122.5px,#330504 124.5px,#320503 125.5px,#2c0403 126.5px,#2a0403 127.5px,#340504 129.5px,#2b0403 131.5px,#2a0403 132.5px,#340504 134.5px,#2b0403 136.5px,#2a0403 137.5px,#340504 139.5px,#2a0403 141.5px,#2b0403 142.5px,#340504 144.5px,#2a0403 146.5px,#2b0403 147.5px,#340504 149.5px,#2a0403 151.5px,#2c0403 152.5px,#320503 153.5px,#330504 154.5px,#2a0403 156.5px,#2c0403 157.5px,#320503 158.5px,#330503 159.5px,#2a0403 161.5px,#330503 163.5px,#330503 164.5px,#2a0403 166.5px,#330503 168.5px,#320503 169.5px,#2c0403 170.5px,#2a0403 171.5px,#330504 173.5px,#320503 174.5px,#290403 176.5px,#330503 178.5px,#310503 179.5px,#2a0403 180.5px,#290303 181.5px,#320503 183.5px,#290303 185.5px,#280302 186.5px,#310503 188.5px,#270302 190.5px,#280302 191.5px,#2f0403 193.5px,#260302 195.5px,#270302 196.5px,#2c0403 197.5px,#2d0403 198.5px,#250302 200.5px,#2b0403 203.5px,#230302 205.5px,#290303 207.5px,#290403 208.5px,#220302 210.5px,#270302 212.5px,#210302 215.5px,#250302 217.5px,#200202 220.5px,#250302 222.5px,#200302 225.5px,#260302 227.5px,#210302 229.5px,#240302 231.5px,#270302 232.5px,#210302 234.5px,#210302 235.5px,#280302 237.5px,#210302 239.5px,#220302 240.5px,#290403 242.5px,#220302 244.5px,#230302 245.5px,#2a0403 247.5px,#220302 249.5px,#2b0403 252.5px,#220302 254.5px,#2b0403 256.5px,#2c0403 257.5px,#220302 259.5px,#2c0403 261.5px,#2d0403 262.5px,#240302 264.5px,#2a0403 265.5px,#350504 266.5px,#350504 267.5px,#2b0403 268.5px,#260302 269.5px,#3f0705 271.5px,#3d0604 272.5px,#2d0403 273.5px,#290403 274.5px,#480806 276.5px,#420705 277.5px,#310503 278.5px,#2e0403 279.5px,#4f0a07 281.5px,#470806 282.5px,#330503 283.5px,#330503 284.5px,#480806 285.5px,#570b08 286.5px,#4a0906 287.5px,#360504 288.5px,#380604 289.5px,#500a07 290.5px,#5e0d09 291.5px,#4e0907 292.5px,#390604 293.5px,#3f0705 294.5px,#5c0c09 295.5px,#680f0b 296.5px,#3e0705 298.5px,#480806 299.5px,#680f0b 300.5px,#72110c 301.5px,#430705 303.5px,#530a07 304.5px,#76120d 305.5px,#7d140e 306.5px,#5f0d09 307.5px,#490806 308.5px,#5e0d09 309.5px,#841510 310.5px,#871610 311.5px,#630e0a 312.5px,#4f0a07 313.5px,#6b0f0b 314.5px,#931913 315.5px,#901812 316.5px,#670f0a 317.5px,#560b08 318.5px,#77120d 319.5px,#9f1d15 320.5px,#951a13 321.5px,#690f0b 322.5px,#5c0c09 323.5px,#aa2017 325.5px,#9a1b14 326.5px,#6b0f0b 327.5px,#630e0a 328.5px,#8b1711 329.5px,#a81f17 330.5px,#8d1811 331.5px,#5e0d09 332.5px,#590b08 333.5px,#7c130e 334.5px,#901812 335.5px,#74120d 336.5px,#4e0907 337.5px,#4d0907 338.5px,#6b0f0b 339.5px,#76120d 340.5px,#630e0a 341.5px,#490806 342.5px,#530a07 343.5px,#7d140e 344.5px,#941913 345.5px,#7b130e 346.5px,#5d0c09 347.5px,#74110d 348.5px,#b22219 349.5px,#cb2a1f 350.5px,#7b130e 352.5px,#a01d15 353.5px,#e53b27 354.5px,#e74c2a 355.5px,#c4281e 356.5px,#961a13 357.5px,#c8291f 358.5px,#ea622e 359.5px,#ea652e 360.5px,#cf2b20 361.5px,#a11d15 362.5px,#dc2f24 363.5px,#ec7431 364.5px,#ec7030 365.5px,#d32c22 366.5px,#ac2018 367.5px,#e63f28 368.5px,#ee8734 369.5px,#ec7431 370.5px,#cc2a20 371.5px,#ab2018 372.5px,#e53e28 373.5px,#ec7531 374.5px,#e8542c 375.5px,#b22219 376.5px,#9f1d15 377.5px,#e43426 378.5px,#ea612e 379.5px,#e53c28 380.5px,#a01d15 381.5px,#991b14 382.5px,#de3024 383.5px,#e8502b 384.5px,#d62d22 385.5px,#8e1812 386.5px,#8f1812 387.5px,#ce2b20 388.5px,#e53727 389.5px,#b7241b 390.5px,#7b130e 391.5px,#84150f 392.5px,#bc251c 393.5px,#c9291f 394.5px,#931913 395.5px,#610d09 396.5px,#690f0b 397.5px,#8c1711 398.5px,#8a1711 399.5px,#600d09 400.5px,#400705 401.5px,#460806 402.5px,#560b08 403.5px,#530a07 404.5px,#3b0604 405.5px,#2b0403 406.5px,#3c0604 408.5px,#360504 409.5px,#280302 410.5px,#220302 411.5px,#230302 414.5px,#1e0202 416.5px,#200202 418.5px,#1b0202 422.5px,#110101 436.5px)"></div>
<div class="c" style="left:1025px;top:1142px;width:39px;height:437px;background:linear-gradient(#310503 0.5px,#2d0403 1.5px,#3b0604 3.5px,#390604 4.5px,#300403 5.5px,#2d0403 6.5px,#3b0604 8.5px,#380604 9.5px,#2f0403 10.5px,#2d0403 11.5px,#3b0604 13.5px,#370504 14.5px,#2e0403 15.5px,#2e0403 16.5px,#3b0604 18.5px,#2e0403 20.5px,#2e0403 21.5px,#3b0604 23.5px,#2d0403 25.5px,#2f0403 26.5px,#370504 27.5px,#3a0604 28.5px,#2d0403 30.5px,#2f0403 31.5px,#370604 32.5px,#3a0604 33.5px,#2c0403 35.5px,#300403 36.5px,#380604 37.5px,#390604 38.5px,#2c0403 40.5px,#300503 41.5px,#380604 42.5px,#380604 43.5px,#300403 44.5px,#2c0403 45.5px,#380604 47.5px,#370604 48.5px,#2f0403 49.5px,#2c0403 50.5px,#380604 52.5px,#360504 53.5px,#2e0403 54.5px,#2c0403 55.5px,#380604 57.5px,#350504 58.5px,#2e0403 59.5px,#2c0403 60.5px,#380604 62.5px,#2d0403 64.5px,#2c0403 65.5px,#380604 67.5px,#2c0403 69.5px,#2d0403 70.5px,#340504 71.5px,#370604 72.5px,#2c0403 74.5px,#2d0403 75.5px,#340504 76.5px,#370504 77.5px,#2b0403 79.5px,#2d0403 80.5px,#350504 81.5px,#360504 82.5px,#2b0403 84.5px,#2e0403 85.5px,#350504 86.5px,#360504 87.5px,#2b0403 89.5px,#2e0403 90.5px,#350504 91.5px,#350504 92.5px,#2e0403 93.5px,#2b0403 94.5px,#350504 96.5px,#340504 97.5px,#2a0403 99.5px,#350504 101.5px,#340504 102.5px,#2d0403 103.5px,#2b0403 104.5px,#350504 106.5px,#330503 107.5px,#2c0403 108.5px,#2b0403 109.5px,#350504 111.5px,#320503 112.5px,#2b0403 113.5px,#2b0403 114.5px,#350504 116.5px,#2b0403 118.5px,#2b0403 119.5px,#340504 121.5px,#2a0403 123.5px,#2b0403 124.5px,#320503 125.5px,#340504 126.5px,#2a0403 128.5px,#2c0403 129.5px,#320503 130.5px,#340504 131.5px,#2a0403 133.5px,#2c0403 134.5px,#330503 135.5px,#340504 136.5px,#2a0403 138.5px,#2d0403 139.5px,#340504 140.5px,#340504 141.5px,#2a0403 143.5px,#350504 145.5px,#340504 146.5px,#2d0403 147.5px,#2a0403 148.5px,#350504 150.5px,#340504 151.5px,#2d0403 152.5px,#2b0403 153.5px,#360504 155.5px,#340504 156.5px,#2d0403 157.5px,#2b0403 158.5px,#370504 160.5px,#2c0403 162.5px,#2c0403 163.5px,#370604 165.5px,#2c0403 167.5px,#2d0403 168.5px,#380604 170.5px,#2c0403 172.5px,#2e0403 173.5px,#350504 174.5px,#380604 175.5px,#2b0403 177.5px,#2d0403 178.5px,#340504 179.5px,#350504 180.5px,#290403 182.5px,#320503 184.5px,#330503 185.5px,#280302 187.5px,#300403 189.5px,#300403 190.5px,#260302 192.5px,#2e0403 194.5px,#2d0403 195.5px,#270302 196.5px,#250302 197.5px,#2c0403 199.5px,#230302 202.5px,#290403 204.5px,#220302 207.5px,#260302 209.5px,#210302 212.5px,#260302 214.5px,#210302 216.5px,#240302 218.5px,#270302 219.5px,#220302 221.5px,#270302 223.5px,#2a0403 224.5px,#230302 226.5px,#250302 227.5px,#2b0403 228.5px,#2d0403 229.5px,#240302 231.5px,#270302 232.5px,#2e0403 233.5px,#300403 234.5px,#240302 236.5px,#290403 237.5px,#320503 238.5px,#330503 239.5px,#2a0403 240.5px,#250302 241.5px,#360504 243.5px,#350504 244.5px,#2b0403 245.5px,#260302 246.5px,#3a0604 248.5px,#370604 249.5px,#2b0403 250.5px,#270302 251.5px,#420705 253.5px,#3d0605 254.5px,#2d0403 255.5px,#2b0403 256.5px,#4a0906 258.5px,#420705 259.5px,#300403 260.5px,#300403 261.5px,#440805 262.5px,#520a07 263.5px,#460806 264.5px,#330503 265.5px,#350504 266.5px,#4c0906 267.5px,#580b08 268.5px,#490806 269.5px,#340504 270.5px,#390604 271.5px,#510a07 272.5px,#5a0c08 273.5px,#350504 275.5px,#3c0604 276.5px,#550b08 277.5px,#5c0c09 278.5px,#350504 280.5px,#410705 281.5px,#5a0c08 282.5px,#5f0d09 283.5px,#480806 284.5px,#380604 285.5px,#460806 286.5px,#600d09 287.5px,#610d09 288.5px,#480806 289.5px,#390604 290.5px,#4c0906 291.5px,#660e0a 292.5px,#630e0a 293.5px,#480806 294.5px,#3c0604 295.5px,#510a07 296.5px,#6b0f0b 297.5px,#640e0a 298.5px,#470806 299.5px,#3e0705 300.5px,#6f100c 302.5px,#650e0a 303.5px,#470806 304.5px,#420705 305.5px,#5f0d09 306.5px,#76120d 307.5px,#670f0a 308.5px,#490806 309.5px,#470806 310.5px,#670f0a 311.5px,#7d140e 312.5px,#6a0f0b 313.5px,#4a0906 314.5px,#4d0907 315.5px,#70110c 316.5px,#82150f 317.5px,#6a0f0b 318.5px,#4b0906 319.5px,#520a07 320.5px,#76120d 321.5px,#841610 322.5px,#4b0906 324.5px,#570b08 325.5px,#7c130e 326.5px,#881710 327.5px,#4f0a07 329.5px,#630e0a 330.5px,#8f1812 331.5px,#981b13 332.5px,#73110c 333.5px,#580b08 334.5px,#73110c 335.5px,#a31e16 336.5px,#a71f17 337.5px,#7b130e 338.5px,#620d0a 339.5px,#861610 340.5px,#bb251b 341.5px,#ba241b 342.5px,#871610 343.5px,#71110c 344.5px,#a11d16 345.5px,#dc2f24 346.5px,#d32c21 347.5px,#951a13 348.5px,#82150f 349.5px,#bc251c 350.5px,#e64028 351.5px,#db2f24 352.5px,#941a13 353.5px,#861610 354.5px,#c2271d 355.5px,#e53d28 356.5px,#ce2b20 357.5px,#8b1711 358.5px,#851610 359.5px,#c3271d 360.5px,#e43627 361.5px,#c0261d 362.5px,#82150f 363.5px,#851610 364.5px,#c2271d 365.5px,#df3025 366.5px,#b22219 367.5px,#79130e 368.5px,#841510 369.5px,#c0261d 370.5px,#d32c21 371.5px,#6f100c 373.5px,#7f140f 374.5px,#b3221a 375.5px,#be261c 376.5px,#8d1811 377.5px,#640e0a 378.5px,#77120d 379.5px,#a61f17 380.5px,#a81f17 381.5px,#7a130e 382.5px,#570b08 383.5px,#6a0f0b 384.5px,#8b1711 385.5px,#83150f 386.5px,#590c08 387.5px,#420705 388.5px,#510a07 389.5px,#640e0a 390.5px,#590c08 391.5px,#3b0604 392.5px,#2d0403 393.5px,#430705 395.5px,#3b0604 396.5px,#2a0403 397.5px,#250302 398.5px,#2b0403 399.5px,#2d0403 400.5px,#200202 402.5px,#170201 406.5px,#110101 436.5px)"></div>
<div class="c" style="left:1064px;top:1142px;width:39px;height:437px;background:linear-gradient(#2a0403 0.5px,#2c0403 1.5px,#260302 3.5px,#2c0403 6.5px,#260302 8.5px,#2c0403 11.5px,#260302 13.5px,#2c0403 16.5px,#250302 18.5px,#2b0403 20.5px,#280302 22.5px,#260302 23.5px,#2c0403 25.5px,#260302 28.5px,#2c0403 30.5px,#260302 33.5px,#2c0403 35.5px,#260302 37.5px,#290403 39.5px,#2c0403 40.5px,#260302 42.5px,#260302 43.5px,#2c0403 45.5px,#260302 47.5px,#260302 48.5px,#2c0403 50.5px,#260302 52.5px,#2c0403 55.5px,#260302 57.5px,#2c0403 60.5px,#260302 62.5px,#2c0403 65.5px,#250302 67.5px,#2b0403 69.5px,#280302 71.5px,#260302 72.5px,#2c0403 74.5px,#260302 77.5px,#2c0403 79.5px,#260302 82.5px,#2c0403 84.5px,#260302 86.5px,#290403 88.5px,#2c0403 89.5px,#260302 91.5px,#260302 92.5px,#2c0403 94.5px,#260302 96.5px,#260302 97.5px,#2c0403 99.5px,#260302 101.5px,#2c0403 104.5px,#260302 106.5px,#2c0403 109.5px,#260302 111.5px,#2c0403 114.5px,#250302 116.5px,#2b0403 118.5px,#280302 120.5px,#260302 121.5px,#2c0403 123.5px,#260302 126.5px,#2c0403 128.5px,#260302 131.5px,#2c0403 133.5px,#260302 135.5px,#290403 137.5px,#2c0403 138.5px,#260302 140.5px,#260302 141.5px,#2c0403 143.5px,#260302 145.5px,#260302 146.5px,#2c0403 148.5px,#260302 150.5px,#2c0403 153.5px,#260302 155.5px,#2c0403 158.5px,#260302 160.5px,#2c0403 163.5px,#250302 165.5px,#2b0403 167.5px,#280302 169.5px,#260302 170.5px,#2c0403 172.5px,#260302 175.5px,#2c0403 177.5px,#250302 180.5px,#2c0403 182.5px,#250302 185.5px,#2c0403 187.5px,#250302 189.5px,#250302 190.5px,#2b0403 192.5px,#240302 194.5px,#240302 195.5px,#2a0403 197.5px,#230302 199.5px,#290303 202.5px,#220302 204.5px,#270302 206.5px,#240302 208.5px,#210302 209.5px,#250302 212.5px,#200202 214.5px,#240302 216.5px,#1f0202 219.5px,#240302 221.5px,#200202 224.5px,#250302 226.5px,#200302 229.5px,#260302 231.5px,#210302 233.5px,#210302 234.5px,#280302 236.5px,#220302 238.5px,#220302 239.5px,#290403 241.5px,#220302 243.5px,#230302 244.5px,#2b0403 246.5px,#230302 248.5px,#240302 249.5px,#2b0403 250.5px,#2e0403 251.5px,#230302 253.5px,#260302 254.5px,#2e0403 255.5px,#300403 256.5px,#240302 258.5px,#280302 259.5px,#300503 260.5px,#320503 261.5px,#240302 263.5px,#2a0403 264.5px,#340504 265.5px,#340504 266.5px,#250302 268.5px,#370604 270.5px,#360504 271.5px,#2b0403 272.5px,#260302 273.5px,#3b0604 275.5px,#380604 276.5px,#2b0403 277.5px,#270302 278.5px,#3f0705 280.5px,#3a0604 281.5px,#2b0403 282.5px,#290303 283.5px,#440805 285.5px,#3c0604 286.5px,#2c0403 287.5px,#2b0403 288.5px,#3d0604 289.5px,#480806 290.5px,#3d0605 291.5px,#2d0403 292.5px,#2f0403 293.5px,#410705 294.5px,#4b0906 295.5px,#2e0403 297.5px,#320503 298.5px,#460806 299.5px,#4e0907 300.5px,#2f0403 302.5px,#360504 303.5px,#4c0906 304.5px,#510a07 305.5px,#300503 307.5px,#3b0604 308.5px,#520a07 309.5px,#550b08 310.5px,#410705 311.5px,#330503 312.5px,#400705 313.5px,#580b08 314.5px,#580b08 315.5px,#420705 316.5px,#350504 317.5px,#470806 318.5px,#610d09 319.5px,#600d09 320.5px,#470806 321.5px,#3d0604 322.5px,#550b08 323.5px,#71110c 324.5px,#6b0f0b 325.5px,#4d0907 326.5px,#450806 327.5px,#82150f 329.5px,#77120d 330.5px,#550b08 331.5px,#500a07 332.5px,#76120d 333.5px,#951a13 334.5px,#841510 335.5px,#5d0c09 336.5px,#5e0c09 337.5px,#8b1711 338.5px,#aa2018 339.5px,#8f1812 340.5px,#640e0a 341.5px,#690f0b 342.5px,#9b1c14 343.5px,#b4231a 344.5px,#901912 345.5px,#640e0a 346.5px,#6f100c 347.5px,#a01d15 348.5px,#b22219 349.5px,#610d09 351.5px,#70110c 352.5px,#a01d15 353.5px,#ab2018 354.5px,#80140f 355.5px,#5d0c09 356.5px,#72110c 357.5px,#9f1d15 358.5px,#a21e16 359.5px,#75120d 360.5px,#570b08 361.5px,#6e100b 362.5px,#941a13 363.5px,#901912 364.5px,#660e0a 365.5px,#4f0a07 366.5px,#670f0a 367.5px,#871610 368.5px,#7f140f 369.5px,#580b08 370.5px,#470806 371.5px,#79130e 373.5px,#6b0f0b 374.5px,#470806 375.5px,#3b0604 376.5px,#4c0906 377.5px,#590c08 378.5px,#490906 379.5px,#300403 380.5px,#290403 381.5px,#340504 382.5px,#370504 383.5px,#230302 385.5px,#1c0202 388.5px,#170201 389.5px,#110101 436.5px)"></div>
<div class="c" style="left:1103px;top:1142px;width:38px;height:437px;background:linear-gradient(#1d0202 0.5px,#1d0202 175.5px,#1e0202 182.5px,#1f0202 192.5px,#1e0202 194.5px,#200202 196.5px,#1d0202 198.5px,#200202 200.5px,#1e0202 204.5px,#1f0202 206.5px,#1d0202 208.5px,#1e0202 211.5px,#1d0202 214.5px,#1b0202 218.5px,#1e0202 220.5px,#1c0202 223.5px,#1f0202 225.5px,#1d0202 228.5px,#200202 230.5px,#1d0202 232.5px,#210302 235.5px,#1e0202 237.5px,#220302 240.5px,#1f0202 242.5px,#240302 245.5px,#1f0202 247.5px,#250302 249.5px,#250302 250.5px,#200202 252.5px,#260302 254.5px,#200202 257.5px,#260302 259.5px,#200302 262.5px,#270302 264.5px,#210302 266.5px,#210302 267.5px,#280302 269.5px,#210302 271.5px,#210302 272.5px,#280303 274.5px,#210302 276.5px,#220302 277.5px,#290403 279.5px,#210302 281.5px,#230302 282.5px,#290303 283.5px,#2b0403 284.5px,#220302 286.5px,#2b0403 288.5px,#2c0403 289.5px,#230302 291.5px,#260302 292.5px,#2e0403 293.5px,#2e0403 294.5px,#230302 296.5px,#300403 298.5px,#300403 299.5px,#280302 300.5px,#240302 301.5px,#330503 303.5px,#320503 304.5px,#280303 305.5px,#250302 306.5px,#360504 308.5px,#330503 309.5px,#290303 310.5px,#260302 311.5px,#390604 313.5px,#340504 314.5px,#290303 315.5px,#270302 316.5px,#3d0605 318.5px,#370504 319.5px,#290403 320.5px,#2a0403 321.5px,#3b0604 322.5px,#460806 323.5px,#3c0604 324.5px,#2c0403 325.5px,#300403 326.5px,#440805 327.5px,#4e0907 328.5px,#300403 330.5px,#370504 331.5px,#4e0907 332.5px,#560b08 333.5px,#340504 335.5px,#3e0705 336.5px,#590b08 337.5px,#5f0d09 338.5px,#380604 340.5px,#460806 341.5px,#610d09 342.5px,#630e0a 343.5px,#4a0906 344.5px,#390604 345.5px,#480806 346.5px,#5f0d09 347.5px,#5b0c09 348.5px,#410705 349.5px,#340504 350.5px,#560b08 352.5px,#500a07 353.5px,#380604 354.5px,#2f0403 355.5px,#4d0906 357.5px,#440805 358.5px,#300403 359.5px,#2a0403 360.5px,#360504 361.5px,#3e0705 362.5px,#270302 364.5px,#250302 365.5px,#2a0403 366.5px,#2b0403 367.5px,#1f0202 369.5px,#170201 374.5px,#0e0101 436.5px)"></div>
<div class="c" style="left:1141px;top:1142px;width:39px;height:437px;background:linear-gradient(#170201 0.5px,#180201 186.5px,#190201 230.5px,#1b0202 245.5px,#1d0202 247.5px,#1c0202 250.5px,#1d0202 253.5px,#1d0202 258.5px,#1d0202 260.5px,#1f0202 262.5px,#1c0202 264.5px,#1f0202 267.5px,#1d0202 269.5px,#200202 271.5px,#1d0202 274.5px,#210302 276.5px,#1e0202 279.5px,#210302 281.5px,#1e0202 283.5px,#230302 286.5px,#1f0202 288.5px,#200302 289.5px,#270302 291.5px,#210302 293.5px,#230302 294.5px,#2a0403 295.5px,#2c0403 296.5px,#230302 298.5px,#270302 299.5px,#2f0403 300.5px,#310503 301.5px,#250302 303.5px,#2b0403 304.5px,#360504 305.5px,#370604 306.5px,#260302 308.5px,#2f0403 309.5px,#3c0604 310.5px,#3b0604 311.5px,#2d0403 312.5px,#270302 313.5px,#3f0705 315.5px,#3b0604 316.5px,#2c0403 317.5px,#270302 318.5px,#3f0705 320.5px,#390604 321.5px,#2b0403 322.5px,#280302 323.5px,#3f0705 325.5px,#380604 326.5px,#290403 327.5px,#280303 328.5px,#360504 329.5px,#3f0705 330.5px,#360504 331.5px,#280303 332.5px,#290403 333.5px,#370604 334.5px,#3e0705 335.5px,#270302 337.5px,#280302 338.5px,#2f0403 339.5px,#2f0403 340.5px,#210302 342.5px,#220302 344.5px,#130101 350.5px,#110101 354.5px,#0e0101 436.5px)"></div>
<div class="c" style="left:1180px;top:1142px;width:39px;height:437px;background:linear-gradient(#110101 0.5px,#170201 198.5px,#150201 221.5px,#1c0202 244.5px,#1b0202 252.5px,#1a0202 269.5px,#190201 308.5px,#100101 337.5px,#0e0101 436.5px)"></div>
<div class="c" style="left:1219px;top:1142px;width:39px;height:437px;background:linear-gradient(#0e0101 0.5px,#0d0101 216.5px,#0e0101 436.5px)"></div>
<svg width="1348" height="1679" viewBox="0 0 1348 1679">
<rect x="118.85" y="49.85" width="480.3" height="430.7" fill="none" stroke="#000" stroke-width="5.7"/>
<line x1="109" y1="74.8" x2="116.5" y2="74.8" stroke="#000" stroke-width="2.2"/>
<line x1="109" y1="474.7" x2="116.5" y2="474.7" stroke="#000" stroke-width="2.2"/>
<line x1="141.4" y1="483" x2="141.4" y2="490.5" stroke="#000" stroke-width="2.2"/>
<line x1="359.4" y1="483" x2="359.4" y2="490.5" stroke="#000" stroke-width="2.2"/>
<line x1="577.4" y1="483" x2="577.4" y2="490.5" stroke="#000" stroke-width="2.2"/>
<rect x="760.8" y="50.8" width="480.4" height="427.7" fill="none" stroke="#000" stroke-width="5.6"/>
<line x1="751" y1="60.7" x2="758.5" y2="60.7" stroke="#000" stroke-width="2.2"/>
<line x1="751" y1="468.8" x2="758.5" y2="468.8" stroke="#000" stroke-width="2.2"/>
<line x1="782.7" y1="481" x2="782.7" y2="488.5" stroke="#000" stroke-width="2.2"/>
<line x1="1000.7" y1="481" x2="1000.7" y2="488.5" stroke="#000" stroke-width="2.2"/>
<line x1="1218.7" y1="481" x2="1218.7" y2="488.5" stroke="#000" stroke-width="2.2"/>
<rect x="91.4" y="611" width="504.1" height="436.5" fill="none" stroke="#000" stroke-width="1.9"/>
<line x1="82.7" y1="1047.5" x2="91.4" y2="1047.5" stroke="#000" stroke-width="1.9"/>
<line x1="82.7" y1="960.2" x2="91.4" y2="960.2" stroke="#000" stroke-width="1.9"/>
<line x1="82.7" y1="872.9" x2="91.4" y2="872.9" stroke="#000" stroke-width="1.9"/>
<line x1="82.7" y1="785.6" x2="91.4" y2="785.6" stroke="#000" stroke-width="1.9"/>
<line x1="82.7" y1="698.3" x2="91.4" y2="698.3" stroke="#000" stroke-width="1.9"/>
<line x1="82.7" y1="611" x2="91.4" y2="611" stroke="#000" stroke-width="1.9"/>
<line x1="110.79" y1="1047.5" x2="110.79" y2="1056.5" stroke="#000" stroke-width="1.9"/>
<line x1="227.12" y1="1047.5" x2="227.12" y2="1056.5" stroke="#000" stroke-width="1.9"/>
<line x1="343.45" y1="1047.5" x2="343.45" y2="1056.5" stroke="#000" stroke-width="1.9"/>
<line x1="459.78" y1="1047.5" x2="459.78" y2="1056.5" stroke="#000" stroke-width="1.9"/>
<line x1="576.11" y1="1047.5" x2="576.11" y2="1056.5" stroke="#000" stroke-width="1.9"/>
<rect x="91.4" y="1141" width="504.1" height="435.9" fill="none" stroke="#000" stroke-width="1.9"/>
<line x1="82.7" y1="1576.9" x2="91.4" y2="1576.9" stroke="#000" stroke-width="1.9"/>
<line x1="82.7" y1="1489.72" x2="91.4" y2="1489.72" stroke="#000" stroke-width="1.9"/>
<line x1="82.7" y1="1402.54" x2="91.4" y2="1402.54" stroke="#000" stroke-width="1.9"/>
<line x1="82.7" y1="1315.36" x2="91.4" y2="1315.36" stroke="#000" stroke-width="1.9"/>
<line x1="82.7" y1="1228.18" x2="91.4" y2="1228.18" stroke="#000" stroke-width="1.9"/>
<line x1="82.7" y1="1141" x2="91.4" y2="1141" stroke="#000" stroke-width="1.9"/>
<line x1="110.79" y1="1576.9" x2="110.79" y2="1585.9" stroke="#000" stroke-width="1.9"/>
<line x1="227.12" y1="1576.9" x2="227.12" y2="1585.9" stroke="#000" stroke-width="1.9"/>
<line x1="343.45" y1="1576.9" x2="343.45" y2="1585.9" stroke="#000" stroke-width="1.9"/>
<line x1="459.78" y1="1576.9" x2="459.78" y2="1585.9" stroke="#000" stroke-width="1.9"/>
<line x1="576.11" y1="1576.9" x2="576.11" y2="1585.9" stroke="#000" stroke-width="1.9"/>
<rect x="754.1" y="612.3" width="503.4" height="437.1" fill="none" stroke="#000" stroke-width="1.9"/>
<line x1="745.4" y1="1049.4" x2="754.1" y2="1049.4" stroke="#000" stroke-width="1.9"/>
<line x1="745.4" y1="961.98" x2="754.1" y2="961.98" stroke="#000" stroke-width="1.9"/>
<line x1="745.4" y1="874.56" x2="754.1" y2="874.56" stroke="#000" stroke-width="1.9"/>
<line x1="745.4" y1="787.14" x2="754.1" y2="787.14" stroke="#000" stroke-width="1.9"/>
<line x1="745.4" y1="699.72" x2="754.1" y2="699.72" stroke="#000" stroke-width="1.9"/>
<line x1="745.4" y1="612.3" x2="754.1" y2="612.3" stroke="#000" stroke-width="1.9"/>
<line x1="773.46" y1="1049.4" x2="773.46" y2="1058.4" stroke="#000" stroke-width="1.9"/>
<line x1="889.63" y1="1049.4" x2="889.63" y2="1058.4" stroke="#000" stroke-width="1.9"/>
<line x1="1005.8" y1="1049.4" x2="1005.8" y2="1058.4" stroke="#000" stroke-width="1.9"/>
<line x1="1121.97" y1="1049.4" x2="1121.97" y2="1058.4" stroke="#000" stroke-width="1.9"/>
<line x1="1238.14" y1="1049.4" x2="1238.14" y2="1058.4" stroke="#000" stroke-width="1.9"/>
<rect x="754.1" y="1142" width="503.4" height="436.8" fill="none" stroke="#000" stroke-width="1.9"/>
<line x1="745.4" y1="1578.8" x2="754.1" y2="1578.8" stroke="#000" stroke-width="1.9"/>
<line x1="745.4" y1="1491.44" x2="754.1" y2="1491.44" stroke="#000" stroke-width="1.9"/>
<line x1="745.4" y1="1404.08" x2="754.1" y2="1404.08" stroke="#000" stroke-width="1.9"/>
<line x1="745.4" y1="1316.72" x2="754.1" y2="1316.72" stroke="#000" stroke-width="1.9"/>
<line x1="745.4" y1="1229.36" x2="754.1" y2="1229.36" stroke="#000" stroke-width="1.9"/>
<line x1="745.4" y1="1142" x2="754.1" y2="1142" stroke="#000" stroke-width="1.9"/>
<line x1="773.46" y1="1578.8" x2="773.46" y2="1587.8" stroke="#000" stroke-width="1.9"/>
<line x1="889.63" y1="1578.8" x2="889.63" y2="1587.8" stroke="#000" stroke-width="1.9"/>
<line x1="1005.8" y1="1578.8" x2="1005.8" y2="1587.8" stroke="#000" stroke-width="1.9"/>
<line x1="1121.97" y1="1578.8" x2="1121.97" y2="1587.8" stroke="#000" stroke-width="1.9"/>
<line x1="1238.14" y1="1578.8" x2="1238.14" y2="1587.8" stroke="#000" stroke-width="1.9"/>
<rect x="1289" y="631.2" width="19.9" height="416.3" fill="none" stroke="#000" stroke-width="1.9"/>
<line x1="1308.9" y1="1047.5" x2="1317.9" y2="1047.5" stroke="#000" stroke-width="1.9"/>
<line x1="1308.9" y1="964.3" x2="1317.9" y2="964.3" stroke="#000" stroke-width="1.9"/>
<line x1="1308.9" y1="881.1" x2="1317.9" y2="881.1" stroke="#000" stroke-width="1.9"/>
<line x1="1308.9" y1="797.9" x2="1317.9" y2="797.9" stroke="#000" stroke-width="1.9"/>
<line x1="1308.9" y1="714.7" x2="1317.9" y2="714.7" stroke="#000" stroke-width="1.9"/>
<rect x="1289" y="1161.2" width="19.9" height="415.8" fill="none" stroke="#000" stroke-width="1.9"/>
<line x1="1308.9" y1="1576.6" x2="1317.9" y2="1576.6" stroke="#000" stroke-width="1.9"/>
<line x1="1308.9" y1="1493.6" x2="1317.9" y2="1493.6" stroke="#000" stroke-width="1.9"/>
<line x1="1308.9" y1="1410.6" x2="1317.9" y2="1410.6" stroke="#000" stroke-width="1.9"/>
<line x1="1308.9" y1="1327.6" x2="1317.9" y2="1327.6" stroke="#000" stroke-width="1.9"/>
<line x1="1308.9" y1="1244.4" x2="1317.9" y2="1244.4" stroke="#000" stroke-width="1.9"/>
<polyline points="141.4,85.1 145.03,85.09 148.67,85.06 152.3,85.01 155.93,84.94 159.57,84.84 163.2,84.73 166.83,84.6 170.47,84.45 174.1,84.28 177.73,84.09 181.37,83.88 185,83.66 188.63,83.42 192.27,83.16 195.9,82.89 199.53,82.6 203.17,82.3 206.8,81.99 210.43,81.66 214.07,81.33 217.7,80.98 221.33,80.62 224.97,80.26 228.6,79.88 232.23,79.5 235.87,79.12 239.5,78.73 243.13,78.34 246.77,77.95 250.4,77.55 254.03,77.15 257.67,76.76 261.3,76.37 264.93,75.98 268.57,75.6 272.2,75.22 275.83,74.84 279.47,74.48 283.1,74.12 286.73,73.78 290.37,73.44 294,73.11 297.63,72.8 301.27,72.5 304.9,72.21 308.53,71.94 312.17,71.68 315.8,71.44 319.43,71.22 323.07,71.01 326.7,70.82 330.33,70.65 333.97,70.5 337.6,70.37 341.23,70.26 344.87,70.16 348.5,70.09 352.13,70.04 355.77,70.01 359.4,70 363.03,70.01 366.67,70.04 370.3,70.09 373.93,70.16 377.57,70.26 381.2,70.37 384.83,70.5 388.47,70.65 392.1,70.82 395.73,71.01 399.37,71.22 403,71.44 406.63,71.68 410.27,71.94 413.9,72.21 417.53,72.5 421.17,72.8 424.8,73.11 428.43,73.44 432.07,73.77 435.7,74.12 439.33,74.48 442.97,74.84 446.6,75.22 450.23,75.6 453.87,75.98 457.5,76.37 461.13,76.76 464.77,77.15 468.4,77.55 472.03,77.95 475.67,78.34 479.3,78.73 482.93,79.12 486.57,79.5 490.2,79.88 493.83,80.26 497.47,80.62 501.1,80.98 504.73,81.32 508.37,81.66 512,81.99 515.63,82.3 519.27,82.6 522.9,82.89 526.53,83.16 530.17,83.42 533.8,83.66 537.43,83.88 541.07,84.09 544.7,84.28 548.33,84.45 551.97,84.6 555.6,84.73 559.23,84.84 562.87,84.94 566.5,85.01 570.13,85.06 573.77,85.09 577.4,85.1" fill="none" stroke="#ee4630" stroke-width="3" stroke-linecap="square" stroke-linejoin="round"/>
<polyline points="141.4,90.4 145.03,90.38 148.67,90.32 152.3,90.23 155.93,90.1 159.57,89.93 163.2,89.73 166.83,89.49 170.47,89.22 174.1,88.92 177.73,88.59 181.37,88.22 185,87.83 188.63,87.42 192.27,86.98 195.9,86.52 199.53,86.03 203.17,85.53 206.8,85.02 210.43,84.49 214.07,83.96 217.7,83.41 221.33,82.86 224.97,82.31 228.6,81.75 232.23,81.2 235.87,80.65 239.5,80.11 243.13,79.58 246.77,79.07 250.4,78.56 254.03,78.08 257.67,77.61 261.3,77.17 264.93,76.75 268.57,76.35 272.2,75.98 275.83,75.64 279.47,75.33 283.1,75.06 286.73,74.81 290.37,74.6 294,74.43 297.63,74.29 301.27,74.19 304.9,74.13 308.53,74.1 312.17,74.1 315.8,74.1 319.43,74.1 323.07,74.1 326.7,74.1 330.33,74.1 333.97,74.1 337.6,74.1 341.23,74.1 344.87,74.1 348.5,74.1 352.13,74.1 355.77,74.1 359.4,74.1 363.03,74.1 366.67,74.1 370.3,74.1 373.93,74.1 377.57,74.1 381.2,74.1 384.83,74.1 388.47,74.1 392.1,74.1 395.73,74.1 399.37,74.1 403,74.1 406.63,74.1 410.27,74.1 413.9,74.13 417.53,74.19 421.17,74.29 424.8,74.43 428.43,74.6 432.07,74.81 435.7,75.06 439.33,75.33 442.97,75.64 446.6,75.98 450.23,76.35 453.87,76.75 457.5,77.17 461.13,77.61 464.77,78.08 468.4,78.56 472.03,79.07 475.67,79.58 479.3,80.11 482.93,80.65 486.57,81.2 490.2,81.75 493.83,82.31 497.47,82.86 501.1,83.41 504.73,83.96 508.37,84.49 512,85.02 515.63,85.53 519.27,86.03 522.9,86.52 526.53,86.98 530.17,87.42 533.8,87.83 537.43,88.22 541.07,88.59 544.7,88.92 548.33,89.22 551.97,89.49 555.6,89.73 559.23,89.93 562.87,90.1 566.5,90.23 570.13,90.32 573.77,90.38 577.4,90.4" fill="none" stroke="#ee4630" stroke-width="3" stroke-linecap="square" stroke-linejoin="round"/>
<polyline points="141.4,97.1 145.03,97.1 148.67,97.1 152.3,97.1 155.93,97.1 159.57,97.1 163.2,97.1 166.83,97.08 170.47,97.02 174.1,96.92 177.73,96.79 181.37,96.62 185,96.41 188.63,96.16 192.27,95.88 195.9,95.57 199.53,95.23 203.17,94.86 206.8,94.46 210.43,94.03 214.07,93.58 217.7,93.12 221.33,92.63 224.97,92.13 228.6,91.62 232.23,91.09 235.87,90.56 239.5,90.02 243.13,89.48 246.77,88.95 250.4,88.42 254.03,87.89 257.67,87.37 261.3,86.87 264.93,86.38 268.57,85.91 272.2,85.46 275.83,85.03 279.47,84.62 283.1,84.24 286.73,83.9 290.37,83.58 294,83.29 297.63,83.04 301.27,82.82 304.9,82.64 308.53,82.5 312.17,82.39 315.8,82.33 319.43,82.3 323.07,82.3 326.7,82.3 330.33,82.3 333.97,82.3 337.6,82.3 341.23,82.3 344.87,82.3 348.5,82.3 352.13,82.3 355.77,82.3 359.4,82.3 363.03,82.3 366.67,82.3 370.3,82.3 373.93,82.3 377.57,82.3 381.2,82.3 384.83,82.3 388.47,82.3 392.1,82.3 395.73,82.3 399.37,82.3 403,82.33 406.63,82.39 410.27,82.5 413.9,82.64 417.53,82.82 421.17,83.04 424.8,83.29 428.43,83.58 432.07,83.9 435.7,84.24 439.33,84.62 442.97,85.03 446.6,85.46 450.23,85.91 453.87,86.38 457.5,86.87 461.13,87.37 464.77,87.89 468.4,88.42 472.03,88.95 475.67,89.48 479.3,90.02 482.93,90.56 486.57,91.09 490.2,91.62 493.83,92.13 497.47,92.63 501.1,93.12 504.73,93.58 508.37,94.03 512,94.46 515.63,94.86 519.27,95.23 522.9,95.57 526.53,95.88 530.17,96.16 533.8,96.41 537.43,96.62 541.07,96.79 544.7,96.92 548.33,97.02 551.97,97.08 555.6,97.1 559.23,97.1 562.87,97.1 566.5,97.1 570.13,97.1 573.77,97.1 577.4,97.1" fill="none" stroke="#ee4630" stroke-width="3" stroke-linecap="square" stroke-linejoin="round"/>
<polyline points="141.4,107.1 145.03,107.1 148.67,107.1 152.3,107.1 155.93,107.1 159.57,107.1 163.2,107.1 166.83,107.08 170.47,107.03 174.1,106.94 177.73,106.81 181.37,106.65 185,106.45 188.63,106.23 192.27,105.96 195.9,105.67 199.53,105.35 203.17,105.01 206.8,104.64 210.43,104.24 214.07,103.82 217.7,103.39 221.33,102.93 224.97,102.47 228.6,101.99 232.23,101.5 235.87,101 239.5,100.5 243.13,100 246.77,99.5 250.4,99 254.03,98.51 257.67,98.03 261.3,97.56 264.93,97.1 268.57,96.66 272.2,96.24 275.83,95.84 279.47,95.46 283.1,95.11 286.73,94.79 290.37,94.49 294,94.22 297.63,93.99 301.27,93.79 304.9,93.62 308.53,93.49 312.17,93.39 315.8,93.33 319.43,93.3 323.07,93.3 326.7,93.3 330.33,93.3 333.97,93.3 337.6,93.3 341.23,93.3 344.87,93.3 348.5,93.3 352.13,93.3 355.77,93.3 359.4,93.3 363.03,93.3 366.67,93.3 370.3,93.3 373.93,93.3 377.57,93.3 381.2,93.3 384.83,93.3 388.47,93.3 392.1,93.3 395.73,93.3 399.37,93.3 403,93.33 406.63,93.39 410.27,93.49 413.9,93.62 417.53,93.79 421.17,93.99 424.8,94.22 428.43,94.49 432.07,94.79 435.7,95.11 439.33,95.46 442.97,95.84 446.6,96.24 450.23,96.66 453.87,97.1 457.5,97.56 461.13,98.03 464.77,98.51 468.4,99 472.03,99.5 475.67,100 479.3,100.5 482.93,101 486.57,101.5 490.2,101.99 493.83,102.47 497.47,102.93 501.1,103.39 504.73,103.82 508.37,104.24 512,104.64 515.63,105.01 519.27,105.35 522.9,105.67 526.53,105.96 530.17,106.23 533.8,106.45 537.43,106.65 541.07,106.81 544.7,106.94 548.33,107.03 551.97,107.08 555.6,107.1 559.23,107.1 562.87,107.1 566.5,107.1 570.13,107.1 573.77,107.1 577.4,107.1" fill="none" stroke="#ee4630" stroke-width="3" stroke-linecap="square" stroke-linejoin="round"/>
<polyline points="141.4,120 145.03,120 148.67,120 152.3,120 155.93,120 159.57,120 163.2,120 166.83,119.98 170.47,119.93 174.1,119.84 177.73,119.71 181.37,119.55 185,119.36 188.63,119.13 192.27,118.87 195.9,118.58 199.53,118.26 203.17,117.92 206.8,117.54 210.43,117.15 214.07,116.73 217.7,116.3 221.33,115.85 224.97,115.38 228.6,114.9 232.23,114.42 235.87,113.92 239.5,113.42 243.13,112.93 246.77,112.43 250.4,111.93 254.03,111.44 257.67,110.96 261.3,110.49 264.93,110.04 268.57,109.6 272.2,109.18 275.83,108.78 279.47,108.41 283.1,108.06 286.73,107.73 290.37,107.44 294,107.17 297.63,106.94 301.27,106.74 304.9,106.57 308.53,106.44 312.17,106.34 315.8,106.28 319.43,106.25 323.07,106.25 326.7,106.25 330.33,106.25 333.97,106.25 337.6,106.25 341.23,106.25 344.87,106.25 348.5,106.25 352.13,106.25 355.77,106.25 359.4,106.25 363.03,106.25 366.67,106.25 370.3,106.25 373.93,106.25 377.57,106.25 381.2,106.25 384.83,106.25 388.47,106.25 392.1,106.25 395.73,106.25 399.37,106.25 403,106.28 406.63,106.34 410.27,106.44 413.9,106.57 417.53,106.74 421.17,106.94 424.8,107.17 428.43,107.44 432.07,107.73 435.7,108.06 439.33,108.41 442.97,108.78 446.6,109.18 450.23,109.6 453.87,110.04 457.5,110.49 461.13,110.96 464.77,111.44 468.4,111.93 472.03,112.43 475.67,112.93 479.3,113.42 482.93,113.92 486.57,114.42 490.2,114.9 493.83,115.38 497.47,115.85 501.1,116.3 504.73,116.73 508.37,117.15 512,117.54 515.63,117.92 519.27,118.26 522.9,118.58 526.53,118.87 530.17,119.13 533.8,119.36 537.43,119.55 541.07,119.71 544.7,119.84 548.33,119.93 551.97,119.98 555.6,120 559.23,120 562.87,120 566.5,120 570.13,120 573.77,120 577.4,120" fill="none" stroke="#ee4630" stroke-width="3" stroke-linecap="square" stroke-linejoin="round"/>
<polyline points="141.4,133.9 145.03,133.9 148.67,133.9 152.3,133.9 155.93,133.9 159.57,133.9 163.2,133.9 166.83,133.88 170.47,133.84 174.1,133.76 177.73,133.65 181.37,133.51 185,133.35 188.63,133.15 192.27,132.93 195.9,132.68 199.53,132.41 203.17,132.11 206.8,131.79 210.43,131.45 214.07,131.1 217.7,130.72 221.33,130.34 224.97,129.94 228.6,129.53 232.23,129.11 235.87,128.68 239.5,128.26 243.13,127.83 246.77,127.4 250.4,126.98 254.03,126.56 257.67,126.14 261.3,125.74 264.93,125.35 268.57,124.98 272.2,124.62 275.83,124.27 279.47,123.95 283.1,123.65 286.73,123.37 290.37,123.12 294,122.89 297.63,122.69 301.27,122.52 304.9,122.37 308.53,122.26 312.17,122.18 315.8,122.12 319.43,122.1 323.07,122.1 326.7,122.1 330.33,122.1 333.97,122.1 337.6,122.1 341.23,122.1 344.87,122.1 348.5,122.1 352.13,122.1 355.77,122.1 359.4,122.1 363.03,122.1 366.67,122.1 370.3,122.1 373.93,122.1 377.57,122.1 381.2,122.1 384.83,122.1 388.47,122.1 392.1,122.1 395.73,122.1 399.37,122.1 403,122.12 406.63,122.18 410.27,122.26 413.9,122.37 417.53,122.52 421.17,122.69 424.8,122.89 428.43,123.12 432.07,123.37 435.7,123.65 439.33,123.95 442.97,124.27 446.6,124.62 450.23,124.98 453.87,125.35 457.5,125.74 461.13,126.14 464.77,126.56 468.4,126.98 472.03,127.4 475.67,127.83 479.3,128.26 482.93,128.68 486.57,129.11 490.2,129.53 493.83,129.94 497.47,130.34 501.1,130.72 504.73,131.1 508.37,131.45 512,131.79 515.63,132.11 519.27,132.41 522.9,132.68 526.53,132.93 530.17,133.15 533.8,133.35 537.43,133.51 541.07,133.65 544.7,133.76 548.33,133.84 551.97,133.88 555.6,133.9 559.23,133.9 562.87,133.9 566.5,133.9 570.13,133.9 573.77,133.9 577.4,133.9" fill="none" stroke="#ee4630" stroke-width="3" stroke-linecap="square" stroke-linejoin="round"/>
<polyline points="141.4,151.4 145.03,151.4 148.67,151.4 152.3,151.4 155.93,151.4 159.57,151.4 163.2,151.4 166.83,151.39 170.47,151.34 174.1,151.27 177.73,151.16 181.37,151.03 185,150.87 188.63,150.68 192.27,150.47 195.9,150.23 199.53,149.97 203.17,149.69 206.8,149.38 210.43,149.06 214.07,148.72 217.7,148.36 221.33,147.99 224.97,147.6 228.6,147.21 232.23,146.81 235.87,146.41 239.5,146 243.13,145.59 246.77,145.18 250.4,144.77 254.03,144.37 257.67,143.97 261.3,143.59 264.93,143.21 268.57,142.85 272.2,142.51 275.83,142.18 279.47,141.87 283.1,141.58 286.73,141.32 290.37,141.08 294,140.86 297.63,140.66 301.27,140.5 304.9,140.36 308.53,140.25 312.17,140.17 315.8,140.12 319.43,140.1 323.07,140.1 326.7,140.1 330.33,140.1 333.97,140.1 337.6,140.1 341.23,140.1 344.87,140.1 348.5,140.1 352.13,140.1 355.77,140.1 359.4,140.1 363.03,140.1 366.67,140.1 370.3,140.1 373.93,140.1 377.57,140.1 381.2,140.1 384.83,140.1 388.47,140.1 392.1,140.1 395.73,140.1 399.37,140.1 403,140.12 406.63,140.17 410.27,140.25 413.9,140.36 417.53,140.5 421.17,140.66 424.8,140.86 428.43,141.08 432.07,141.32 435.7,141.58 439.33,141.87 442.97,142.18 446.6,142.51 450.23,142.85 453.87,143.21 457.5,143.59 461.13,143.97 464.77,144.37 468.4,144.77 472.03,145.18 475.67,145.59 479.3,146 482.93,146.41 486.57,146.81 490.2,147.21 493.83,147.6 497.47,147.99 501.1,148.36 504.73,148.72 508.37,149.06 512,149.38 515.63,149.69 519.27,149.97 522.9,150.23 526.53,150.47 530.17,150.68 533.8,150.87 537.43,151.03 541.07,151.16 544.7,151.27 548.33,151.34 551.97,151.39 555.6,151.4 559.23,151.4 562.87,151.4 566.5,151.4 570.13,151.4 573.77,151.4 577.4,151.4" fill="none" stroke="#ee4630" stroke-width="3" stroke-linecap="square" stroke-linejoin="round"/>
<polyline points="141.4,170 145.03,170 148.67,170 152.3,170 155.93,170 159.57,170 163.2,170 166.83,169.99 170.47,169.95 174.1,169.88 177.73,169.78 181.37,169.66 185,169.51 188.63,169.34 192.27,169.14 195.9,168.93 199.53,168.68 203.17,168.42 206.8,168.14 210.43,167.84 214.07,167.53 217.7,167.2 221.33,166.86 224.97,166.51 228.6,166.15 232.23,165.78 235.87,165.4 239.5,165.03 243.13,164.65 246.77,164.27 250.4,163.9 254.03,163.53 257.67,163.16 261.3,162.81 264.93,162.47 268.57,162.13 272.2,161.82 275.83,161.52 279.47,161.23 283.1,160.97 286.73,160.72 290.37,160.5 294,160.3 297.63,160.12 301.27,159.97 304.9,159.84 308.53,159.74 312.17,159.67 315.8,159.62 319.43,159.6 323.07,159.6 326.7,159.6 330.33,159.6 333.97,159.6 337.6,159.6 341.23,159.6 344.87,159.6 348.5,159.6 352.13,159.6 355.77,159.6 359.4,159.6 363.03,159.6 366.67,159.6 370.3,159.6 373.93,159.6 377.57,159.6 381.2,159.6 384.83,159.6 388.47,159.6 392.1,159.6 395.73,159.6 399.37,159.6 403,159.62 406.63,159.67 410.27,159.74 413.9,159.84 417.53,159.97 421.17,160.12 424.8,160.3 428.43,160.5 432.07,160.72 435.7,160.97 439.33,161.23 442.97,161.52 446.6,161.82 450.23,162.13 453.87,162.47 457.5,162.81 461.13,163.16 464.77,163.53 468.4,163.9 472.03,164.27 475.67,164.65 479.3,165.03 482.93,165.4 486.57,165.78 490.2,166.15 493.83,166.51 497.47,166.86 501.1,167.2 504.73,167.53 508.37,167.84 512,168.14 515.63,168.42 519.27,168.68 522.9,168.93 526.53,169.14 530.17,169.34 533.8,169.51 537.43,169.66 541.07,169.78 544.7,169.88 548.33,169.95 551.97,169.99 555.6,170 559.23,170 562.87,170 566.5,170 570.13,170 573.77,170 577.4,170" fill="none" stroke="#ee4630" stroke-width="3" stroke-linecap="square" stroke-linejoin="round"/>
<polyline points="141.4,189.4 145.03,189.4 148.67,189.4 152.3,189.4 155.93,189.4 159.57,189.4 163.2,189.4 166.83,189.39 170.47,189.35 174.1,189.29 177.73,189.21 181.37,189.1 185,188.97 188.63,188.82 192.27,188.65 195.9,188.46 199.53,188.25 203.17,188.02 206.8,187.77 210.43,187.51 214.07,187.24 217.7,186.95 221.33,186.65 224.97,186.34 228.6,186.03 232.23,185.71 235.87,185.38 239.5,185.05 243.13,184.72 246.77,184.39 250.4,184.06 254.03,183.74 257.67,183.42 261.3,183.11 264.93,182.81 268.57,182.52 272.2,182.24 275.83,181.98 279.47,181.73 283.1,181.5 286.73,181.28 290.37,181.09 294,180.91 297.63,180.75 301.27,180.62 304.9,180.51 308.53,180.42 312.17,180.36 315.8,180.32 319.43,180.3 323.07,180.3 326.7,180.3 330.33,180.3 333.97,180.3 337.6,180.3 341.23,180.3 344.87,180.3 348.5,180.3 352.13,180.3 355.77,180.3 359.4,180.3 363.03,180.3 366.67,180.3 370.3,180.3 373.93,180.3 377.57,180.3 381.2,180.3 384.83,180.3 388.47,180.3 392.1,180.3 395.73,180.3 399.37,180.3 403,180.32 406.63,180.36 410.27,180.42 413.9,180.51 417.53,180.62 421.17,180.75 424.8,180.91 428.43,181.09 432.07,181.28 435.7,181.5 439.33,181.73 442.97,181.98 446.6,182.24 450.23,182.52 453.87,182.81 457.5,183.11 461.13,183.42 464.77,183.74 468.4,184.06 472.03,184.39 475.67,184.72 479.3,185.05 482.93,185.38 486.57,185.71 490.2,186.03 493.83,186.34 497.47,186.65 501.1,186.95 504.73,187.24 508.37,187.51 512,187.77 515.63,188.02 519.27,188.25 522.9,188.46 526.53,188.65 530.17,188.82 533.8,188.97 537.43,189.1 541.07,189.21 544.7,189.29 548.33,189.35 551.97,189.39 555.6,189.4 559.23,189.4 562.87,189.4 566.5,189.4 570.13,189.4 573.77,189.4 577.4,189.4" fill="none" stroke="#ee4630" stroke-width="3" stroke-linecap="square" stroke-linejoin="round"/>
<polyline points="141.4,210.4 145.03,210.4 148.67,210.4 152.3,210.4 155.93,210.4 159.57,210.4 163.2,210.4 166.83,210.39 170.47,210.36 174.1,210.32 177.73,210.25 181.37,210.17 185,210.07 188.63,209.96 192.27,209.82 195.9,209.68 199.53,209.51 203.17,209.34 206.8,209.15 210.43,208.95 214.07,208.74 217.7,208.52 221.33,208.29 224.97,208.05 228.6,207.81 232.23,207.56 235.87,207.31 239.5,207.05 243.13,206.8 246.77,206.54 250.4,206.29 254.03,206.04 257.67,205.8 261.3,205.56 264.93,205.33 268.57,205.11 272.2,204.89 275.83,204.69 279.47,204.5 283.1,204.32 286.73,204.15 290.37,204 294,203.87 297.63,203.75 301.27,203.65 304.9,203.56 308.53,203.49 312.17,203.44 315.8,203.41 319.43,203.4 323.07,203.4 326.7,203.4 330.33,203.4 333.97,203.4 337.6,203.4 341.23,203.4 344.87,203.4 348.5,203.4 352.13,203.4 355.77,203.4 359.4,203.4 363.03,203.4 366.67,203.4 370.3,203.4 373.93,203.4 377.57,203.4 381.2,203.4 384.83,203.4 388.47,203.4 392.1,203.4 395.73,203.4 399.37,203.4 403,203.41 406.63,203.44 410.27,203.49 413.9,203.56 417.53,203.65 421.17,203.75 424.8,203.87 428.43,204 432.07,204.15 435.7,204.32 439.33,204.5 442.97,204.69 446.6,204.89 450.23,205.11 453.87,205.33 457.5,205.56 461.13,205.8 464.77,206.04 468.4,206.29 472.03,206.54 475.67,206.8 479.3,207.05 482.93,207.31 486.57,207.56 490.2,207.81 493.83,208.05 497.47,208.29 501.1,208.52 504.73,208.74 508.37,208.95 512,209.15 515.63,209.34 519.27,209.51 522.9,209.68 526.53,209.82 530.17,209.96 533.8,210.07 537.43,210.17 541.07,210.25 544.7,210.32 548.33,210.36 551.97,210.39 555.6,210.4 559.23,210.4 562.87,210.4 566.5,210.4 570.13,210.4 573.77,210.4 577.4,210.4" fill="none" stroke="#ee4630" stroke-width="3" stroke-linecap="square" stroke-linejoin="round"/>
<polyline points="141.4,232.3 145.03,232.3 148.67,232.3 152.3,232.3 155.93,232.3 159.57,232.3 163.2,232.3 166.83,232.29 170.47,232.26 174.1,232.22 177.73,232.15 181.37,232.07 185,231.97 188.63,231.86 192.27,231.72 195.9,231.58 199.53,231.41 203.17,231.24 206.8,231.05 210.43,230.85 214.07,230.64 217.7,230.42 221.33,230.19 224.97,229.95 228.6,229.71 232.23,229.46 235.87,229.21 239.5,228.95 243.13,228.7 246.77,228.44 250.4,228.19 254.03,227.94 257.67,227.7 261.3,227.46 264.93,227.23 268.57,227.01 272.2,226.79 275.83,226.59 279.47,226.4 283.1,226.22 286.73,226.05 290.37,225.9 294,225.77 297.63,225.65 301.27,225.55 304.9,225.46 308.53,225.39 312.17,225.34 315.8,225.31 319.43,225.3 323.07,225.3 326.7,225.3 330.33,225.3 333.97,225.3 337.6,225.3 341.23,225.3 344.87,225.3 348.5,225.3 352.13,225.3 355.77,225.3 359.4,225.3 363.03,225.3 366.67,225.3 370.3,225.3 373.93,225.3 377.57,225.3 381.2,225.3 384.83,225.3 388.47,225.3 392.1,225.3 395.73,225.3 399.37,225.3 403,225.31 406.63,225.34 410.27,225.39 413.9,225.46 417.53,225.55 421.17,225.65 424.8,225.77 428.43,225.9 432.07,226.05 435.7,226.22 439.33,226.4 442.97,226.59 446.6,226.79 450.23,227.01 453.87,227.23 457.5,227.46 461.13,227.7 464.77,227.94 468.4,228.19 472.03,228.44 475.67,228.7 479.3,228.95 482.93,229.21 486.57,229.46 490.2,229.71 493.83,229.95 497.47,230.19 501.1,230.42 504.73,230.64 508.37,230.85 512,231.05 515.63,231.24 519.27,231.41 522.9,231.58 526.53,231.72 530.17,231.86 533.8,231.97 537.43,232.07 541.07,232.15 544.7,232.22 548.33,232.26 551.97,232.29 555.6,232.3 559.23,232.3 562.87,232.3 566.5,232.3 570.13,232.3 573.77,232.3 577.4,232.3" fill="none" stroke="#ee4630" stroke-width="3" stroke-linecap="square" stroke-linejoin="round"/>
<polyline points="141.4,254.2 145.03,254.2 148.67,254.2 152.3,254.2 155.93,254.2 159.57,254.2 163.2,254.2 166.83,254.19 170.47,254.17 174.1,254.13 177.73,254.07 181.37,254 185,253.92 188.63,253.82 192.27,253.71 195.9,253.58 199.53,253.44 203.17,253.29 206.8,253.13 210.43,252.96 214.07,252.77 217.7,252.59 221.33,252.39 224.97,252.18 228.6,251.98 232.23,251.76 235.87,251.55 239.5,251.33 243.13,251.11 246.77,250.9 250.4,250.68 254.03,250.47 257.67,250.26 261.3,250.05 264.93,249.85 268.57,249.66 272.2,249.48 275.83,249.31 279.47,249.14 283.1,248.99 286.73,248.85 290.37,248.72 294,248.6 297.63,248.5 301.27,248.41 304.9,248.34 308.53,248.28 312.17,248.24 315.8,248.21 319.43,248.2 323.07,248.2 326.7,248.2 330.33,248.2 333.97,248.2 337.6,248.2 341.23,248.2 344.87,248.2 348.5,248.2 352.13,248.2 355.77,248.2 359.4,248.2 363.03,248.2 366.67,248.2 370.3,248.2 373.93,248.2 377.57,248.2 381.2,248.2 384.83,248.2 388.47,248.2 392.1,248.2 395.73,248.2 399.37,248.2 403,248.21 406.63,248.24 410.27,248.28 413.9,248.34 417.53,248.41 421.17,248.5 424.8,248.6 428.43,248.72 432.07,248.85 435.7,248.99 439.33,249.14 442.97,249.31 446.6,249.48 450.23,249.66 453.87,249.85 457.5,250.05 461.13,250.26 464.77,250.47 468.4,250.68 472.03,250.9 475.67,251.11 479.3,251.33 482.93,251.55 486.57,251.76 490.2,251.98 493.83,252.18 497.47,252.39 501.1,252.59 504.73,252.77 508.37,252.96 512,253.13 515.63,253.29 519.27,253.44 522.9,253.58 526.53,253.71 530.17,253.82 533.8,253.92 537.43,254 541.07,254.07 544.7,254.13 548.33,254.17 551.97,254.19 555.6,254.2 559.23,254.2 562.87,254.2 566.5,254.2 570.13,254.2 573.77,254.2 577.4,254.2" fill="none" stroke="#ee4630" stroke-width="3" stroke-linecap="square" stroke-linejoin="round"/>
<polyline points="141.4,278.1 145.03,278.1 148.67,278.1 152.3,278.1 155.93,278.1 159.57,278.1 163.2,278.1 166.83,278.09 170.47,278.05 174.1,277.98 177.73,277.89 181.37,277.77 185,277.62 188.63,277.45 192.27,277.26 195.9,277.05 199.53,276.81 203.17,276.55 206.8,276.28 210.43,275.99 214.07,275.68 217.7,275.35 221.33,275.02 224.97,274.67 228.6,274.32 232.23,273.96 235.87,273.59 239.5,273.22 243.13,272.85 246.77,272.48 250.4,272.11 254.03,271.75 257.67,271.4 261.3,271.05 264.93,270.71 268.57,270.39 272.2,270.07 275.83,269.78 279.47,269.5 283.1,269.24 286.73,269 290.37,268.78 294,268.58 297.63,268.41 301.27,268.26 304.9,268.14 308.53,268.04 312.17,267.97 315.8,267.92 319.43,267.9 323.07,267.9 326.7,267.9 330.33,267.9 333.97,267.9 337.6,267.9 341.23,267.9 344.87,267.9 348.5,267.9 352.13,267.9 355.77,267.9 359.4,267.9 363.03,267.9 366.67,267.9 370.3,267.9 373.93,267.9 377.57,267.9 381.2,267.9 384.83,267.9 388.47,267.9 392.1,267.9 395.73,267.9 399.37,267.9 403,267.92 406.63,267.97 410.27,268.04 413.9,268.14 417.53,268.26 421.17,268.41 424.8,268.58 428.43,268.78 432.07,269 435.7,269.24 439.33,269.5 442.97,269.78 446.6,270.07 450.23,270.39 453.87,270.71 457.5,271.05 461.13,271.4 464.77,271.75 468.4,272.11 472.03,272.48 475.67,272.85 479.3,273.22 482.93,273.59 486.57,273.96 490.2,274.32 493.83,274.67 497.47,275.02 501.1,275.35 504.73,275.68 508.37,275.99 512,276.28 515.63,276.55 519.27,276.81 522.9,277.05 526.53,277.26 530.17,277.45 533.8,277.62 537.43,277.77 541.07,277.89 544.7,277.98 548.33,278.05 551.97,278.09 555.6,278.1 559.23,278.1 562.87,278.1 566.5,278.1 570.13,278.1 573.77,278.1 577.4,278.1" fill="none" stroke="#ee4630" stroke-width="3" stroke-linecap="square" stroke-linejoin="round"/>
<polyline points="141.4,290.2 145.03,290.2 148.67,290.2 152.3,290.2 155.93,290.2 159.57,290.2 163.2,290.2 166.83,290.22 170.47,290.26 174.1,290.34 177.73,290.45 181.37,290.58 185,290.75 188.63,290.94 192.27,291.16 195.9,291.41 199.53,291.68 203.17,291.97 206.8,292.29 210.43,292.63 214.07,292.98 217.7,293.35 221.33,293.73 224.97,294.13 228.6,294.54 232.23,294.95 235.87,295.37 239.5,295.79 243.13,296.22 246.77,296.64 250.4,297.07 254.03,297.48 257.67,297.89 261.3,298.29 264.93,298.68 268.57,299.05 272.2,299.41 275.83,299.74 279.47,300.06 283.1,300.36 286.73,300.64 290.37,300.89 294,301.12 297.63,301.32 301.27,301.49 304.9,301.63 308.53,301.74 312.17,301.83 315.8,301.88 319.43,301.9 323.07,301.9 326.7,301.9 330.33,301.9 333.97,301.9 337.6,301.9 341.23,301.9 344.87,301.9 348.5,301.9 352.13,301.9 355.77,301.9 359.4,301.9 363.03,301.9 366.67,301.9 370.3,301.9 373.93,301.9 377.57,301.9 381.2,301.9 384.83,301.9 388.47,301.9 392.1,301.9 395.73,301.9 399.37,301.9 403,301.88 406.63,301.83 410.27,301.74 413.9,301.63 417.53,301.49 421.17,301.32 424.8,301.12 428.43,300.89 432.07,300.64 435.7,300.36 439.33,300.06 442.97,299.74 446.6,299.41 450.23,299.05 453.87,298.68 457.5,298.29 461.13,297.89 464.77,297.48 468.4,297.07 472.03,296.64 475.67,296.22 479.3,295.79 482.93,295.37 486.57,294.95 490.2,294.54 493.83,294.13 497.47,293.73 501.1,293.35 504.73,292.98 508.37,292.63 512,292.29 515.63,291.97 519.27,291.68 522.9,291.41 526.53,291.16 530.17,290.94 533.8,290.75 537.43,290.58 541.07,290.45 544.7,290.34 548.33,290.26 551.97,290.22 555.6,290.2 559.23,290.2 562.87,290.2 566.5,290.2 570.13,290.2 573.77,290.2 577.4,290.2" fill="none" stroke="#ee4630" stroke-width="3" stroke-linecap="square" stroke-linejoin="round"/>
<polyline points="141.4,316 145.03,316 148.67,316 152.3,316 155.93,316 159.57,316 163.2,316 166.83,316.01 170.47,316.03 174.1,316.06 177.73,316.1 181.37,316.16 185,316.23 188.63,316.31 192.27,316.4 195.9,316.51 199.53,316.62 203.17,316.74 206.8,316.88 210.43,317.02 214.07,317.16 217.7,317.32 221.33,317.48 224.97,317.65 228.6,317.82 232.23,317.99 235.87,318.17 239.5,318.34 243.13,318.52 246.77,318.7 250.4,318.88 254.03,319.05 257.67,319.22 261.3,319.39 264.93,319.55 268.57,319.71 272.2,319.86 275.83,320 279.47,320.13 283.1,320.26 286.73,320.37 290.37,320.48 294,320.57 297.63,320.66 301.27,320.73 304.9,320.79 308.53,320.83 312.17,320.87 315.8,320.89 319.43,320.9 323.07,320.9 326.7,320.9 330.33,320.9 333.97,320.9 337.6,320.9 341.23,320.9 344.87,320.9 348.5,320.9 352.13,320.9 355.77,320.9 359.4,320.9 363.03,320.9 366.67,320.9 370.3,320.9 373.93,320.9 377.57,320.9 381.2,320.9 384.83,320.9 388.47,320.9 392.1,320.9 395.73,320.9 399.37,320.9 403,320.89 406.63,320.87 410.27,320.83 413.9,320.79 417.53,320.73 421.17,320.66 424.8,320.57 428.43,320.48 432.07,320.37 435.7,320.26 439.33,320.13 442.97,320 446.6,319.86 450.23,319.71 453.87,319.55 457.5,319.39 461.13,319.22 464.77,319.05 468.4,318.88 472.03,318.7 475.67,318.52 479.3,318.34 482.93,318.17 486.57,317.99 490.2,317.82 493.83,317.65 497.47,317.48 501.1,317.32 504.73,317.16 508.37,317.02 512,316.88 515.63,316.74 519.27,316.62 522.9,316.51 526.53,316.4 530.17,316.31 533.8,316.23 537.43,316.16 541.07,316.1 544.7,316.06 548.33,316.03 551.97,316.01 555.6,316 559.23,316 562.87,316 566.5,316 570.13,316 573.77,316 577.4,316" fill="none" stroke="#ee4630" stroke-width="3" stroke-linecap="square" stroke-linejoin="round"/>
<polyline points="141.4,334.8 145.03,334.8 148.67,334.8 152.3,334.8 155.93,334.8 159.57,334.8 163.2,334.8 166.83,334.81 170.47,334.83 174.1,334.87 177.73,334.93 181.37,335 185,335.09 188.63,335.19 192.27,335.3 195.9,335.43 199.53,335.57 203.17,335.72 206.8,335.89 210.43,336.06 214.07,336.25 217.7,336.44 221.33,336.64 224.97,336.85 228.6,337.06 232.23,337.28 235.87,337.5 239.5,337.72 243.13,337.94 246.77,338.16 250.4,338.38 254.03,338.6 257.67,338.81 261.3,339.02 264.93,339.22 268.57,339.41 272.2,339.6 275.83,339.78 279.47,339.94 283.1,340.1 286.73,340.24 290.37,340.37 294,340.49 297.63,340.6 301.27,340.68 304.9,340.76 308.53,340.82 312.17,340.86 315.8,340.89 319.43,340.9 323.07,340.9 326.7,340.9 330.33,340.9 333.97,340.9 337.6,340.9 341.23,340.9 344.87,340.9 348.5,340.9 352.13,340.9 355.77,340.9 359.4,340.9 363.03,340.9 366.67,340.9 370.3,340.9 373.93,340.9 377.57,340.9 381.2,340.9 384.83,340.9 388.47,340.9 392.1,340.9 395.73,340.9 399.37,340.9 403,340.89 406.63,340.86 410.27,340.82 413.9,340.76 417.53,340.68 421.17,340.6 424.8,340.49 428.43,340.37 432.07,340.24 435.7,340.1 439.33,339.94 442.97,339.78 446.6,339.6 450.23,339.41 453.87,339.22 457.5,339.02 461.13,338.81 464.77,338.6 468.4,338.38 472.03,338.16 475.67,337.94 479.3,337.72 482.93,337.5 486.57,337.28 490.2,337.06 493.83,336.85 497.47,336.64 501.1,336.44 504.73,336.25 508.37,336.06 512,335.89 515.63,335.72 519.27,335.57 522.9,335.43 526.53,335.3 530.17,335.19 533.8,335.09 537.43,335 541.07,334.93 544.7,334.87 548.33,334.83 551.97,334.81 555.6,334.8 559.23,334.8 562.87,334.8 566.5,334.8 570.13,334.8 573.77,334.8 577.4,334.8" fill="none" stroke="#ee4630" stroke-width="3" stroke-linecap="square" stroke-linejoin="round"/>
<polyline points="141.4,353.8 145.03,353.8 148.67,353.8 152.3,353.8 155.93,353.8 159.57,353.8 163.2,353.8 166.83,353.81 170.47,353.83 174.1,353.88 177.73,353.94 181.37,354.02 185,354.11 188.63,354.22 192.27,354.34 195.9,354.48 199.53,354.63 203.17,354.8 206.8,354.98 210.43,355.17 214.07,355.37 217.7,355.58 221.33,355.79 224.97,356.02 228.6,356.25 232.23,356.48 235.87,356.72 239.5,356.96 243.13,357.2 246.77,357.44 250.4,357.67 254.03,357.91 257.67,358.14 261.3,358.36 264.93,358.58 268.57,358.79 272.2,358.99 275.83,359.18 279.47,359.36 283.1,359.53 286.73,359.69 290.37,359.83 294,359.96 297.63,360.07 301.27,360.17 304.9,360.25 308.53,360.31 312.17,360.36 315.8,360.39 319.43,360.4 323.07,360.4 326.7,360.4 330.33,360.4 333.97,360.4 337.6,360.4 341.23,360.4 344.87,360.4 348.5,360.4 352.13,360.4 355.77,360.4 359.4,360.4 363.03,360.4 366.67,360.4 370.3,360.4 373.93,360.4 377.57,360.4 381.2,360.4 384.83,360.4 388.47,360.4 392.1,360.4 395.73,360.4 399.37,360.4 403,360.39 406.63,360.36 410.27,360.31 413.9,360.25 417.53,360.17 421.17,360.07 424.8,359.96 428.43,359.83 432.07,359.69 435.7,359.53 439.33,359.36 442.97,359.18 446.6,358.99 450.23,358.79 453.87,358.58 457.5,358.36 461.13,358.14 464.77,357.91 468.4,357.67 472.03,357.44 475.67,357.2 479.3,356.96 482.93,356.72 486.57,356.48 490.2,356.25 493.83,356.02 497.47,355.79 501.1,355.58 504.73,355.37 508.37,355.17 512,354.98 515.63,354.8 519.27,354.63 522.9,354.48 526.53,354.34 530.17,354.22 533.8,354.11 537.43,354.02 541.07,353.94 544.7,353.88 548.33,353.83 551.97,353.81 555.6,353.8 559.23,353.8 562.87,353.8 566.5,353.8 570.13,353.8 573.77,353.8 577.4,353.8" fill="none" stroke="#ee4630" stroke-width="3" stroke-linecap="square" stroke-linejoin="round"/>
<polyline points="141.4,370.8 145.03,370.8 148.67,370.8 152.3,370.8 155.93,370.8 159.57,370.8 163.2,370.8 166.83,370.81 170.47,370.84 174.1,370.9 177.73,370.98 181.37,371.07 185,371.19 188.63,371.33 192.27,371.49 195.9,371.67 199.53,371.86 203.17,372.07 206.8,372.3 210.43,372.54 214.07,372.8 217.7,373.06 221.33,373.34 224.97,373.62 228.6,373.91 232.23,374.21 235.87,374.51 239.5,374.82 243.13,375.12 246.77,375.43 250.4,375.73 254.03,376.03 257.67,376.32 261.3,376.61 264.93,376.88 268.57,377.15 272.2,377.41 275.83,377.65 279.47,377.88 283.1,378.1 286.73,378.29 290.37,378.48 294,378.64 297.63,378.78 301.27,378.9 304.9,379.01 308.53,379.09 312.17,379.15 315.8,379.18 319.43,379.2 323.07,379.2 326.7,379.2 330.33,379.2 333.97,379.2 337.6,379.2 341.23,379.2 344.87,379.2 348.5,379.2 352.13,379.2 355.77,379.2 359.4,379.2 363.03,379.2 366.67,379.2 370.3,379.2 373.93,379.2 377.57,379.2 381.2,379.2 384.83,379.2 388.47,379.2 392.1,379.2 395.73,379.2 399.37,379.2 403,379.18 406.63,379.15 410.27,379.09 413.9,379.01 417.53,378.9 421.17,378.78 424.8,378.64 428.43,378.48 432.07,378.29 435.7,378.1 439.33,377.88 442.97,377.65 446.6,377.41 450.23,377.15 453.87,376.88 457.5,376.61 461.13,376.32 464.77,376.03 468.4,375.73 472.03,375.43 475.67,375.12 479.3,374.82 482.93,374.51 486.57,374.21 490.2,373.91 493.83,373.62 497.47,373.34 501.1,373.06 504.73,372.8 508.37,372.54 512,372.3 515.63,372.07 519.27,371.86 522.9,371.67 526.53,371.49 530.17,371.33 533.8,371.19 537.43,371.07 541.07,370.98 544.7,370.9 548.33,370.84 551.97,370.81 555.6,370.8 559.23,370.8 562.87,370.8 566.5,370.8 570.13,370.8 573.77,370.8 577.4,370.8" fill="none" stroke="#ee4630" stroke-width="3" stroke-linecap="square" stroke-linejoin="round"/>
<polyline points="141.4,386.4 145.03,386.4 148.67,386.4 152.3,386.4 155.93,386.4 159.57,386.4 163.2,386.4 166.83,386.41 170.47,386.45 174.1,386.51 177.73,386.6 181.37,386.71 185,386.85 188.63,387 192.27,387.18 195.9,387.38 199.53,387.6 203.17,387.84 206.8,388.1 210.43,388.37 214.07,388.66 217.7,388.96 221.33,389.27 224.97,389.59 228.6,389.92 232.23,390.26 235.87,390.6 239.5,390.94 243.13,391.29 246.77,391.63 250.4,391.97 254.03,392.31 257.67,392.64 261.3,392.97 264.93,393.28 268.57,393.58 272.2,393.87 275.83,394.15 279.47,394.41 283.1,394.65 286.73,394.88 290.37,395.08 294,395.26 297.63,395.43 301.27,395.56 304.9,395.68 308.53,395.77 312.17,395.84 315.8,395.88 319.43,395.9 323.07,395.9 326.7,395.9 330.33,395.9 333.97,395.9 337.6,395.9 341.23,395.9 344.87,395.9 348.5,395.9 352.13,395.9 355.77,395.9 359.4,395.9 363.03,395.9 366.67,395.9 370.3,395.9 373.93,395.9 377.57,395.9 381.2,395.9 384.83,395.9 388.47,395.9 392.1,395.9 395.73,395.9 399.37,395.9 403,395.88 406.63,395.84 410.27,395.77 413.9,395.68 417.53,395.56 421.17,395.43 424.8,395.26 428.43,395.08 432.07,394.88 435.7,394.65 439.33,394.41 442.97,394.15 446.6,393.87 450.23,393.58 453.87,393.28 457.5,392.97 461.13,392.64 464.77,392.31 468.4,391.97 472.03,391.63 475.67,391.29 479.3,390.94 482.93,390.6 486.57,390.26 490.2,389.92 493.83,389.59 497.47,389.27 501.1,388.96 504.73,388.66 508.37,388.37 512,388.1 515.63,387.84 519.27,387.6 522.9,387.38 526.53,387.18 530.17,387 533.8,386.85 537.43,386.71 541.07,386.6 544.7,386.51 548.33,386.45 551.97,386.41 555.6,386.4 559.23,386.4 562.87,386.4 566.5,386.4 570.13,386.4 573.77,386.4 577.4,386.4" fill="none" stroke="#ee4630" stroke-width="3" stroke-linecap="square" stroke-linejoin="round"/>
<polyline points="141.4,399.4 145.03,399.4 148.67,399.4 152.3,399.4 155.93,399.4 159.57,399.4 163.2,399.4 166.83,399.42 170.47,399.46 174.1,399.54 177.73,399.65 181.37,399.79 185,399.96 188.63,400.16 192.27,400.39 195.9,400.64 199.53,400.92 203.17,401.22 206.8,401.54 210.43,401.89 214.07,402.25 217.7,402.63 221.33,403.02 224.97,403.43 228.6,403.85 232.23,404.27 235.87,404.7 239.5,405.14 243.13,405.57 246.77,406.01 250.4,406.44 254.03,406.87 257.67,407.29 261.3,407.7 264.93,408.09 268.57,408.48 272.2,408.84 275.83,409.19 279.47,409.52 283.1,409.82 286.73,410.11 290.37,410.36 294,410.6 297.63,410.8 301.27,410.98 304.9,411.12 308.53,411.24 312.17,411.32 315.8,411.38 319.43,411.4 323.07,411.4 326.7,411.4 330.33,411.4 333.97,411.4 337.6,411.4 341.23,411.4 344.87,411.4 348.5,411.4 352.13,411.4 355.77,411.4 359.4,411.4 363.03,411.4 366.67,411.4 370.3,411.4 373.93,411.4 377.57,411.4 381.2,411.4 384.83,411.4 388.47,411.4 392.1,411.4 395.73,411.4 399.37,411.4 403,411.38 406.63,411.32 410.27,411.24 413.9,411.12 417.53,410.98 421.17,410.8 424.8,410.6 428.43,410.36 432.07,410.11 435.7,409.82 439.33,409.52 442.97,409.19 446.6,408.84 450.23,408.48 453.87,408.09 457.5,407.7 461.13,407.29 464.77,406.87 468.4,406.44 472.03,406.01 475.67,405.57 479.3,405.14 482.93,404.7 486.57,404.27 490.2,403.85 493.83,403.43 497.47,403.02 501.1,402.63 504.73,402.25 508.37,401.89 512,401.54 515.63,401.22 519.27,400.92 522.9,400.64 526.53,400.39 530.17,400.16 533.8,399.96 537.43,399.79 541.07,399.65 544.7,399.54 548.33,399.46 551.97,399.42 555.6,399.4 559.23,399.4 562.87,399.4 566.5,399.4 570.13,399.4 573.77,399.4 577.4,399.4" fill="none" stroke="#ee4630" stroke-width="3" stroke-linecap="square" stroke-linejoin="round"/>
<polyline points="141.4,412.3 145.03,412.3 148.67,412.3 152.3,412.3 155.93,412.3 159.57,412.3 163.2,412.3 166.83,412.32 170.47,412.36 174.1,412.44 177.73,412.55 181.37,412.69 185,412.86 188.63,413.05 192.27,413.28 195.9,413.53 199.53,413.81 203.17,414.1 206.8,414.43 210.43,414.77 214.07,415.13 217.7,415.5 221.33,415.89 224.97,416.3 228.6,416.71 232.23,417.13 235.87,417.56 239.5,417.99 243.13,418.42 246.77,418.85 250.4,419.28 254.03,419.71 257.67,420.12 261.3,420.53 264.93,420.92 268.57,421.3 272.2,421.66 275.83,422.01 279.47,422.33 283.1,422.64 286.73,422.92 290.37,423.17 294,423.4 297.63,423.61 301.27,423.78 304.9,423.92 308.53,424.04 312.17,424.12 315.8,424.18 319.43,424.2 323.07,424.2 326.7,424.2 330.33,424.2 333.97,424.2 337.6,424.2 341.23,424.2 344.87,424.2 348.5,424.2 352.13,424.2 355.77,424.2 359.4,424.2 363.03,424.2 366.67,424.2 370.3,424.2 373.93,424.2 377.57,424.2 381.2,424.2 384.83,424.2 388.47,424.2 392.1,424.2 395.73,424.2 399.37,424.2 403,424.18 406.63,424.12 410.27,424.04 413.9,423.92 417.53,423.78 421.17,423.61 424.8,423.4 428.43,423.17 432.07,422.92 435.7,422.64 439.33,422.33 442.97,422.01 446.6,421.66 450.23,421.3 453.87,420.92 457.5,420.53 461.13,420.12 464.77,419.71 468.4,419.28 472.03,418.85 475.67,418.42 479.3,417.99 482.93,417.56 486.57,417.13 490.2,416.71 493.83,416.3 497.47,415.89 501.1,415.5 504.73,415.13 508.37,414.77 512,414.43 515.63,414.1 519.27,413.81 522.9,413.53 526.53,413.28 530.17,413.05 533.8,412.86 537.43,412.69 541.07,412.55 544.7,412.44 548.33,412.36 551.97,412.32 555.6,412.3 559.23,412.3 562.87,412.3 566.5,412.3 570.13,412.3 573.77,412.3 577.4,412.3" fill="none" stroke="#ee4630" stroke-width="3" stroke-linecap="square" stroke-linejoin="round"/>
<polyline points="141.4,422.2 145.03,422.2 148.67,422.2 152.3,422.2 155.93,422.2 159.57,422.2 163.2,422.2 166.83,422.22 170.47,422.27 174.1,422.36 177.73,422.49 181.37,422.65 185,422.85 188.63,423.08 192.27,423.34 195.9,423.64 199.53,423.96 203.17,424.31 206.8,424.68 210.43,425.08 214.07,425.5 217.7,425.94 221.33,426.4 224.97,426.87 228.6,427.35 232.23,427.84 235.87,428.34 239.5,428.85 243.13,429.35 246.77,429.86 250.4,430.36 254.03,430.85 257.67,431.34 261.3,431.81 264.93,432.27 268.57,432.71 272.2,433.14 275.83,433.54 279.47,433.92 283.1,434.27 286.73,434.6 290.37,434.9 294,435.17 297.63,435.41 301.27,435.61 304.9,435.78 308.53,435.91 312.17,436.01 315.8,436.07 319.43,436.1 323.07,436.1 326.7,436.1 330.33,436.1 333.97,436.1 337.6,436.1 341.23,436.1 344.87,436.1 348.5,436.1 352.13,436.1 355.77,436.1 359.4,436.1 363.03,436.1 366.67,436.1 370.3,436.1 373.93,436.1 377.57,436.1 381.2,436.1 384.83,436.1 388.47,436.1 392.1,436.1 395.73,436.1 399.37,436.1 403,436.07 406.63,436.01 410.27,435.91 413.9,435.78 417.53,435.61 421.17,435.41 424.8,435.17 428.43,434.9 432.07,434.6 435.7,434.27 439.33,433.92 442.97,433.54 446.6,433.14 450.23,432.71 453.87,432.27 457.5,431.81 461.13,431.34 464.77,430.85 468.4,430.36 472.03,429.86 475.67,429.35 479.3,428.85 482.93,428.34 486.57,427.84 490.2,427.35 493.83,426.87 497.47,426.4 501.1,425.94 504.73,425.5 508.37,425.08 512,424.68 515.63,424.31 519.27,423.96 522.9,423.64 526.53,423.34 530.17,423.08 533.8,422.85 537.43,422.65 541.07,422.49 544.7,422.36 548.33,422.27 551.97,422.22 555.6,422.2 559.23,422.2 562.87,422.2 566.5,422.2 570.13,422.2 573.77,422.2 577.4,422.2" fill="none" stroke="#ee4630" stroke-width="3" stroke-linecap="square" stroke-linejoin="round"/>
<polyline points="141.4,431.1 145.03,431.1 148.67,431.1 152.3,431.1 155.93,431.1 159.57,431.1 163.2,431.1 166.83,431.12 170.47,431.17 174.1,431.27 177.73,431.4 181.37,431.56 185,431.77 188.63,432 192.27,432.27 195.9,432.57 199.53,432.9 203.17,433.25 206.8,433.64 210.43,434.04 214.07,434.47 217.7,434.92 221.33,435.39 224.97,435.87 228.6,436.36 232.23,436.87 235.87,437.38 239.5,437.89 243.13,438.41 246.77,438.92 250.4,439.43 254.03,439.94 257.67,440.43 261.3,440.92 264.93,441.39 268.57,441.84 272.2,442.27 275.83,442.68 279.47,443.07 283.1,443.43 286.73,443.77 290.37,444.07 294,444.35 297.63,444.59 301.27,444.8 304.9,444.97 308.53,445.11 312.17,445.21 315.8,445.27 319.43,445.3 323.07,445.3 326.7,445.3 330.33,445.3 333.97,445.3 337.6,445.3 341.23,445.3 344.87,445.3 348.5,445.3 352.13,445.3 355.77,445.3 359.4,445.3 363.03,445.3 366.67,445.3 370.3,445.3 373.93,445.3 377.57,445.3 381.2,445.3 384.83,445.3 388.47,445.3 392.1,445.3 395.73,445.3 399.37,445.3 403,445.27 406.63,445.21 410.27,445.11 413.9,444.97 417.53,444.8 421.17,444.59 424.8,444.35 428.43,444.07 432.07,443.77 435.7,443.43 439.33,443.07 442.97,442.68 446.6,442.27 450.23,441.84 453.87,441.39 457.5,440.92 461.13,440.43 464.77,439.94 468.4,439.43 472.03,438.92 475.67,438.41 479.3,437.89 482.93,437.38 486.57,436.87 490.2,436.36 493.83,435.87 497.47,435.39 501.1,434.92 504.73,434.47 508.37,434.04 512,433.64 515.63,433.25 519.27,432.9 522.9,432.57 526.53,432.27 530.17,432 533.8,431.77 537.43,431.56 541.07,431.4 544.7,431.27 548.33,431.17 551.97,431.12 555.6,431.1 559.23,431.1 562.87,431.1 566.5,431.1 570.13,431.1 573.77,431.1 577.4,431.1" fill="none" stroke="#ee4630" stroke-width="3" stroke-linecap="square" stroke-linejoin="round"/>
<polyline points="141.4,437.3 145.03,437.3 148.67,437.3 152.3,437.3 155.93,437.3 159.57,437.3 163.2,437.3 166.83,437.32 170.47,437.38 174.1,437.48 177.73,437.61 181.37,437.79 185,438 188.63,438.24 192.27,438.53 195.9,438.84 199.53,439.18 203.17,439.56 206.8,439.96 210.43,440.39 214.07,440.84 217.7,441.31 221.33,441.8 224.97,442.3 228.6,442.82 232.23,443.35 235.87,443.89 239.5,444.43 243.13,444.97 246.77,445.51 250.4,446.04 254.03,446.57 257.67,447.09 261.3,447.6 264.93,448.09 268.57,448.57 272.2,449.02 275.83,449.46 279.47,449.86 283.1,450.24 286.73,450.59 290.37,450.91 294,451.2 297.63,451.46 301.27,451.67 304.9,451.86 308.53,452 312.17,452.1 315.8,452.17 319.43,452.2 323.07,452.2 326.7,452.2 330.33,452.2 333.97,452.2 337.6,452.2 341.23,452.2 344.87,452.2 348.5,452.2 352.13,452.2 355.77,452.2 359.4,452.2 363.03,452.2 366.67,452.2 370.3,452.2 373.93,452.2 377.57,452.2 381.2,452.2 384.83,452.2 388.47,452.2 392.1,452.2 395.73,452.2 399.37,452.2 403,452.17 406.63,452.1 410.27,452 413.9,451.86 417.53,451.67 421.17,451.46 424.8,451.2 428.43,450.91 432.07,450.59 435.7,450.24 439.33,449.86 442.97,449.46 446.6,449.02 450.23,448.57 453.87,448.09 457.5,447.6 461.13,447.09 464.77,446.57 468.4,446.04 472.03,445.51 475.67,444.97 479.3,444.43 482.93,443.89 486.57,443.35 490.2,442.82 493.83,442.3 497.47,441.8 501.1,441.31 504.73,440.84 508.37,440.39 512,439.96 515.63,439.56 519.27,439.18 522.9,438.84 526.53,438.53 530.17,438.24 533.8,438 537.43,437.79 541.07,437.61 544.7,437.48 548.33,437.38 551.97,437.32 555.6,437.3 559.23,437.3 562.87,437.3 566.5,437.3 570.13,437.3 573.77,437.3 577.4,437.3" fill="none" stroke="#ee4630" stroke-width="3" stroke-linecap="square" stroke-linejoin="round"/>
<polyline points="141.4,442 145.03,442 148.67,442 152.3,442 155.93,442 159.57,442 163.2,442 166.83,442.02 170.47,442.09 174.1,442.2 177.73,442.35 181.37,442.54 185,442.77 188.63,443.05 192.27,443.36 195.9,443.7 199.53,444.09 203.17,444.5 206.8,444.95 210.43,445.42 214.07,445.92 217.7,446.44 221.33,446.98 224.97,447.54 228.6,448.11 232.23,448.7 235.87,449.29 239.5,449.89 243.13,450.49 246.77,451.09 250.4,451.68 254.03,452.27 257.67,452.84 261.3,453.41 264.93,453.95 268.57,454.48 272.2,454.98 275.83,455.46 279.47,455.91 283.1,456.33 286.73,456.72 290.37,457.08 294,457.39 297.63,457.68 301.27,457.92 304.9,458.12 308.53,458.28 312.17,458.39 315.8,458.47 319.43,458.5 323.07,458.5 326.7,458.5 330.33,458.5 333.97,458.5 337.6,458.5 341.23,458.5 344.87,458.5 348.5,458.5 352.13,458.5 355.77,458.5 359.4,458.5 363.03,458.5 366.67,458.5 370.3,458.5 373.93,458.5 377.57,458.5 381.2,458.5 384.83,458.5 388.47,458.5 392.1,458.5 395.73,458.5 399.37,458.5 403,458.47 406.63,458.39 410.27,458.28 413.9,458.12 417.53,457.92 421.17,457.68 424.8,457.39 428.43,457.08 432.07,456.72 435.7,456.33 439.33,455.91 442.97,455.46 446.6,454.98 450.23,454.48 453.87,453.95 457.5,453.41 461.13,452.84 464.77,452.27 468.4,451.68 472.03,451.09 475.67,450.49 479.3,449.89 482.93,449.29 486.57,448.7 490.2,448.11 493.83,447.54 497.47,446.98 501.1,446.44 504.73,445.92 508.37,445.42 512,444.95 515.63,444.5 519.27,444.09 522.9,443.7 526.53,443.36 530.17,443.05 533.8,442.77 537.43,442.54 541.07,442.35 544.7,442.2 548.33,442.09 551.97,442.02 555.6,442 559.23,442 562.87,442 566.5,442 570.13,442 573.77,442 577.4,442" fill="none" stroke="#ee4630" stroke-width="3" stroke-linecap="square" stroke-linejoin="round"/>
<polyline points="141.4,444.6 145.03,444.6 148.67,444.6 152.3,444.6 155.93,444.6 159.57,444.6 163.2,444.6 166.83,444.62 170.47,444.69 174.1,444.79 177.73,444.94 181.37,445.14 185,445.37 188.63,445.64 192.27,445.95 195.9,446.29 199.53,446.67 203.17,447.09 206.8,447.53 210.43,448 214.07,448.5 217.7,449.01 221.33,449.55 224.97,450.11 228.6,450.68 232.23,451.26 235.87,451.85 239.5,452.44 243.13,453.04 246.77,453.63 250.4,454.22 254.03,454.81 257.67,455.38 261.3,455.94 264.93,456.48 268.57,457 272.2,457.5 275.83,457.98 279.47,458.43 283.1,458.85 286.73,459.23 290.37,459.58 294,459.9 297.63,460.18 301.27,460.42 304.9,460.62 308.53,460.78 312.17,460.9 315.8,460.97 319.43,461 323.07,461 326.7,461 330.33,461 333.97,461 337.6,461 341.23,461 344.87,461 348.5,461 352.13,461 355.77,461 359.4,461 363.03,461 366.67,461 370.3,461 373.93,461 377.57,461 381.2,461 384.83,461 388.47,461 392.1,461 395.73,461 399.37,461 403,460.97 406.63,460.9 410.27,460.78 413.9,460.62 417.53,460.42 421.17,460.18 424.8,459.9 428.43,459.58 432.07,459.23 435.7,458.85 439.33,458.43 442.97,457.98 446.6,457.5 450.23,457 453.87,456.48 457.5,455.94 461.13,455.38 464.77,454.81 468.4,454.22 472.03,453.63 475.67,453.04 479.3,452.44 482.93,451.85 486.57,451.26 490.2,450.68 493.83,450.11 497.47,449.55 501.1,449.01 504.73,448.5 508.37,448 512,447.53 515.63,447.09 519.27,446.67 522.9,446.29 526.53,445.95 530.17,445.64 533.8,445.37 537.43,445.14 541.07,444.94 544.7,444.79 548.33,444.69 551.97,444.62 555.6,444.6 559.23,444.6 562.87,444.6 566.5,444.6 570.13,444.6 573.77,444.6 577.4,444.6" fill="none" stroke="#ee4630" stroke-width="3" stroke-linecap="square" stroke-linejoin="round"/>
<polyline points="782.7,71 784.52,71.01 786.33,71.05 788.15,71.1 789.97,71.18 791.78,71.29 793.6,71.41 795.42,71.56 797.23,71.74 799.05,71.93 800.87,72.15 802.68,72.39 804.5,72.65 806.32,72.94 808.13,73.25 809.95,73.58 811.77,73.93 813.58,74.31 815.4,74.71 817.22,75.13 819.03,75.57 820.85,76.04 822.67,76.53 824.48,77.04 826.3,77.57 828.12,78.12 829.93,78.7 831.75,79.29 833.57,79.91 835.38,80.55 837.2,81.22 839.02,81.9 840.83,82.6 842.65,83.33 844.47,84.07 846.28,84.84 848.1,85.63 849.92,86.43 851.73,87.26 853.55,88.11 855.37,88.98 857.18,89.87 859,90.78 860.82,91.7 862.63,92.65 864.45,93.62 866.27,94.6 868.08,95.61 869.9,96.63 871.72,97.67 873.53,98.73 875.35,99.81 877.17,100.91 878.98,102.02 880.8,103.15 882.62,104.3 884.43,105.47 886.25,106.65 888.07,107.85 889.88,109.07 891.7,110.31 893.52,111.56 895.33,112.82 897.15,114.1 898.97,115.4 900.78,116.72 902.6,118.04 904.42,119.39 906.23,120.75 908.05,122.12 909.87,123.5 911.68,124.9 913.5,126.32 915.32,127.75 917.13,129.19 918.95,130.64 920.77,132.11 922.58,133.59 924.4,135.08 926.22,136.58 928.03,138.1 929.85,139.63 931.67,141.17 933.48,142.71 935.3,144.27 937.12,145.84 938.93,147.43 940.75,149.02 942.57,150.62 944.38,152.23 946.2,153.84 948.02,155.47 949.83,157.11 951.65,158.75 953.47,160.4 955.28,162.06 957.1,163.73 958.92,165.4 960.73,167.09 962.55,168.77 964.37,170.47 966.18,172.17 968,173.87 969.82,175.58 971.63,177.3 973.45,179.02 975.27,180.74 977.08,182.47 978.9,184.21 980.72,185.94 982.53,187.68 984.35,189.43 986.17,191.17 987.98,192.92 989.8,194.67 991.62,196.42 993.43,198.18 995.25,199.93 997.07,201.69 998.88,203.44 1000.7,205.2 1002.52,203.44 1004.33,201.69 1006.15,199.93 1007.97,198.18 1009.78,196.42 1011.6,194.67 1013.42,192.92 1015.23,191.17 1017.05,189.43 1018.87,187.68 1020.68,185.94 1022.5,184.21 1024.32,182.47 1026.13,180.74 1027.95,179.02 1029.77,177.3 1031.58,175.58 1033.4,173.87 1035.22,172.17 1037.03,170.47 1038.85,168.77 1040.67,167.09 1042.48,165.4 1044.3,163.73 1046.12,162.06 1047.93,160.4 1049.75,158.75 1051.57,157.11 1053.38,155.47 1055.2,153.84 1057.02,152.23 1058.83,150.62 1060.65,149.02 1062.47,147.43 1064.28,145.84 1066.1,144.27 1067.92,142.71 1069.73,141.17 1071.55,139.63 1073.37,138.1 1075.18,136.58 1077,135.08 1078.82,133.59 1080.63,132.11 1082.45,130.64 1084.27,129.19 1086.08,127.75 1087.9,126.32 1089.72,124.9 1091.53,123.5 1093.35,122.12 1095.17,120.75 1096.98,119.39 1098.8,118.04 1100.62,116.72 1102.43,115.4 1104.25,114.1 1106.07,112.82 1107.88,111.56 1109.7,110.31 1111.52,109.07 1113.33,107.85 1115.15,106.65 1116.97,105.47 1118.78,104.3 1120.6,103.15 1122.42,102.02 1124.23,100.91 1126.05,99.81 1127.87,98.73 1129.68,97.67 1131.5,96.63 1133.32,95.61 1135.13,94.6 1136.95,93.62 1138.77,92.65 1140.58,91.7 1142.4,90.78 1144.22,89.87 1146.03,88.98 1147.85,88.11 1149.67,87.26 1151.48,86.43 1153.3,85.63 1155.12,84.84 1156.93,84.07 1158.75,83.33 1160.57,82.6 1162.38,81.9 1164.2,81.22 1166.02,80.55 1167.83,79.91 1169.65,79.29 1171.47,78.7 1173.28,78.12 1175.1,77.57 1176.92,77.04 1178.73,76.53 1180.55,76.04 1182.37,75.57 1184.18,75.13 1186,74.71 1187.82,74.31 1189.63,73.93 1191.45,73.58 1193.27,73.25 1195.08,72.94 1196.9,72.65 1198.72,72.39 1200.53,72.15 1202.35,71.93 1204.17,71.74 1205.98,71.56 1207.8,71.41 1209.62,71.29 1211.43,71.18 1213.25,71.1 1215.07,71.05 1216.88,71.01 1218.7,71" fill="none" stroke="#ee4630" stroke-width="2.8" stroke-linecap="square" stroke-linejoin="round"/>
<polyline points="782.7,74 784.52,74.01 786.33,74.04 788.15,74.1 789.97,74.18 791.78,74.28 793.6,74.4 795.42,74.55 797.23,74.72 799.05,74.91 800.87,75.12 802.68,75.36 804.5,75.62 806.32,75.9 808.13,76.2 809.95,76.53 811.77,76.87 813.58,77.24 815.4,77.64 817.22,78.05 819.03,78.49 820.85,78.94 822.67,79.43 824.48,79.93 826.3,80.45 828.12,81 829.93,81.57 831.75,82.16 833.57,82.77 835.38,83.4 837.2,84.06 839.02,84.73 840.83,85.43 842.65,86.15 844.47,86.89 846.28,87.65 848.1,88.44 849.92,89.24 851.73,90.06 853.55,90.91 855.37,91.77 857.18,92.66 859,93.56 860.82,94.49 862.63,95.43 864.45,96.4 866.27,97.38 868.08,98.38 869.9,99.4 871.72,100.44 873.53,101.5 875.35,102.58 877.17,103.68 878.98,104.79 880.8,105.92 882.62,107.07 884.43,108.23 886.25,109.42 888.07,110.62 889.88,111.83 891.7,113.06 893.52,114.31 895.33,115.57 897.15,116.85 898.97,118.14 900.78,119.45 902.6,120.77 904.42,122.11 906.23,123.46 908.05,124.82 909.87,126.2 911.68,127.59 913.5,128.99 915.32,130.4 917.13,131.83 918.95,133.26 920.77,134.71 922.58,136.17 924.4,137.64 926.22,139.12 928.03,140.61 929.85,142.11 931.67,143.62 933.48,145.14 935.3,146.66 937.12,148.2 938.93,149.74 940.75,151.3 942.57,152.85 944.38,154.42 946.2,155.99 948.02,157.57 949.83,159.16 951.65,160.75 953.47,162.35 955.28,163.96 957.1,165.57 958.92,167.18 960.73,168.8 962.55,170.42 964.37,172.05 966.18,173.69 968,175.32 969.82,176.96 971.63,178.61 973.45,180.25 975.27,181.9 977.08,183.56 978.9,185.21 980.72,186.87 982.53,188.53 984.35,190.19 986.17,191.85 987.98,193.52 989.8,195.18 991.62,196.85 993.43,198.52 995.25,200.19 997.07,201.86 998.88,203.53 1000.7,205.2 1002.52,203.53 1004.33,201.86 1006.15,200.19 1007.97,198.52 1009.78,196.85 1011.6,195.18 1013.42,193.52 1015.23,191.85 1017.05,190.19 1018.87,188.53 1020.68,186.87 1022.5,185.21 1024.32,183.56 1026.13,181.9 1027.95,180.25 1029.77,178.61 1031.58,176.96 1033.4,175.32 1035.22,173.69 1037.03,172.05 1038.85,170.42 1040.67,168.8 1042.48,167.18 1044.3,165.57 1046.12,163.96 1047.93,162.35 1049.75,160.75 1051.57,159.16 1053.38,157.57 1055.2,155.99 1057.02,154.42 1058.83,152.85 1060.65,151.3 1062.47,149.74 1064.28,148.2 1066.1,146.66 1067.92,145.14 1069.73,143.62 1071.55,142.11 1073.37,140.61 1075.18,139.12 1077,137.64 1078.82,136.17 1080.63,134.71 1082.45,133.26 1084.27,131.83 1086.08,130.4 1087.9,128.99 1089.72,127.59 1091.53,126.2 1093.35,124.82 1095.17,123.46 1096.98,122.11 1098.8,120.77 1100.62,119.45 1102.43,118.14 1104.25,116.85 1106.07,115.57 1107.88,114.31 1109.7,113.06 1111.52,111.83 1113.33,110.62 1115.15,109.42 1116.97,108.23 1118.78,107.07 1120.6,105.92 1122.42,104.79 1124.23,103.68 1126.05,102.58 1127.87,101.5 1129.68,100.44 1131.5,99.4 1133.32,98.38 1135.13,97.38 1136.95,96.4 1138.77,95.43 1140.58,94.49 1142.4,93.56 1144.22,92.66 1146.03,91.77 1147.85,90.91 1149.67,90.06 1151.48,89.24 1153.3,88.44 1155.12,87.65 1156.93,86.89 1158.75,86.15 1160.57,85.43 1162.38,84.73 1164.2,84.06 1166.02,83.4 1167.83,82.77 1169.65,82.16 1171.47,81.57 1173.28,81 1175.1,80.45 1176.92,79.93 1178.73,79.43 1180.55,78.94 1182.37,78.49 1184.18,78.05 1186,77.64 1187.82,77.24 1189.63,76.87 1191.45,76.53 1193.27,76.2 1195.08,75.9 1196.9,75.62 1198.72,75.36 1200.53,75.12 1202.35,74.91 1204.17,74.72 1205.98,74.55 1207.8,74.4 1209.62,74.28 1211.43,74.18 1213.25,74.1 1215.07,74.04 1216.88,74.01 1218.7,74" fill="none" stroke="#ee4630" stroke-width="2.8" stroke-linecap="square" stroke-linejoin="round"/>
<polyline points="782.7,80.6 784.52,80.61 786.33,80.64 788.15,80.7 789.97,80.77 791.78,80.87 793.6,80.98 795.42,81.12 797.23,81.28 799.05,81.47 800.87,81.67 802.68,81.89 804.5,82.14 806.32,82.41 808.13,82.7 809.95,83.01 811.77,83.34 813.58,83.7 815.4,84.07 817.22,84.47 819.03,84.89 820.85,85.34 822.67,85.8 824.48,86.28 826.3,86.79 828.12,87.32 829.93,87.87 831.75,88.45 833.57,89.04 835.38,89.66 837.2,90.3 839.02,90.96 840.83,91.64 842.65,92.35 844.47,93.08 846.28,93.82 848.1,94.59 849.92,95.38 851.73,96.2 853.55,97.03 855.37,97.88 857.18,98.76 859,99.65 860.82,100.57 862.63,101.51 864.45,102.46 866.27,103.44 868.08,104.43 869.9,105.45 871.72,106.48 873.53,107.54 875.35,108.61 877.17,109.7 878.98,110.8 880.8,111.93 882.62,113.07 884.43,114.23 886.25,115.4 888.07,116.59 889.88,117.8 891.7,119.02 893.52,120.26 895.33,121.51 897.15,122.77 898.97,124.05 900.78,125.34 902.6,126.64 904.42,127.96 906.23,129.29 908.05,130.63 909.87,131.98 911.68,133.34 913.5,134.71 915.32,136.08 917.13,137.47 918.95,138.87 920.77,140.27 922.58,141.69 924.4,143.11 926.22,144.53 928.03,145.96 929.85,147.4 931.67,148.85 933.48,150.3 935.3,151.75 937.12,153.21 938.93,154.67 940.75,156.14 942.57,157.61 944.38,159.08 946.2,160.56 948.02,162.03 949.83,163.51 951.65,165 953.47,166.48 955.28,167.96 957.1,169.45 958.92,170.94 960.73,172.43 962.55,173.92 964.37,175.41 966.18,176.9 968,178.39 969.82,179.88 971.63,181.37 973.45,182.86 975.27,184.35 977.08,185.84 978.9,187.33 980.72,188.82 982.53,190.31 984.35,191.8 986.17,193.29 987.98,194.78 989.8,196.27 991.62,197.76 993.43,199.25 995.25,200.73 997.07,202.22 998.88,203.71 1000.7,205.2 1002.52,203.71 1004.33,202.22 1006.15,200.73 1007.97,199.25 1009.78,197.76 1011.6,196.27 1013.42,194.78 1015.23,193.29 1017.05,191.8 1018.87,190.31 1020.68,188.82 1022.5,187.33 1024.32,185.84 1026.13,184.35 1027.95,182.86 1029.77,181.37 1031.58,179.88 1033.4,178.39 1035.22,176.9 1037.03,175.41 1038.85,173.92 1040.67,172.43 1042.48,170.94 1044.3,169.45 1046.12,167.96 1047.93,166.48 1049.75,165 1051.57,163.51 1053.38,162.03 1055.2,160.56 1057.02,159.08 1058.83,157.61 1060.65,156.14 1062.47,154.67 1064.28,153.21 1066.1,151.75 1067.92,150.3 1069.73,148.85 1071.55,147.4 1073.37,145.96 1075.18,144.53 1077,143.11 1078.82,141.69 1080.63,140.27 1082.45,138.87 1084.27,137.47 1086.08,136.08 1087.9,134.71 1089.72,133.34 1091.53,131.98 1093.35,130.63 1095.17,129.29 1096.98,127.96 1098.8,126.64 1100.62,125.34 1102.43,124.05 1104.25,122.77 1106.07,121.51 1107.88,120.26 1109.7,119.02 1111.52,117.8 1113.33,116.59 1115.15,115.4 1116.97,114.23 1118.78,113.07 1120.6,111.93 1122.42,110.8 1124.23,109.7 1126.05,108.61 1127.87,107.54 1129.68,106.48 1131.5,105.45 1133.32,104.43 1135.13,103.44 1136.95,102.46 1138.77,101.51 1140.58,100.57 1142.4,99.65 1144.22,98.76 1146.03,97.88 1147.85,97.03 1149.67,96.2 1151.48,95.38 1153.3,94.59 1155.12,93.82 1156.93,93.08 1158.75,92.35 1160.57,91.64 1162.38,90.96 1164.2,90.3 1166.02,89.66 1167.83,89.04 1169.65,88.45 1171.47,87.87 1173.28,87.32 1175.1,86.79 1176.92,86.28 1178.73,85.8 1180.55,85.34 1182.37,84.89 1184.18,84.47 1186,84.07 1187.82,83.7 1189.63,83.34 1191.45,83.01 1193.27,82.7 1195.08,82.41 1196.9,82.14 1198.72,81.89 1200.53,81.67 1202.35,81.47 1204.17,81.28 1205.98,81.12 1207.8,80.98 1209.62,80.87 1211.43,80.77 1213.25,80.7 1215.07,80.64 1216.88,80.61 1218.7,80.6" fill="none" stroke="#ee4630" stroke-width="2.8" stroke-linecap="square" stroke-linejoin="round"/>
<polyline points="782.7,88.4 784.52,88.41 786.33,88.44 788.15,88.49 789.97,88.56 791.78,88.65 793.6,88.76 795.42,88.89 797.23,89.04 799.05,89.21 800.87,89.41 802.68,89.62 804.5,89.85 806.32,90.1 808.13,90.38 809.95,90.67 811.77,90.99 813.58,91.33 815.4,91.69 817.22,92.07 819.03,92.47 820.85,92.89 822.67,93.34 824.48,93.81 826.3,94.3 828.12,94.81 829.93,95.34 831.75,95.9 833.57,96.48 835.38,97.08 837.2,97.7 839.02,98.35 840.83,99.02 842.65,99.71 844.47,100.42 846.28,101.16 848.1,101.92 849.92,102.7 851.73,103.5 853.55,104.33 855.37,105.18 857.18,106.05 859,106.94 860.82,107.85 862.63,108.78 864.45,109.74 866.27,110.71 868.08,111.71 869.9,112.72 871.72,113.75 873.53,114.81 875.35,115.88 877.17,116.97 878.98,118.08 880.8,119.2 882.62,120.35 884.43,121.51 886.25,122.68 888.07,123.87 889.88,125.08 891.7,126.29 893.52,127.53 895.33,128.77 897.15,130.03 898.97,131.3 900.78,132.58 902.6,133.87 904.42,135.17 906.23,136.48 908.05,137.8 909.87,139.12 911.68,140.46 913.5,141.8 915.32,143.14 917.13,144.49 918.95,145.84 920.77,147.2 922.58,148.56 924.4,149.93 926.22,151.3 928.03,152.66 929.85,154.03 931.67,155.4 933.48,156.77 935.3,158.14 937.12,159.51 938.93,160.87 940.75,162.24 942.57,163.6 944.38,164.96 946.2,166.31 948.02,167.67 949.83,169.02 951.65,170.36 953.47,171.71 955.28,173.04 957.1,174.38 958.92,175.71 960.73,177.03 962.55,178.35 964.37,179.67 966.18,180.98 968,182.28 969.82,183.59 971.63,184.88 973.45,186.18 975.27,187.47 977.08,188.75 978.9,190.03 980.72,191.31 982.53,192.58 984.35,193.85 986.17,195.12 987.98,196.39 989.8,197.65 991.62,198.91 993.43,200.17 995.25,201.43 997.07,202.69 998.88,203.94 1000.7,205.2 1002.52,203.94 1004.33,202.69 1006.15,201.43 1007.97,200.17 1009.78,198.91 1011.6,197.65 1013.42,196.39 1015.23,195.12 1017.05,193.85 1018.87,192.58 1020.68,191.31 1022.5,190.03 1024.32,188.75 1026.13,187.47 1027.95,186.18 1029.77,184.88 1031.58,183.59 1033.4,182.28 1035.22,180.98 1037.03,179.67 1038.85,178.35 1040.67,177.03 1042.48,175.71 1044.3,174.38 1046.12,173.04 1047.93,171.71 1049.75,170.36 1051.57,169.02 1053.38,167.67 1055.2,166.31 1057.02,164.96 1058.83,163.6 1060.65,162.24 1062.47,160.87 1064.28,159.51 1066.1,158.14 1067.92,156.77 1069.73,155.4 1071.55,154.03 1073.37,152.66 1075.18,151.3 1077,149.93 1078.82,148.56 1080.63,147.2 1082.45,145.84 1084.27,144.49 1086.08,143.14 1087.9,141.8 1089.72,140.46 1091.53,139.12 1093.35,137.8 1095.17,136.48 1096.98,135.17 1098.8,133.87 1100.62,132.58 1102.43,131.3 1104.25,130.03 1106.07,128.77 1107.88,127.53 1109.7,126.29 1111.52,125.08 1113.33,123.87 1115.15,122.68 1116.97,121.51 1118.78,120.35 1120.6,119.2 1122.42,118.08 1124.23,116.97 1126.05,115.88 1127.87,114.81 1129.68,113.75 1131.5,112.72 1133.32,111.71 1135.13,110.71 1136.95,109.74 1138.77,108.78 1140.58,107.85 1142.4,106.94 1144.22,106.05 1146.03,105.18 1147.85,104.33 1149.67,103.5 1151.48,102.7 1153.3,101.92 1155.12,101.16 1156.93,100.42 1158.75,99.71 1160.57,99.02 1162.38,98.35 1164.2,97.7 1166.02,97.08 1167.83,96.48 1169.65,95.9 1171.47,95.34 1173.28,94.81 1175.1,94.3 1176.92,93.81 1178.73,93.34 1180.55,92.89 1182.37,92.47 1184.18,92.07 1186,91.69 1187.82,91.33 1189.63,90.99 1191.45,90.67 1193.27,90.38 1195.08,90.1 1196.9,89.85 1198.72,89.62 1200.53,89.41 1202.35,89.21 1204.17,89.04 1205.98,88.89 1207.8,88.76 1209.62,88.65 1211.43,88.56 1213.25,88.49 1215.07,88.44 1216.88,88.41 1218.7,88.4" fill="none" stroke="#ee4630" stroke-width="2.8" stroke-linecap="square" stroke-linejoin="round"/>
<polyline points="782.7,99.3 784.52,99.31 786.33,99.34 788.15,99.38 789.97,99.45 791.78,99.53 793.6,99.63 795.42,99.75 797.23,99.88 799.05,100.04 800.87,100.22 802.68,100.41 804.5,100.62 806.32,100.86 808.13,101.11 809.95,101.38 811.77,101.67 813.58,101.99 815.4,102.32 817.22,102.68 819.03,103.05 820.85,103.45 822.67,103.87 824.48,104.31 826.3,104.77 828.12,105.25 829.93,105.76 831.75,106.29 833.57,106.84 835.38,107.42 837.2,108.02 839.02,108.64 840.83,109.28 842.65,109.95 844.47,110.64 846.28,111.35 848.1,112.09 849.92,112.85 851.73,113.64 853.55,114.45 855.37,115.28 857.18,116.13 859,117 860.82,117.9 862.63,118.82 864.45,119.76 866.27,120.73 868.08,121.71 869.9,122.71 871.72,123.74 873.53,124.78 875.35,125.85 877.17,126.93 878.98,128.03 880.8,129.14 882.62,130.27 884.43,131.42 886.25,132.58 888.07,133.76 889.88,134.95 891.7,136.16 893.52,137.37 895.33,138.6 897.15,139.83 898.97,141.08 900.78,142.33 902.6,143.6 904.42,144.86 906.23,146.14 908.05,147.42 909.87,148.7 911.68,149.98 913.5,151.27 915.32,152.56 917.13,153.85 918.95,155.14 920.77,156.42 922.58,157.71 924.4,158.99 926.22,160.27 928.03,161.54 929.85,162.81 931.67,164.07 933.48,165.33 935.3,166.57 937.12,167.81 938.93,169.05 940.75,170.27 942.57,171.48 944.38,172.69 946.2,173.88 948.02,175.07 949.83,176.24 951.65,177.4 953.47,178.56 955.28,179.7 957.1,180.83 958.92,181.94 960.73,183.05 962.55,184.15 964.37,185.23 966.18,186.31 968,187.37 969.82,188.43 971.63,189.47 973.45,190.5 975.27,191.53 977.08,192.54 978.9,193.55 980.72,194.55 982.53,195.54 984.35,196.53 986.17,197.51 987.98,198.48 989.8,199.45 991.62,200.42 993.43,201.38 995.25,202.34 997.07,203.29 998.88,204.25 1000.7,205.2 1002.52,204.25 1004.33,203.29 1006.15,202.34 1007.97,201.38 1009.78,200.42 1011.6,199.45 1013.42,198.48 1015.23,197.51 1017.05,196.53 1018.87,195.54 1020.68,194.55 1022.5,193.55 1024.32,192.54 1026.13,191.53 1027.95,190.5 1029.77,189.47 1031.58,188.43 1033.4,187.37 1035.22,186.31 1037.03,185.23 1038.85,184.15 1040.67,183.05 1042.48,181.94 1044.3,180.83 1046.12,179.7 1047.93,178.56 1049.75,177.4 1051.57,176.24 1053.38,175.07 1055.2,173.88 1057.02,172.69 1058.83,171.48 1060.65,170.27 1062.47,169.05 1064.28,167.81 1066.1,166.57 1067.92,165.33 1069.73,164.07 1071.55,162.81 1073.37,161.54 1075.18,160.27 1077,158.99 1078.82,157.71 1080.63,156.42 1082.45,155.14 1084.27,153.85 1086.08,152.56 1087.9,151.27 1089.72,149.98 1091.53,148.7 1093.35,147.42 1095.17,146.14 1096.98,144.86 1098.8,143.6 1100.62,142.33 1102.43,141.08 1104.25,139.83 1106.07,138.6 1107.88,137.37 1109.7,136.16 1111.52,134.95 1113.33,133.76 1115.15,132.58 1116.97,131.42 1118.78,130.27 1120.6,129.14 1122.42,128.03 1124.23,126.93 1126.05,125.85 1127.87,124.78 1129.68,123.74 1131.5,122.71 1133.32,121.71 1135.13,120.73 1136.95,119.76 1138.77,118.82 1140.58,117.9 1142.4,117 1144.22,116.13 1146.03,115.28 1147.85,114.45 1149.67,113.64 1151.48,112.85 1153.3,112.09 1155.12,111.35 1156.93,110.64 1158.75,109.95 1160.57,109.28 1162.38,108.64 1164.2,108.02 1166.02,107.42 1167.83,106.84 1169.65,106.29 1171.47,105.76 1173.28,105.25 1175.1,104.77 1176.92,104.31 1178.73,103.87 1180.55,103.45 1182.37,103.05 1184.18,102.68 1186,102.32 1187.82,101.99 1189.63,101.67 1191.45,101.38 1193.27,101.11 1195.08,100.86 1196.9,100.62 1198.72,100.41 1200.53,100.22 1202.35,100.04 1204.17,99.88 1205.98,99.75 1207.8,99.63 1209.62,99.53 1211.43,99.45 1213.25,99.38 1215.07,99.34 1216.88,99.31 1218.7,99.3" fill="none" stroke="#ee4630" stroke-width="2.8" stroke-linecap="square" stroke-linejoin="round"/>
<polyline points="782.7,110.5 784.52,110.51 786.33,110.53 788.15,110.57 789.97,110.63 791.78,110.7 793.6,110.79 795.42,110.9 797.23,111.02 799.05,111.17 800.87,111.32 802.68,111.5 804.5,111.69 806.32,111.91 808.13,112.14 809.95,112.39 811.77,112.66 813.58,112.94 815.4,113.25 817.22,113.58 819.03,113.93 820.85,114.3 822.67,114.69 824.48,115.11 826.3,115.54 828.12,116 829.93,116.48 831.75,116.99 833.57,117.52 835.38,118.07 837.2,118.64 839.02,119.24 840.83,119.87 842.65,120.52 844.47,121.19 846.28,121.89 848.1,122.61 849.92,123.36 851.73,124.13 853.55,124.92 855.37,125.74 857.18,126.59 859,127.45 860.82,128.35 862.63,129.26 864.45,130.2 866.27,131.16 868.08,132.14 869.9,133.14 871.72,134.17 873.53,135.21 875.35,136.28 877.17,137.36 878.98,138.46 880.8,139.58 882.62,140.71 884.43,141.86 886.25,143.02 888.07,144.19 889.88,145.38 891.7,146.58 893.52,147.79 895.33,149.01 897.15,150.23 898.97,151.47 900.78,152.7 902.6,153.95 904.42,155.19 906.23,156.44 908.05,157.69 909.87,158.93 911.68,160.18 913.5,161.42 915.32,162.66 917.13,163.89 918.95,165.12 920.77,166.34 922.58,167.55 924.4,168.75 926.22,169.95 928.03,171.13 929.85,172.29 931.67,173.45 933.48,174.59 935.3,175.71 937.12,176.82 938.93,177.92 940.75,178.99 942.57,180.05 944.38,181.1 946.2,182.12 948.02,183.13 949.83,184.11 951.65,185.08 953.47,186.03 955.28,186.96 957.1,187.87 958.92,188.76 960.73,189.63 962.55,190.49 964.37,191.32 966.18,192.14 968,192.94 969.82,193.73 971.63,194.49 973.45,195.25 975.27,195.98 977.08,196.7 978.9,197.41 980.72,198.11 982.53,198.79 984.35,199.47 986.17,200.13 987.98,200.78 989.8,201.43 991.62,202.07 993.43,202.7 995.25,203.33 997.07,203.95 998.88,204.58 1000.7,205.2 1002.52,204.58 1004.33,203.95 1006.15,203.33 1007.97,202.7 1009.78,202.07 1011.6,201.43 1013.42,200.78 1015.23,200.13 1017.05,199.47 1018.87,198.79 1020.68,198.11 1022.5,197.41 1024.32,196.7 1026.13,195.98 1027.95,195.25 1029.77,194.49 1031.58,193.73 1033.4,192.94 1035.22,192.14 1037.03,191.32 1038.85,190.49 1040.67,189.63 1042.48,188.76 1044.3,187.87 1046.12,186.96 1047.93,186.03 1049.75,185.08 1051.57,184.11 1053.38,183.13 1055.2,182.12 1057.02,181.1 1058.83,180.05 1060.65,178.99 1062.47,177.92 1064.28,176.82 1066.1,175.71 1067.92,174.59 1069.73,173.45 1071.55,172.29 1073.37,171.13 1075.18,169.95 1077,168.75 1078.82,167.55 1080.63,166.34 1082.45,165.12 1084.27,163.89 1086.08,162.66 1087.9,161.42 1089.72,160.18 1091.53,158.93 1093.35,157.69 1095.17,156.44 1096.98,155.19 1098.8,153.95 1100.62,152.7 1102.43,151.47 1104.25,150.23 1106.07,149.01 1107.88,147.79 1109.7,146.58 1111.52,145.38 1113.33,144.19 1115.15,143.02 1116.97,141.86 1118.78,140.71 1120.6,139.58 1122.42,138.46 1124.23,137.36 1126.05,136.28 1127.87,135.21 1129.68,134.17 1131.5,133.14 1133.32,132.14 1135.13,131.16 1136.95,130.2 1138.77,129.26 1140.58,128.35 1142.4,127.45 1144.22,126.59 1146.03,125.74 1147.85,124.92 1149.67,124.13 1151.48,123.36 1153.3,122.61 1155.12,121.89 1156.93,121.19 1158.75,120.52 1160.57,119.87 1162.38,119.24 1164.2,118.64 1166.02,118.07 1167.83,117.52 1169.65,116.99 1171.47,116.48 1173.28,116 1175.1,115.54 1176.92,115.11 1178.73,114.69 1180.55,114.3 1182.37,113.93 1184.18,113.58 1186,113.25 1187.82,112.94 1189.63,112.66 1191.45,112.39 1193.27,112.14 1195.08,111.91 1196.9,111.69 1198.72,111.5 1200.53,111.32 1202.35,111.17 1204.17,111.02 1205.98,110.9 1207.8,110.79 1209.62,110.7 1211.43,110.63 1213.25,110.57 1215.07,110.53 1216.88,110.51 1218.7,110.5" fill="none" stroke="#ee4630" stroke-width="2.8" stroke-linecap="square" stroke-linejoin="round"/>
<polyline points="782.7,124.2 784.52,124.21 786.33,124.23 788.15,124.26 789.97,124.31 791.78,124.37 793.6,124.45 795.42,124.54 797.23,124.65 799.05,124.77 800.87,124.91 802.68,125.06 804.5,125.23 806.32,125.42 808.13,125.62 809.95,125.85 811.77,126.09 813.58,126.34 815.4,126.62 817.22,126.92 819.03,127.23 820.85,127.57 822.67,127.93 824.48,128.31 826.3,128.71 828.12,129.14 829.93,129.59 831.75,130.06 833.57,130.55 835.38,131.07 837.2,131.62 839.02,132.19 840.83,132.78 842.65,133.4 844.47,134.05 846.28,134.72 848.1,135.42 849.92,136.14 851.73,136.89 853.55,137.67 855.37,138.47 857.18,139.3 859,140.15 860.82,141.03 862.63,141.93 864.45,142.86 866.27,143.81 868.08,144.78 869.9,145.77 871.72,146.79 873.53,147.82 875.35,148.88 877.17,149.95 878.98,151.05 880.8,152.16 882.62,153.28 884.43,154.42 886.25,155.57 888.07,156.74 889.88,157.91 891.7,159.1 893.52,160.29 895.33,161.49 897.15,162.69 898.97,163.9 900.78,165.11 902.6,166.32 904.42,167.52 906.23,168.73 908.05,169.93 909.87,171.13 911.68,172.32 913.5,173.5 915.32,174.67 917.13,175.83 918.95,176.98 920.77,178.11 922.58,179.23 924.4,180.33 926.22,181.41 928.03,182.47 929.85,183.51 931.67,184.54 933.48,185.53 935.3,186.51 937.12,187.46 938.93,188.38 940.75,189.28 942.57,190.16 944.38,191 946.2,191.82 948.02,192.61 949.83,193.37 951.65,194.11 953.47,194.82 955.28,195.5 957.1,196.15 958.92,196.77 960.73,197.36 962.55,197.93 964.37,198.47 966.18,198.99 968,199.48 969.82,199.94 971.63,200.39 973.45,200.81 975.27,201.2 977.08,201.58 978.9,201.94 980.72,202.28 982.53,202.6 984.35,202.9 986.17,203.2 987.98,203.47 989.8,203.74 991.62,204 993.43,204.25 995.25,204.49 997.07,204.73 998.88,204.97 1000.7,205.2 1002.52,204.97 1004.33,204.73 1006.15,204.49 1007.97,204.25 1009.78,204 1011.6,203.74 1013.42,203.47 1015.23,203.2 1017.05,202.9 1018.87,202.6 1020.68,202.28 1022.5,201.94 1024.32,201.58 1026.13,201.2 1027.95,200.81 1029.77,200.39 1031.58,199.94 1033.4,199.48 1035.22,198.99 1037.03,198.47 1038.85,197.93 1040.67,197.36 1042.48,196.77 1044.3,196.15 1046.12,195.5 1047.93,194.82 1049.75,194.11 1051.57,193.37 1053.38,192.61 1055.2,191.82 1057.02,191 1058.83,190.16 1060.65,189.28 1062.47,188.38 1064.28,187.46 1066.1,186.51 1067.92,185.53 1069.73,184.54 1071.55,183.51 1073.37,182.47 1075.18,181.41 1077,180.33 1078.82,179.23 1080.63,178.11 1082.45,176.98 1084.27,175.83 1086.08,174.67 1087.9,173.5 1089.72,172.32 1091.53,171.13 1093.35,169.93 1095.17,168.73 1096.98,167.52 1098.8,166.32 1100.62,165.11 1102.43,163.9 1104.25,162.69 1106.07,161.49 1107.88,160.29 1109.7,159.1 1111.52,157.91 1113.33,156.74 1115.15,155.57 1116.97,154.42 1118.78,153.28 1120.6,152.16 1122.42,151.05 1124.23,149.95 1126.05,148.88 1127.87,147.82 1129.68,146.79 1131.5,145.77 1133.32,144.78 1135.13,143.81 1136.95,142.86 1138.77,141.93 1140.58,141.03 1142.4,140.15 1144.22,139.3 1146.03,138.47 1147.85,137.67 1149.67,136.89 1151.48,136.14 1153.3,135.42 1155.12,134.72 1156.93,134.05 1158.75,133.4 1160.57,132.78 1162.38,132.19 1164.2,131.62 1166.02,131.07 1167.83,130.55 1169.65,130.06 1171.47,129.59 1173.28,129.14 1175.1,128.71 1176.92,128.31 1178.73,127.93 1180.55,127.57 1182.37,127.23 1184.18,126.92 1186,126.62 1187.82,126.34 1189.63,126.09 1191.45,125.85 1193.27,125.62 1195.08,125.42 1196.9,125.23 1198.72,125.06 1200.53,124.91 1202.35,124.77 1204.17,124.65 1205.98,124.54 1207.8,124.45 1209.62,124.37 1211.43,124.31 1213.25,124.26 1215.07,124.23 1216.88,124.21 1218.7,124.2" fill="none" stroke="#ee4630" stroke-width="2.8" stroke-linecap="square" stroke-linejoin="round"/>
<polyline points="782.7,138.2 784.52,138.21 786.33,138.22 788.15,138.25 789.97,138.29 791.78,138.34 793.6,138.41 795.42,138.49 797.23,138.58 799.05,138.68 800.87,138.8 802.68,138.93 804.5,139.07 806.32,139.23 808.13,139.41 809.95,139.6 811.77,139.81 813.58,140.04 815.4,140.28 817.22,140.55 819.03,140.83 820.85,141.14 822.67,141.46 824.48,141.81 826.3,142.18 828.12,142.57 829.93,142.99 831.75,143.43 833.57,143.9 835.38,144.39 837.2,144.9 839.02,145.45 840.83,146.01 842.65,146.61 844.47,147.23 846.28,147.88 848.1,148.56 849.92,149.27 851.73,150 853.55,150.76 855.37,151.55 857.18,152.37 859,153.21 860.82,154.08 862.63,154.98 864.45,155.9 866.27,156.84 868.08,157.81 869.9,158.81 871.72,159.82 873.53,160.86 875.35,161.91 877.17,162.99 878.98,164.08 880.8,165.19 882.62,166.32 884.43,167.46 886.25,168.61 888.07,169.77 889.88,170.94 891.7,172.12 893.52,173.3 895.33,174.49 897.15,175.68 898.97,176.87 900.78,178.06 902.6,179.25 904.42,180.43 906.23,181.6 908.05,182.76 909.87,183.92 911.68,185.06 913.5,186.18 915.32,187.29 917.13,188.38 918.95,189.45 920.77,190.5 922.58,191.52 924.4,192.52 926.22,193.5 928.03,194.44 929.85,195.36 931.67,196.25 933.48,197.1 935.3,197.92 937.12,198.71 938.93,199.46 940.75,200.18 942.57,200.86 944.38,201.5 946.2,202.11 948.02,202.67 949.83,203.2 951.65,203.7 953.47,204.15 955.28,204.56 957.1,204.94 958.92,205.28 960.73,205.58 962.55,205.85 964.37,206.08 966.18,206.27 968,206.44 969.82,206.56 971.63,206.66 973.45,206.73 975.27,206.76 977.08,206.77 978.9,206.76 980.72,206.72 982.53,206.65 984.35,206.57 986.17,206.47 987.98,206.35 989.8,206.21 991.62,206.06 993.43,205.9 995.25,205.73 997.07,205.56 998.88,205.38 1000.7,205.2 1002.52,205.38 1004.33,205.56 1006.15,205.73 1007.97,205.9 1009.78,206.06 1011.6,206.21 1013.42,206.35 1015.23,206.47 1017.05,206.57 1018.87,206.65 1020.68,206.72 1022.5,206.76 1024.32,206.77 1026.13,206.76 1027.95,206.73 1029.77,206.66 1031.58,206.56 1033.4,206.44 1035.22,206.27 1037.03,206.08 1038.85,205.85 1040.67,205.58 1042.48,205.28 1044.3,204.94 1046.12,204.56 1047.93,204.15 1049.75,203.7 1051.57,203.2 1053.38,202.67 1055.2,202.11 1057.02,201.5 1058.83,200.86 1060.65,200.18 1062.47,199.46 1064.28,198.71 1066.1,197.92 1067.92,197.1 1069.73,196.25 1071.55,195.36 1073.37,194.44 1075.18,193.5 1077,192.52 1078.82,191.52 1080.63,190.5 1082.45,189.45 1084.27,188.38 1086.08,187.29 1087.9,186.18 1089.72,185.06 1091.53,183.92 1093.35,182.76 1095.17,181.6 1096.98,180.43 1098.8,179.25 1100.62,178.06 1102.43,176.87 1104.25,175.68 1106.07,174.49 1107.88,173.3 1109.7,172.12 1111.52,170.94 1113.33,169.77 1115.15,168.61 1116.97,167.46 1118.78,166.32 1120.6,165.19 1122.42,164.08 1124.23,162.99 1126.05,161.91 1127.87,160.86 1129.68,159.82 1131.5,158.81 1133.32,157.81 1135.13,156.84 1136.95,155.9 1138.77,154.98 1140.58,154.08 1142.4,153.21 1144.22,152.37 1146.03,151.55 1147.85,150.76 1149.67,150 1151.48,149.27 1153.3,148.56 1155.12,147.88 1156.93,147.23 1158.75,146.61 1160.57,146.01 1162.38,145.45 1164.2,144.9 1166.02,144.39 1167.83,143.9 1169.65,143.43 1171.47,142.99 1173.28,142.57 1175.1,142.18 1176.92,141.81 1178.73,141.46 1180.55,141.14 1182.37,140.83 1184.18,140.55 1186,140.28 1187.82,140.04 1189.63,139.81 1191.45,139.6 1193.27,139.41 1195.08,139.23 1196.9,139.07 1198.72,138.93 1200.53,138.8 1202.35,138.68 1204.17,138.58 1205.98,138.49 1207.8,138.41 1209.62,138.34 1211.43,138.29 1213.25,138.25 1215.07,138.22 1216.88,138.21 1218.7,138.2" fill="none" stroke="#ee4630" stroke-width="2.8" stroke-linecap="square" stroke-linejoin="round"/>
<polyline points="782.7,153.4 784.52,153.4 786.33,153.42 788.15,153.44 789.97,153.47 791.78,153.51 793.6,153.56 795.42,153.62 797.23,153.7 799.05,153.78 800.87,153.87 802.68,153.98 804.5,154.1 806.32,154.23 808.13,154.38 809.95,154.54 811.77,154.71 813.58,154.91 815.4,155.12 817.22,155.35 819.03,155.6 820.85,155.87 822.67,156.16 824.48,156.47 826.3,156.8 828.12,157.16 829.93,157.54 831.75,157.95 833.57,158.38 835.38,158.84 837.2,159.33 839.02,159.84 840.83,160.38 842.65,160.95 844.47,161.55 846.28,162.18 848.1,162.84 849.92,163.52 851.73,164.24 853.55,164.98 855.37,165.76 857.18,166.56 859,167.4 860.82,168.26 862.63,169.15 864.45,170.06 866.27,171 868.08,171.97 869.9,172.96 871.72,173.98 873.53,175.01 875.35,176.07 877.17,177.15 878.98,178.24 880.8,179.36 882.62,180.48 884.43,181.62 886.25,182.77 888.07,183.93 889.88,185.1 891.7,186.27 893.52,187.45 895.33,188.63 897.15,189.8 898.97,190.97 900.78,192.14 902.6,193.3 904.42,194.45 906.23,195.59 908.05,196.71 909.87,197.81 911.68,198.9 913.5,199.97 915.32,201.01 917.13,202.02 918.95,203.01 920.77,203.97 922.58,204.89 924.4,205.79 926.22,206.64 928.03,207.46 929.85,208.24 931.67,208.98 933.48,209.68 935.3,210.33 937.12,210.94 938.93,211.51 940.75,212.03 942.57,212.5 944.38,212.92 946.2,213.29 948.02,213.62 949.83,213.89 951.65,214.12 953.47,214.3 955.28,214.43 957.1,214.51 958.92,214.54 960.73,214.52 962.55,214.46 964.37,214.35 966.18,214.2 968,214 969.82,213.77 971.63,213.49 973.45,213.17 975.27,212.82 977.08,212.43 978.9,212 980.72,211.55 982.53,211.07 984.35,210.56 986.17,210.02 987.98,209.47 989.8,208.9 991.62,208.31 993.43,207.7 995.25,207.09 997.07,206.46 998.88,205.83 1000.7,205.2 1002.52,205.83 1004.33,206.46 1006.15,207.09 1007.97,207.7 1009.78,208.31 1011.6,208.9 1013.42,209.47 1015.23,210.02 1017.05,210.56 1018.87,211.07 1020.68,211.55 1022.5,212 1024.32,212.43 1026.13,212.82 1027.95,213.17 1029.77,213.49 1031.58,213.77 1033.4,214 1035.22,214.2 1037.03,214.35 1038.85,214.46 1040.67,214.52 1042.48,214.54 1044.3,214.51 1046.12,214.43 1047.93,214.3 1049.75,214.12 1051.57,213.89 1053.38,213.62 1055.2,213.29 1057.02,212.92 1058.83,212.5 1060.65,212.03 1062.47,211.51 1064.28,210.94 1066.1,210.33 1067.92,209.68 1069.73,208.98 1071.55,208.24 1073.37,207.46 1075.18,206.64 1077,205.79 1078.82,204.89 1080.63,203.97 1082.45,203.01 1084.27,202.02 1086.08,201.01 1087.9,199.97 1089.72,198.9 1091.53,197.81 1093.35,196.71 1095.17,195.59 1096.98,194.45 1098.8,193.3 1100.62,192.14 1102.43,190.97 1104.25,189.8 1106.07,188.63 1107.88,187.45 1109.7,186.27 1111.52,185.1 1113.33,183.93 1115.15,182.77 1116.97,181.62 1118.78,180.48 1120.6,179.36 1122.42,178.24 1124.23,177.15 1126.05,176.07 1127.87,175.01 1129.68,173.98 1131.5,172.96 1133.32,171.97 1135.13,171 1136.95,170.06 1138.77,169.15 1140.58,168.26 1142.4,167.4 1144.22,166.56 1146.03,165.76 1147.85,164.98 1149.67,164.24 1151.48,163.52 1153.3,162.84 1155.12,162.18 1156.93,161.55 1158.75,160.95 1160.57,160.38 1162.38,159.84 1164.2,159.33 1166.02,158.84 1167.83,158.38 1169.65,157.95 1171.47,157.54 1173.28,157.16 1175.1,156.8 1176.92,156.47 1178.73,156.16 1180.55,155.87 1182.37,155.6 1184.18,155.35 1186,155.12 1187.82,154.91 1189.63,154.71 1191.45,154.54 1193.27,154.38 1195.08,154.23 1196.9,154.1 1198.72,153.98 1200.53,153.87 1202.35,153.78 1204.17,153.7 1205.98,153.62 1207.8,153.56 1209.62,153.51 1211.43,153.47 1213.25,153.44 1215.07,153.42 1216.88,153.4 1218.7,153.4" fill="none" stroke="#ee4630" stroke-width="2.8" stroke-linecap="square" stroke-linejoin="round"/>
<polyline points="782.7,168.6 784.52,168.6 786.33,168.61 788.15,168.63 789.97,168.65 791.78,168.68 793.6,168.72 795.42,168.76 797.23,168.81 799.05,168.88 800.87,168.95 802.68,169.03 804.5,169.12 806.32,169.23 808.13,169.34 809.95,169.48 811.77,169.62 813.58,169.78 815.4,169.96 817.22,170.16 819.03,170.37 820.85,170.61 822.67,170.86 824.48,171.14 826.3,171.44 828.12,171.76 829.93,172.11 831.75,172.49 833.57,172.89 835.38,173.32 837.2,173.78 839.02,174.27 840.83,174.79 842.65,175.33 844.47,175.91 846.28,176.52 848.1,177.17 849.92,177.84 851.73,178.54 853.55,179.28 855.37,180.05 857.18,180.85 859,181.68 860.82,182.54 862.63,183.43 864.45,184.34 866.27,185.29 868.08,186.27 869.9,187.26 871.72,188.29 873.53,189.34 875.35,190.4 877.17,191.49 878.98,192.6 880.8,193.72 882.62,194.86 884.43,196.01 886.25,197.17 888.07,198.34 889.88,199.51 891.7,200.69 893.52,201.87 895.33,203.05 897.15,204.22 898.97,205.38 900.78,206.54 902.6,207.68 904.42,208.81 906.23,209.92 908.05,211.01 909.87,212.07 911.68,213.12 913.5,214.13 915.32,215.11 917.13,216.06 918.95,216.97 920.77,217.84 922.58,218.67 924.4,219.46 926.22,220.21 928.03,220.9 929.85,221.55 931.67,222.14 933.48,222.69 935.3,223.18 937.12,223.61 938.93,223.99 940.75,224.3 942.57,224.56 944.38,224.76 946.2,224.9 948.02,224.98 949.83,224.99 951.65,224.95 953.47,224.85 955.28,224.68 957.1,224.45 958.92,224.17 960.73,223.83 962.55,223.42 964.37,222.97 966.18,222.45 968,221.89 969.82,221.27 971.63,220.6 973.45,219.88 975.27,219.12 977.08,218.32 978.9,217.47 980.72,216.59 982.53,215.67 984.35,214.72 986.17,213.74 987.98,212.73 989.8,211.7 991.62,210.65 993.43,209.58 995.25,208.49 997.07,207.4 998.88,206.3 1000.7,205.2 1002.52,206.3 1004.33,207.4 1006.15,208.49 1007.97,209.58 1009.78,210.65 1011.6,211.7 1013.42,212.73 1015.23,213.74 1017.05,214.72 1018.87,215.67 1020.68,216.59 1022.5,217.47 1024.32,218.32 1026.13,219.12 1027.95,219.88 1029.77,220.6 1031.58,221.27 1033.4,221.89 1035.22,222.45 1037.03,222.97 1038.85,223.42 1040.67,223.83 1042.48,224.17 1044.3,224.45 1046.12,224.68 1047.93,224.85 1049.75,224.95 1051.57,224.99 1053.38,224.98 1055.2,224.9 1057.02,224.76 1058.83,224.56 1060.65,224.3 1062.47,223.99 1064.28,223.61 1066.1,223.18 1067.92,222.69 1069.73,222.14 1071.55,221.55 1073.37,220.9 1075.18,220.21 1077,219.46 1078.82,218.67 1080.63,217.84 1082.45,216.97 1084.27,216.06 1086.08,215.11 1087.9,214.13 1089.72,213.12 1091.53,212.07 1093.35,211.01 1095.17,209.92 1096.98,208.81 1098.8,207.68 1100.62,206.54 1102.43,205.38 1104.25,204.22 1106.07,203.05 1107.88,201.87 1109.7,200.69 1111.52,199.51 1113.33,198.34 1115.15,197.17 1116.97,196.01 1118.78,194.86 1120.6,193.72 1122.42,192.6 1124.23,191.49 1126.05,190.4 1127.87,189.34 1129.68,188.29 1131.5,187.26 1133.32,186.27 1135.13,185.29 1136.95,184.34 1138.77,183.43 1140.58,182.54 1142.4,181.68 1144.22,180.85 1146.03,180.05 1147.85,179.28 1149.67,178.54 1151.48,177.84 1153.3,177.17 1155.12,176.52 1156.93,175.91 1158.75,175.33 1160.57,174.79 1162.38,174.27 1164.2,173.78 1166.02,173.32 1167.83,172.89 1169.65,172.49 1171.47,172.11 1173.28,171.76 1175.1,171.44 1176.92,171.14 1178.73,170.86 1180.55,170.61 1182.37,170.37 1184.18,170.16 1186,169.96 1187.82,169.78 1189.63,169.62 1191.45,169.48 1193.27,169.34 1195.08,169.23 1196.9,169.12 1198.72,169.03 1200.53,168.95 1202.35,168.88 1204.17,168.81 1205.98,168.76 1207.8,168.72 1209.62,168.68 1211.43,168.65 1213.25,168.63 1215.07,168.61 1216.88,168.6 1218.7,168.6" fill="none" stroke="#ee4630" stroke-width="2.8" stroke-linecap="square" stroke-linejoin="round"/>
<polyline points="782.7,182.4 784.52,182.4 786.33,182.41 788.15,182.42 789.97,182.43 791.78,182.45 793.6,182.48 795.42,182.51 797.23,182.54 799.05,182.59 800.87,182.64 802.68,182.7 804.5,182.77 806.32,182.85 808.13,182.94 809.95,183.04 811.77,183.16 813.58,183.29 815.4,183.44 817.22,183.61 819.03,183.8 820.85,184 822.67,184.23 824.48,184.48 826.3,184.76 828.12,185.06 829.93,185.38 831.75,185.74 833.57,186.12 835.38,186.53 837.2,186.97 839.02,187.44 840.83,187.95 842.65,188.49 844.47,189.06 846.28,189.66 848.1,190.3 849.92,190.97 851.73,191.68 853.55,192.42 855.37,193.2 857.18,194.01 859,194.85 860.82,195.73 862.63,196.64 864.45,197.58 866.27,198.55 868.08,199.55 869.9,200.57 871.72,201.63 873.53,202.7 875.35,203.8 877.17,204.92 878.98,206.06 880.8,207.22 882.62,208.39 884.43,209.57 886.25,210.77 888.07,211.97 889.88,213.17 891.7,214.37 893.52,215.58 895.33,216.78 897.15,217.97 898.97,219.15 900.78,220.31 902.6,221.46 904.42,222.59 906.23,223.7 908.05,224.78 909.87,225.83 911.68,226.85 913.5,227.83 915.32,228.77 917.13,229.67 918.95,230.53 920.77,231.34 922.58,232.1 924.4,232.8 926.22,233.45 928.03,234.05 929.85,234.58 931.67,235.05 933.48,235.45 935.3,235.79 937.12,236.07 938.93,236.27 940.75,236.4 942.57,236.46 944.38,236.45 946.2,236.37 948.02,236.21 949.83,235.98 951.65,235.68 953.47,235.3 955.28,234.85 957.1,234.33 958.92,233.74 960.73,233.07 962.55,232.34 964.37,231.54 966.18,230.67 968,229.74 969.82,228.75 971.63,227.69 973.45,226.58 975.27,225.42 977.08,224.2 978.9,222.94 980.72,221.62 982.53,220.27 984.35,218.88 986.17,217.45 987.98,215.99 989.8,214.5 991.62,212.99 993.43,211.45 995.25,209.91 997.07,208.34 998.88,206.77 1000.7,205.2 1002.52,206.77 1004.33,208.34 1006.15,209.91 1007.97,211.45 1009.78,212.99 1011.6,214.5 1013.42,215.99 1015.23,217.45 1017.05,218.88 1018.87,220.27 1020.68,221.62 1022.5,222.94 1024.32,224.2 1026.13,225.42 1027.95,226.58 1029.77,227.69 1031.58,228.75 1033.4,229.74 1035.22,230.67 1037.03,231.54 1038.85,232.34 1040.67,233.07 1042.48,233.74 1044.3,234.33 1046.12,234.85 1047.93,235.3 1049.75,235.68 1051.57,235.98 1053.38,236.21 1055.2,236.37 1057.02,236.45 1058.83,236.46 1060.65,236.4 1062.47,236.27 1064.28,236.07 1066.1,235.79 1067.92,235.45 1069.73,235.05 1071.55,234.58 1073.37,234.05 1075.18,233.45 1077,232.8 1078.82,232.1 1080.63,231.34 1082.45,230.53 1084.27,229.67 1086.08,228.77 1087.9,227.83 1089.72,226.85 1091.53,225.83 1093.35,224.78 1095.17,223.7 1096.98,222.59 1098.8,221.46 1100.62,220.31 1102.43,219.15 1104.25,217.97 1106.07,216.78 1107.88,215.58 1109.7,214.37 1111.52,213.17 1113.33,211.97 1115.15,210.77 1116.97,209.57 1118.78,208.39 1120.6,207.22 1122.42,206.06 1124.23,204.92 1126.05,203.8 1127.87,202.7 1129.68,201.63 1131.5,200.57 1133.32,199.55 1135.13,198.55 1136.95,197.58 1138.77,196.64 1140.58,195.73 1142.4,194.85 1144.22,194.01 1146.03,193.2 1147.85,192.42 1149.67,191.68 1151.48,190.97 1153.3,190.3 1155.12,189.66 1156.93,189.06 1158.75,188.49 1160.57,187.95 1162.38,187.44 1164.2,186.97 1166.02,186.53 1167.83,186.12 1169.65,185.74 1171.47,185.38 1173.28,185.06 1175.1,184.76 1176.92,184.48 1178.73,184.23 1180.55,184 1182.37,183.8 1184.18,183.61 1186,183.44 1187.82,183.29 1189.63,183.16 1191.45,183.04 1193.27,182.94 1195.08,182.85 1196.9,182.77 1198.72,182.7 1200.53,182.64 1202.35,182.59 1204.17,182.54 1205.98,182.51 1207.8,182.48 1209.62,182.45 1211.43,182.43 1213.25,182.42 1215.07,182.41 1216.88,182.4 1218.7,182.4" fill="none" stroke="#ee4630" stroke-width="2.8" stroke-linecap="square" stroke-linejoin="round"/>
<polyline points="782.7,194.5 784.52,194.5 786.33,194.5 788.15,194.51 789.97,194.52 791.78,194.53 793.6,194.54 795.42,194.56 797.23,194.58 799.05,194.61 800.87,194.64 802.68,194.68 804.5,194.73 806.32,194.79 808.13,194.86 809.95,194.94 811.77,195.04 813.58,195.15 815.4,195.28 817.22,195.42 819.03,195.59 820.85,195.77 822.67,195.98 824.48,196.21 826.3,196.47 828.12,196.75 829.93,197.06 831.75,197.41 833.57,197.78 835.38,198.18 837.2,198.62 839.02,199.09 840.83,199.59 842.65,200.13 844.47,200.71 846.28,201.32 848.1,201.97 849.92,202.66 851.73,203.39 853.55,204.15 855.37,204.95 857.18,205.79 859,206.67 860.82,207.58 862.63,208.53 864.45,209.51 866.27,210.52 868.08,211.56 869.9,212.64 871.72,213.74 873.53,214.87 875.35,216.02 877.17,217.2 878.98,218.4 880.8,219.61 882.62,220.84 884.43,222.08 886.25,223.33 888.07,224.58 889.88,225.84 891.7,227.1 893.52,228.35 895.33,229.6 897.15,230.83 898.97,232.05 900.78,233.26 902.6,234.44 904.42,235.6 906.23,236.73 908.05,237.82 909.87,238.88 911.68,239.9 913.5,240.88 915.32,241.81 917.13,242.69 918.95,243.51 920.77,244.28 922.58,244.99 924.4,245.63 926.22,246.21 928.03,246.72 929.85,247.16 931.67,247.53 933.48,247.82 935.3,248.03 937.12,248.16 938.93,248.21 940.75,248.18 942.57,248.06 944.38,247.86 946.2,247.57 948.02,247.2 949.83,246.74 951.65,246.19 953.47,245.56 955.28,244.84 957.1,244.03 958.92,243.14 960.73,242.17 962.55,241.11 964.37,239.98 966.18,238.77 968,237.48 969.82,236.13 971.63,234.7 973.45,233.2 975.27,231.64 977.08,230.02 978.9,228.34 980.72,226.61 982.53,224.82 984.35,222.99 986.17,221.12 987.98,219.22 989.8,217.28 991.62,215.31 993.43,213.31 995.25,211.3 997.07,209.28 998.88,207.24 1000.7,205.2 1002.52,207.24 1004.33,209.28 1006.15,211.3 1007.97,213.31 1009.78,215.31 1011.6,217.28 1013.42,219.22 1015.23,221.12 1017.05,222.99 1018.87,224.82 1020.68,226.61 1022.5,228.34 1024.32,230.02 1026.13,231.64 1027.95,233.2 1029.77,234.7 1031.58,236.13 1033.4,237.48 1035.22,238.77 1037.03,239.98 1038.85,241.11 1040.67,242.17 1042.48,243.14 1044.3,244.03 1046.12,244.84 1047.93,245.56 1049.75,246.19 1051.57,246.74 1053.38,247.2 1055.2,247.57 1057.02,247.86 1058.83,248.06 1060.65,248.18 1062.47,248.21 1064.28,248.16 1066.1,248.03 1067.92,247.82 1069.73,247.53 1071.55,247.16 1073.37,246.72 1075.18,246.21 1077,245.63 1078.82,244.99 1080.63,244.28 1082.45,243.51 1084.27,242.69 1086.08,241.81 1087.9,240.88 1089.72,239.9 1091.53,238.88 1093.35,237.82 1095.17,236.73 1096.98,235.6 1098.8,234.44 1100.62,233.26 1102.43,232.05 1104.25,230.83 1106.07,229.6 1107.88,228.35 1109.7,227.1 1111.52,225.84 1113.33,224.58 1115.15,223.33 1116.97,222.08 1118.78,220.84 1120.6,219.61 1122.42,218.4 1124.23,217.2 1126.05,216.02 1127.87,214.87 1129.68,213.74 1131.5,212.64 1133.32,211.56 1135.13,210.52 1136.95,209.51 1138.77,208.53 1140.58,207.58 1142.4,206.67 1144.22,205.79 1146.03,204.95 1147.85,204.15 1149.67,203.39 1151.48,202.66 1153.3,201.97 1155.12,201.32 1156.93,200.71 1158.75,200.13 1160.57,199.59 1162.38,199.09 1164.2,198.62 1166.02,198.18 1167.83,197.78 1169.65,197.41 1171.47,197.06 1173.28,196.75 1175.1,196.47 1176.92,196.21 1178.73,195.98 1180.55,195.77 1182.37,195.59 1184.18,195.42 1186,195.28 1187.82,195.15 1189.63,195.04 1191.45,194.94 1193.27,194.86 1195.08,194.79 1196.9,194.73 1198.72,194.68 1200.53,194.64 1202.35,194.61 1204.17,194.58 1205.98,194.56 1207.8,194.54 1209.62,194.53 1211.43,194.52 1213.25,194.51 1215.07,194.5 1216.88,194.5 1218.7,194.5" fill="none" stroke="#ee4630" stroke-width="2.8" stroke-linecap="square" stroke-linejoin="round"/>
<polyline points="782.7,346.2 784.52,346.2 786.33,346.2 788.15,346.19 789.97,346.18 791.78,346.17 793.6,346.16 795.42,346.14 797.23,346.12 799.05,346.09 800.87,346.05 802.68,346.01 804.5,345.95 806.32,345.89 808.13,345.82 809.95,345.73 811.77,345.64 813.58,345.52 815.4,345.39 817.22,345.24 819.03,345.07 820.85,344.88 822.67,344.67 824.48,344.43 826.3,344.17 828.12,343.88 829.93,343.57 831.75,343.22 833.57,342.84 835.38,342.43 837.2,341.99 839.02,341.52 840.83,341 842.65,340.46 844.47,339.87 846.28,339.25 848.1,338.59 849.92,337.9 851.73,337.17 853.55,336.39 855.37,335.58 857.18,334.74 859,333.85 860.82,332.94 862.63,331.98 864.45,330.99 866.27,329.97 868.08,328.92 869.9,327.83 871.72,326.72 873.53,325.58 875.35,324.42 877.17,323.23 878.98,322.03 880.8,320.8 882.62,319.56 884.43,318.31 886.25,317.05 888.07,315.79 889.88,314.52 891.7,313.25 893.52,311.99 895.33,310.73 897.15,309.48 898.97,308.25 900.78,307.03 902.6,305.84 904.42,304.67 906.23,303.53 908.05,302.42 909.87,301.35 911.68,300.32 913.5,299.33 915.32,298.39 917.13,297.49 918.95,296.66 920.77,295.87 922.58,295.15 924.4,294.49 926.22,293.9 928.03,293.38 929.85,292.92 931.67,292.54 933.48,292.24 935.3,292.01 937.12,291.87 938.93,291.8 940.75,291.82 942.57,291.92 944.38,292.11 946.2,292.39 948.02,292.75 949.83,293.19 951.65,293.73 953.47,294.35 955.28,295.05 957.1,295.84 958.92,296.72 960.73,297.67 962.55,298.71 964.37,299.83 966.18,301.02 968,302.3 969.82,303.64 971.63,305.05 973.45,306.53 975.27,308.08 977.08,309.69 978.9,311.35 980.72,313.07 982.53,314.83 984.35,316.65 986.17,318.5 987.98,320.39 989.8,322.32 991.62,324.27 993.43,326.25 995.25,328.24 997.07,330.25 998.88,332.27 1000.7,334.3 1002.52,332.27 1004.33,330.25 1006.15,328.24 1007.97,326.25 1009.78,324.27 1011.6,322.32 1013.42,320.39 1015.23,318.5 1017.05,316.65 1018.87,314.83 1020.68,313.07 1022.5,311.35 1024.32,309.69 1026.13,308.08 1027.95,306.53 1029.77,305.05 1031.58,303.64 1033.4,302.3 1035.22,301.02 1037.03,299.83 1038.85,298.71 1040.67,297.67 1042.48,296.72 1044.3,295.84 1046.12,295.05 1047.93,294.35 1049.75,293.73 1051.57,293.19 1053.38,292.75 1055.2,292.39 1057.02,292.11 1058.83,291.92 1060.65,291.82 1062.47,291.8 1064.28,291.87 1066.1,292.01 1067.92,292.24 1069.73,292.54 1071.55,292.92 1073.37,293.38 1075.18,293.9 1077,294.49 1078.82,295.15 1080.63,295.87 1082.45,296.66 1084.27,297.49 1086.08,298.39 1087.9,299.33 1089.72,300.32 1091.53,301.35 1093.35,302.42 1095.17,303.53 1096.98,304.67 1098.8,305.84 1100.62,307.03 1102.43,308.25 1104.25,309.48 1106.07,310.73 1107.88,311.99 1109.7,313.25 1111.52,314.52 1113.33,315.79 1115.15,317.05 1116.97,318.31 1118.78,319.56 1120.6,320.8 1122.42,322.03 1124.23,323.23 1126.05,324.42 1127.87,325.58 1129.68,326.72 1131.5,327.83 1133.32,328.92 1135.13,329.97 1136.95,330.99 1138.77,331.98 1140.58,332.94 1142.4,333.85 1144.22,334.74 1146.03,335.58 1147.85,336.39 1149.67,337.17 1151.48,337.9 1153.3,338.59 1155.12,339.25 1156.93,339.87 1158.75,340.46 1160.57,341 1162.38,341.52 1164.2,341.99 1166.02,342.43 1167.83,342.84 1169.65,343.22 1171.47,343.57 1173.28,343.88 1175.1,344.17 1176.92,344.43 1178.73,344.67 1180.55,344.88 1182.37,345.07 1184.18,345.24 1186,345.39 1187.82,345.52 1189.63,345.64 1191.45,345.73 1193.27,345.82 1195.08,345.89 1196.9,345.95 1198.72,346.01 1200.53,346.05 1202.35,346.09 1204.17,346.12 1205.98,346.14 1207.8,346.16 1209.62,346.17 1211.43,346.18 1213.25,346.19 1215.07,346.2 1216.88,346.2 1218.7,346.2" fill="none" stroke="#ee4630" stroke-width="2.8" stroke-linecap="square" stroke-linejoin="round"/>
<polyline points="782.7,357.1 784.52,357.1 786.33,357.09 788.15,357.08 789.97,357.07 791.78,357.05 793.6,357.02 795.42,356.99 797.23,356.96 799.05,356.91 800.87,356.86 802.68,356.8 804.5,356.73 806.32,356.65 808.13,356.56 809.95,356.46 811.77,356.34 813.58,356.21 815.4,356.06 817.22,355.89 819.03,355.7 820.85,355.5 822.67,355.27 824.48,355.02 826.3,354.74 828.12,354.44 829.93,354.12 831.75,353.76 833.57,353.38 835.38,352.97 837.2,352.53 839.02,352.06 840.83,351.55 842.65,351.01 844.47,350.44 846.28,349.84 848.1,349.2 849.92,348.53 851.73,347.82 853.55,347.08 855.37,346.3 857.18,345.49 859,344.65 860.82,343.77 862.63,342.86 864.45,341.92 866.27,340.95 868.08,339.95 869.9,338.93 871.72,337.87 873.53,336.8 875.35,335.7 877.17,334.58 878.98,333.44 880.8,332.28 882.62,331.11 884.43,329.93 886.25,328.73 888.07,327.53 889.88,326.33 891.7,325.13 893.52,323.92 895.33,322.72 897.15,321.53 898.97,320.35 900.78,319.19 902.6,318.04 904.42,316.91 906.23,315.8 908.05,314.72 909.87,313.67 911.68,312.65 913.5,311.67 915.32,310.73 917.13,309.83 918.95,308.97 920.77,308.16 922.58,307.4 924.4,306.7 926.22,306.05 928.03,305.45 929.85,304.92 931.67,304.45 933.48,304.05 935.3,303.71 937.12,303.43 938.93,303.23 940.75,303.1 942.57,303.04 944.38,303.05 946.2,303.13 948.02,303.29 949.83,303.52 951.65,303.82 953.47,304.2 955.28,304.65 957.1,305.17 958.92,305.76 960.73,306.43 962.55,307.16 964.37,307.96 966.18,308.83 968,309.76 969.82,310.75 971.63,311.81 973.45,312.92 975.27,314.08 977.08,315.3 978.9,316.56 980.72,317.88 982.53,319.23 984.35,320.62 986.17,322.05 987.98,323.51 989.8,325 991.62,326.51 993.43,328.05 995.25,329.59 997.07,331.16 998.88,332.73 1000.7,334.3 1002.52,332.73 1004.33,331.16 1006.15,329.59 1007.97,328.05 1009.78,326.51 1011.6,325 1013.42,323.51 1015.23,322.05 1017.05,320.62 1018.87,319.23 1020.68,317.88 1022.5,316.56 1024.32,315.3 1026.13,314.08 1027.95,312.92 1029.77,311.81 1031.58,310.75 1033.4,309.76 1035.22,308.83 1037.03,307.96 1038.85,307.16 1040.67,306.43 1042.48,305.76 1044.3,305.17 1046.12,304.65 1047.93,304.2 1049.75,303.82 1051.57,303.52 1053.38,303.29 1055.2,303.13 1057.02,303.05 1058.83,303.04 1060.65,303.1 1062.47,303.23 1064.28,303.43 1066.1,303.71 1067.92,304.05 1069.73,304.45 1071.55,304.92 1073.37,305.45 1075.18,306.05 1077,306.7 1078.82,307.4 1080.63,308.16 1082.45,308.97 1084.27,309.83 1086.08,310.73 1087.9,311.67 1089.72,312.65 1091.53,313.67 1093.35,314.72 1095.17,315.8 1096.98,316.91 1098.8,318.04 1100.62,319.19 1102.43,320.35 1104.25,321.53 1106.07,322.72 1107.88,323.92 1109.7,325.13 1111.52,326.33 1113.33,327.53 1115.15,328.73 1116.97,329.93 1118.78,331.11 1120.6,332.28 1122.42,333.44 1124.23,334.58 1126.05,335.7 1127.87,336.8 1129.68,337.87 1131.5,338.93 1133.32,339.95 1135.13,340.95 1136.95,341.92 1138.77,342.86 1140.58,343.77 1142.4,344.65 1144.22,345.49 1146.03,346.3 1147.85,347.08 1149.67,347.82 1151.48,348.53 1153.3,349.2 1155.12,349.84 1156.93,350.44 1158.75,351.01 1160.57,351.55 1162.38,352.06 1164.2,352.53 1166.02,352.97 1167.83,353.38 1169.65,353.76 1171.47,354.12 1173.28,354.44 1175.1,354.74 1176.92,355.02 1178.73,355.27 1180.55,355.5 1182.37,355.7 1184.18,355.89 1186,356.06 1187.82,356.21 1189.63,356.34 1191.45,356.46 1193.27,356.56 1195.08,356.65 1196.9,356.73 1198.72,356.8 1200.53,356.86 1202.35,356.91 1204.17,356.96 1205.98,356.99 1207.8,357.02 1209.62,357.05 1211.43,357.07 1213.25,357.08 1215.07,357.09 1216.88,357.1 1218.7,357.1" fill="none" stroke="#ee4630" stroke-width="2.8" stroke-linecap="square" stroke-linejoin="round"/>
<polyline points="782.7,370.3 784.52,370.3 786.33,370.29 788.15,370.27 789.97,370.25 791.78,370.22 793.6,370.18 795.42,370.14 797.23,370.09 799.05,370.03 800.87,369.96 802.68,369.88 804.5,369.79 806.32,369.68 808.13,369.57 809.95,369.44 811.77,369.29 813.58,369.13 815.4,368.96 817.22,368.76 819.03,368.55 820.85,368.32 822.67,368.06 824.48,367.79 826.3,367.49 828.12,367.17 829.93,366.82 831.75,366.45 833.57,366.05 835.38,365.62 837.2,365.16 839.02,364.68 840.83,364.16 842.65,363.62 844.47,363.04 846.28,362.44 848.1,361.8 849.92,361.13 851.73,360.43 853.55,359.7 855.37,358.93 857.18,358.14 859,357.31 860.82,356.46 862.63,355.57 864.45,354.66 866.27,353.71 868.08,352.74 869.9,351.75 871.72,350.73 873.53,349.69 875.35,348.62 877.17,347.54 878.98,346.44 880.8,345.32 882.62,344.19 884.43,343.04 886.25,341.89 888.07,340.72 889.88,339.56 891.7,338.38 893.52,337.21 895.33,336.04 897.15,334.88 898.97,333.72 900.78,332.57 902.6,331.43 904.42,330.31 906.23,329.2 908.05,328.12 909.87,327.06 911.68,326.03 913.5,325.02 915.32,324.04 917.13,323.1 918.95,322.2 920.77,321.33 922.58,320.51 924.4,319.72 926.22,318.99 928.03,318.3 929.85,317.66 931.67,317.07 933.48,316.53 935.3,316.05 937.12,315.63 938.93,315.26 940.75,314.95 942.57,314.69 944.38,314.5 946.2,314.37 948.02,314.3 949.83,314.29 951.65,314.34 953.47,314.45 955.28,314.63 957.1,314.86 958.92,315.15 960.73,315.5 962.55,315.91 964.37,316.38 966.18,316.9 968,317.47 969.82,318.1 971.63,318.78 973.45,319.5 975.27,320.27 977.08,321.08 978.9,321.93 980.72,322.83 982.53,323.75 984.35,324.71 986.17,325.7 987.98,326.72 989.8,327.76 991.62,328.82 993.43,329.89 995.25,330.98 997.07,332.08 998.88,333.19 1000.7,334.3 1002.52,333.19 1004.33,332.08 1006.15,330.98 1007.97,329.89 1009.78,328.82 1011.6,327.76 1013.42,326.72 1015.23,325.7 1017.05,324.71 1018.87,323.75 1020.68,322.83 1022.5,321.93 1024.32,321.08 1026.13,320.27 1027.95,319.5 1029.77,318.78 1031.58,318.1 1033.4,317.47 1035.22,316.9 1037.03,316.38 1038.85,315.91 1040.67,315.5 1042.48,315.15 1044.3,314.86 1046.12,314.63 1047.93,314.45 1049.75,314.34 1051.57,314.29 1053.38,314.3 1055.2,314.37 1057.02,314.5 1058.83,314.69 1060.65,314.95 1062.47,315.26 1064.28,315.63 1066.1,316.05 1067.92,316.53 1069.73,317.07 1071.55,317.66 1073.37,318.3 1075.18,318.99 1077,319.72 1078.82,320.51 1080.63,321.33 1082.45,322.2 1084.27,323.1 1086.08,324.04 1087.9,325.02 1089.72,326.03 1091.53,327.06 1093.35,328.12 1095.17,329.2 1096.98,330.31 1098.8,331.43 1100.62,332.57 1102.43,333.72 1104.25,334.88 1106.07,336.04 1107.88,337.21 1109.7,338.38 1111.52,339.56 1113.33,340.72 1115.15,341.89 1116.97,343.04 1118.78,344.19 1120.6,345.32 1122.42,346.44 1124.23,347.54 1126.05,348.62 1127.87,349.69 1129.68,350.73 1131.5,351.75 1133.32,352.74 1135.13,353.71 1136.95,354.66 1138.77,355.57 1140.58,356.46 1142.4,357.31 1144.22,358.14 1146.03,358.93 1147.85,359.7 1149.67,360.43 1151.48,361.13 1153.3,361.8 1155.12,362.44 1156.93,363.04 1158.75,363.62 1160.57,364.16 1162.38,364.68 1164.2,365.16 1166.02,365.62 1167.83,366.05 1169.65,366.45 1171.47,366.82 1173.28,367.17 1175.1,367.49 1176.92,367.79 1178.73,368.06 1180.55,368.32 1182.37,368.55 1184.18,368.76 1186,368.96 1187.82,369.13 1189.63,369.29 1191.45,369.44 1193.27,369.57 1195.08,369.68 1196.9,369.79 1198.72,369.88 1200.53,369.96 1202.35,370.03 1204.17,370.09 1205.98,370.14 1207.8,370.18 1209.62,370.22 1211.43,370.25 1213.25,370.27 1215.07,370.29 1216.88,370.3 1218.7,370.3" fill="none" stroke="#ee4630" stroke-width="2.8" stroke-linecap="square" stroke-linejoin="round"/>
<polyline points="782.7,384.2 784.52,384.2 786.33,384.18 788.15,384.16 789.97,384.13 791.78,384.09 793.6,384.04 795.42,383.98 797.23,383.91 799.05,383.84 800.87,383.74 802.68,383.64 804.5,383.53 806.32,383.4 808.13,383.26 809.95,383.1 811.77,382.93 813.58,382.74 815.4,382.53 817.22,382.31 819.03,382.07 820.85,381.8 822.67,381.52 824.48,381.22 826.3,380.89 828.12,380.54 829.93,380.17 831.75,379.77 833.57,379.34 835.38,378.89 837.2,378.42 839.02,377.91 840.83,377.38 842.65,376.82 844.47,376.23 846.28,375.62 848.1,374.97 849.92,374.3 851.73,373.59 853.55,372.86 855.37,372.09 857.18,371.3 859,370.48 860.82,369.64 862.63,368.76 864.45,367.86 866.27,366.93 868.08,365.98 869.9,365 871.72,364 873.53,362.98 875.35,361.94 877.17,360.87 878.98,359.79 880.8,358.7 882.62,357.59 884.43,356.47 886.25,355.33 888.07,354.19 889.88,353.04 891.7,351.88 893.52,350.73 895.33,349.57 897.15,348.41 898.97,347.25 900.78,346.11 902.6,344.97 904.42,343.84 906.23,342.72 908.05,341.62 909.87,340.53 911.68,339.46 913.5,338.42 915.32,337.4 917.13,336.4 918.95,335.43 920.77,334.5 922.58,333.59 924.4,332.72 926.22,331.89 928.03,331.09 929.85,330.33 931.67,329.61 933.48,328.94 935.3,328.3 937.12,327.72 938.93,327.17 940.75,326.68 942.57,326.23 944.38,325.83 946.2,325.48 948.02,325.18 949.83,324.92 951.65,324.72 953.47,324.57 955.28,324.46 957.1,324.41 958.92,324.4 960.73,324.44 962.55,324.52 964.37,324.66 966.18,324.83 968,325.05 969.82,325.31 971.63,325.62 973.45,325.96 975.27,326.34 977.08,326.75 978.9,327.2 980.72,327.68 982.53,328.19 984.35,328.72 986.17,329.28 987.98,329.86 989.8,330.46 991.62,331.07 993.43,331.7 995.25,332.34 997.07,332.99 998.88,333.64 1000.7,334.3 1002.52,333.64 1004.33,332.99 1006.15,332.34 1007.97,331.7 1009.78,331.07 1011.6,330.46 1013.42,329.86 1015.23,329.28 1017.05,328.72 1018.87,328.19 1020.68,327.68 1022.5,327.2 1024.32,326.75 1026.13,326.34 1027.95,325.96 1029.77,325.62 1031.58,325.31 1033.4,325.05 1035.22,324.83 1037.03,324.66 1038.85,324.52 1040.67,324.44 1042.48,324.4 1044.3,324.41 1046.12,324.46 1047.93,324.57 1049.75,324.72 1051.57,324.92 1053.38,325.18 1055.2,325.48 1057.02,325.83 1058.83,326.23 1060.65,326.68 1062.47,327.17 1064.28,327.72 1066.1,328.3 1067.92,328.94 1069.73,329.61 1071.55,330.33 1073.37,331.09 1075.18,331.89 1077,332.72 1078.82,333.59 1080.63,334.5 1082.45,335.43 1084.27,336.4 1086.08,337.4 1087.9,338.42 1089.72,339.46 1091.53,340.53 1093.35,341.62 1095.17,342.72 1096.98,343.84 1098.8,344.97 1100.62,346.11 1102.43,347.25 1104.25,348.41 1106.07,349.57 1107.88,350.73 1109.7,351.88 1111.52,353.04 1113.33,354.19 1115.15,355.33 1116.97,356.47 1118.78,357.59 1120.6,358.7 1122.42,359.79 1124.23,360.87 1126.05,361.94 1127.87,362.98 1129.68,364 1131.5,365 1133.32,365.98 1135.13,366.93 1136.95,367.86 1138.77,368.76 1140.58,369.64 1142.4,370.48 1144.22,371.3 1146.03,372.09 1147.85,372.86 1149.67,373.59 1151.48,374.3 1153.3,374.97 1155.12,375.62 1156.93,376.23 1158.75,376.82 1160.57,377.38 1162.38,377.91 1164.2,378.42 1166.02,378.89 1167.83,379.34 1169.65,379.77 1171.47,380.17 1173.28,380.54 1175.1,380.89 1176.92,381.22 1178.73,381.52 1180.55,381.8 1182.37,382.07 1184.18,382.31 1186,382.53 1187.82,382.74 1189.63,382.93 1191.45,383.1 1193.27,383.26 1195.08,383.4 1196.9,383.53 1198.72,383.64 1200.53,383.74 1202.35,383.84 1204.17,383.91 1205.98,383.98 1207.8,384.04 1209.62,384.09 1211.43,384.13 1213.25,384.16 1215.07,384.18 1216.88,384.2 1218.7,384.2" fill="none" stroke="#ee4630" stroke-width="2.8" stroke-linecap="square" stroke-linejoin="round"/>
<polyline points="782.7,398.2 784.52,398.19 786.33,398.18 788.15,398.15 789.97,398.11 791.78,398.06 793.6,398 795.42,397.93 797.23,397.84 799.05,397.74 800.87,397.63 802.68,397.5 804.5,397.37 806.32,397.21 808.13,397.04 809.95,396.86 811.77,396.66 813.58,396.44 815.4,396.2 817.22,395.95 819.03,395.67 820.85,395.38 822.67,395.06 824.48,394.73 826.3,394.37 828.12,393.99 829.93,393.59 831.75,393.16 833.57,392.71 835.38,392.23 837.2,391.73 839.02,391.21 840.83,390.65 842.65,390.07 844.47,389.47 846.28,388.83 848.1,388.17 849.92,387.49 851.73,386.77 853.55,386.03 855.37,385.26 857.18,384.47 859,383.64 860.82,382.8 862.63,381.92 864.45,381.03 866.27,380.1 868.08,379.16 869.9,378.19 871.72,377.2 873.53,376.18 875.35,375.15 877.17,374.1 878.98,373.03 880.8,371.95 882.62,370.85 884.43,369.74 886.25,368.62 888.07,367.48 889.88,366.34 891.7,365.19 893.52,364.03 895.33,362.87 897.15,361.71 898.97,360.55 900.78,359.4 902.6,358.24 904.42,357.09 906.23,355.95 908.05,354.82 909.87,353.7 911.68,352.59 913.5,351.5 915.32,350.42 917.13,349.36 918.95,348.33 920.77,347.31 922.58,346.32 924.4,345.36 926.22,344.42 928.03,343.51 929.85,342.62 931.67,341.77 933.48,340.96 935.3,340.17 937.12,339.42 938.93,338.7 940.75,338.02 942.57,337.38 944.38,336.78 946.2,336.21 948.02,335.68 949.83,335.18 951.65,334.73 953.47,334.32 955.28,333.94 957.1,333.6 958.92,333.3 960.73,333.04 962.55,332.81 964.37,332.62 966.18,332.46 968,332.34 969.82,332.25 971.63,332.19 973.45,332.17 975.27,332.17 977.08,332.2 978.9,332.26 980.72,332.34 982.53,332.44 984.35,332.57 986.17,332.71 987.98,332.87 989.8,333.05 991.62,333.24 993.43,333.44 995.25,333.64 997.07,333.86 998.88,334.08 1000.7,334.3 1002.52,334.08 1004.33,333.86 1006.15,333.64 1007.97,333.44 1009.78,333.24 1011.6,333.05 1013.42,332.87 1015.23,332.71 1017.05,332.57 1018.87,332.44 1020.68,332.34 1022.5,332.26 1024.32,332.2 1026.13,332.17 1027.95,332.17 1029.77,332.19 1031.58,332.25 1033.4,332.34 1035.22,332.46 1037.03,332.62 1038.85,332.81 1040.67,333.04 1042.48,333.3 1044.3,333.6 1046.12,333.94 1047.93,334.32 1049.75,334.73 1051.57,335.18 1053.38,335.68 1055.2,336.21 1057.02,336.78 1058.83,337.38 1060.65,338.02 1062.47,338.7 1064.28,339.42 1066.1,340.17 1067.92,340.96 1069.73,341.77 1071.55,342.62 1073.37,343.51 1075.18,344.42 1077,345.36 1078.82,346.32 1080.63,347.31 1082.45,348.33 1084.27,349.36 1086.08,350.42 1087.9,351.5 1089.72,352.59 1091.53,353.7 1093.35,354.82 1095.17,355.95 1096.98,357.09 1098.8,358.24 1100.62,359.4 1102.43,360.55 1104.25,361.71 1106.07,362.87 1107.88,364.03 1109.7,365.19 1111.52,366.34 1113.33,367.48 1115.15,368.62 1116.97,369.74 1118.78,370.85 1120.6,371.95 1122.42,373.03 1124.23,374.1 1126.05,375.15 1127.87,376.18 1129.68,377.2 1131.5,378.19 1133.32,379.16 1135.13,380.1 1136.95,381.03 1138.77,381.92 1140.58,382.8 1142.4,383.64 1144.22,384.47 1146.03,385.26 1147.85,386.03 1149.67,386.77 1151.48,387.49 1153.3,388.17 1155.12,388.83 1156.93,389.47 1158.75,390.07 1160.57,390.65 1162.38,391.21 1164.2,391.73 1166.02,392.23 1167.83,392.71 1169.65,393.16 1171.47,393.59 1173.28,393.99 1175.1,394.37 1176.92,394.73 1178.73,395.06 1180.55,395.38 1182.37,395.67 1184.18,395.95 1186,396.2 1187.82,396.44 1189.63,396.66 1191.45,396.86 1193.27,397.04 1195.08,397.21 1196.9,397.37 1198.72,397.5 1200.53,397.63 1202.35,397.74 1204.17,397.84 1205.98,397.93 1207.8,398 1209.62,398.06 1211.43,398.11 1213.25,398.15 1215.07,398.18 1216.88,398.19 1218.7,398.2" fill="none" stroke="#ee4630" stroke-width="2.8" stroke-linecap="square" stroke-linejoin="round"/>
<polyline points="782.7,411.4 784.52,411.39 786.33,411.37 788.15,411.34 789.97,411.29 791.78,411.23 793.6,411.16 795.42,411.07 797.23,410.97 799.05,410.85 800.87,410.72 802.68,410.58 804.5,410.41 806.32,410.24 808.13,410.04 809.95,409.83 811.77,409.6 813.58,409.35 815.4,409.09 817.22,408.8 819.03,408.5 820.85,408.18 822.67,407.83 824.48,407.47 826.3,407.08 828.12,406.67 829.93,406.24 831.75,405.78 833.57,405.31 835.38,404.8 837.2,404.28 839.02,403.73 840.83,403.15 842.65,402.55 844.47,401.93 846.28,401.28 848.1,400.6 849.92,399.9 851.73,399.18 853.55,398.43 855.37,397.65 857.18,396.85 859,396.02 860.82,395.17 862.63,394.3 864.45,393.4 866.27,392.48 868.08,391.54 869.9,390.57 871.72,389.59 873.53,388.58 875.35,387.56 877.17,386.52 878.98,385.46 880.8,384.38 882.62,383.29 884.43,382.18 886.25,381.06 888.07,379.93 889.88,378.8 891.7,377.65 893.52,376.49 895.33,375.33 897.15,374.16 898.97,372.99 900.78,371.82 902.6,370.65 904.42,369.48 906.23,368.31 908.05,367.15 909.87,366 911.68,364.85 913.5,363.71 915.32,362.58 917.13,361.46 918.95,360.35 920.77,359.26 922.58,358.19 924.4,357.13 926.22,356.1 928.03,355.08 929.85,354.08 931.67,353.1 933.48,352.15 935.3,351.22 937.12,350.32 938.93,349.44 940.75,348.58 942.57,347.76 944.38,346.96 946.2,346.19 948.02,345.44 949.83,344.73 951.65,344.04 953.47,343.38 955.28,342.75 957.1,342.15 958.92,341.58 960.73,341.03 962.55,340.51 964.37,340.02 966.18,339.55 968,339.11 969.82,338.69 971.63,338.3 973.45,337.93 975.27,337.59 977.08,337.26 978.9,336.95 980.72,336.67 982.53,336.39 984.35,336.14 986.17,335.9 987.98,335.67 989.8,335.45 991.62,335.24 993.43,335.05 995.25,334.85 997.07,334.67 998.88,334.48 1000.7,334.3 1002.52,334.48 1004.33,334.67 1006.15,334.85 1007.97,335.05 1009.78,335.24 1011.6,335.45 1013.42,335.67 1015.23,335.9 1017.05,336.14 1018.87,336.39 1020.68,336.67 1022.5,336.95 1024.32,337.26 1026.13,337.59 1027.95,337.93 1029.77,338.3 1031.58,338.69 1033.4,339.11 1035.22,339.55 1037.03,340.02 1038.85,340.51 1040.67,341.03 1042.48,341.58 1044.3,342.15 1046.12,342.75 1047.93,343.38 1049.75,344.04 1051.57,344.73 1053.38,345.44 1055.2,346.19 1057.02,346.96 1058.83,347.76 1060.65,348.58 1062.47,349.44 1064.28,350.32 1066.1,351.22 1067.92,352.15 1069.73,353.1 1071.55,354.08 1073.37,355.08 1075.18,356.1 1077,357.13 1078.82,358.19 1080.63,359.26 1082.45,360.35 1084.27,361.46 1086.08,362.58 1087.9,363.71 1089.72,364.85 1091.53,366 1093.35,367.15 1095.17,368.31 1096.98,369.48 1098.8,370.65 1100.62,371.82 1102.43,372.99 1104.25,374.16 1106.07,375.33 1107.88,376.49 1109.7,377.65 1111.52,378.8 1113.33,379.93 1115.15,381.06 1116.97,382.18 1118.78,383.29 1120.6,384.38 1122.42,385.46 1124.23,386.52 1126.05,387.56 1127.87,388.58 1129.68,389.59 1131.5,390.57 1133.32,391.54 1135.13,392.48 1136.95,393.4 1138.77,394.3 1140.58,395.17 1142.4,396.02 1144.22,396.85 1146.03,397.65 1147.85,398.43 1149.67,399.18 1151.48,399.9 1153.3,400.6 1155.12,401.28 1156.93,401.93 1158.75,402.55 1160.57,403.15 1162.38,403.73 1164.2,404.28 1166.02,404.8 1167.83,405.31 1169.65,405.78 1171.47,406.24 1173.28,406.67 1175.1,407.08 1176.92,407.47 1178.73,407.83 1180.55,408.18 1182.37,408.5 1184.18,408.8 1186,409.09 1187.82,409.35 1189.63,409.6 1191.45,409.83 1193.27,410.04 1195.08,410.24 1196.9,410.41 1198.72,410.58 1200.53,410.72 1202.35,410.85 1204.17,410.97 1205.98,411.07 1207.8,411.16 1209.62,411.23 1211.43,411.29 1213.25,411.34 1215.07,411.37 1216.88,411.39 1218.7,411.4" fill="none" stroke="#ee4630" stroke-width="2.8" stroke-linecap="square" stroke-linejoin="round"/>
<polyline points="782.7,423.4 784.52,423.39 786.33,423.37 788.15,423.33 789.97,423.28 791.78,423.21 793.6,423.12 795.42,423.02 797.23,422.91 799.05,422.77 800.87,422.62 802.68,422.46 804.5,422.28 806.32,422.07 808.13,421.86 809.95,421.62 811.77,421.37 813.58,421.09 815.4,420.8 817.22,420.49 819.03,420.16 820.85,419.81 822.67,419.44 824.48,419.04 826.3,418.63 828.12,418.19 829.93,417.74 831.75,417.26 833.57,416.76 835.38,416.23 837.2,415.68 839.02,415.11 840.83,414.52 842.65,413.9 844.47,413.26 846.28,412.59 848.1,411.9 849.92,411.19 851.73,410.45 853.55,409.69 855.37,408.91 857.18,408.1 859,407.27 860.82,406.42 862.63,405.54 864.45,404.64 866.27,403.73 868.08,402.79 869.9,401.83 871.72,400.84 873.53,399.84 875.35,398.83 877.17,397.79 878.98,396.74 880.8,395.67 882.62,394.58 884.43,393.48 886.25,392.37 888.07,391.24 889.88,390.11 891.7,388.96 893.52,387.8 895.33,386.64 897.15,385.46 898.97,384.29 900.78,383.1 902.6,381.92 904.42,380.73 906.23,379.54 908.05,378.35 909.87,377.16 911.68,375.97 913.5,374.79 915.32,373.61 917.13,372.43 918.95,371.27 920.77,370.11 922.58,368.96 924.4,367.82 926.22,366.69 928.03,365.57 929.85,364.47 931.67,363.38 933.48,362.3 935.3,361.24 937.12,360.2 938.93,359.17 940.75,358.16 942.57,357.17 944.38,356.19 946.2,355.24 948.02,354.3 949.83,353.38 951.65,352.48 953.47,351.6 955.28,350.74 957.1,349.9 958.92,349.08 960.73,348.27 962.55,347.49 964.37,346.73 966.18,345.98 968,345.25 969.82,344.54 971.63,343.84 973.45,343.16 975.27,342.5 977.08,341.85 978.9,341.21 980.72,340.59 982.53,339.98 984.35,339.38 986.17,338.79 987.98,338.21 989.8,337.63 991.62,337.07 993.43,336.51 995.25,335.95 997.07,335.4 998.88,334.85 1000.7,334.3 1002.52,334.85 1004.33,335.4 1006.15,335.95 1007.97,336.51 1009.78,337.07 1011.6,337.63 1013.42,338.21 1015.23,338.79 1017.05,339.38 1018.87,339.98 1020.68,340.59 1022.5,341.21 1024.32,341.85 1026.13,342.5 1027.95,343.16 1029.77,343.84 1031.58,344.54 1033.4,345.25 1035.22,345.98 1037.03,346.73 1038.85,347.49 1040.67,348.27 1042.48,349.08 1044.3,349.9 1046.12,350.74 1047.93,351.6 1049.75,352.48 1051.57,353.38 1053.38,354.3 1055.2,355.24 1057.02,356.19 1058.83,357.17 1060.65,358.16 1062.47,359.17 1064.28,360.2 1066.1,361.24 1067.92,362.3 1069.73,363.38 1071.55,364.47 1073.37,365.57 1075.18,366.69 1077,367.82 1078.82,368.96 1080.63,370.11 1082.45,371.27 1084.27,372.43 1086.08,373.61 1087.9,374.79 1089.72,375.97 1091.53,377.16 1093.35,378.35 1095.17,379.54 1096.98,380.73 1098.8,381.92 1100.62,383.1 1102.43,384.29 1104.25,385.46 1106.07,386.64 1107.88,387.8 1109.7,388.96 1111.52,390.11 1113.33,391.24 1115.15,392.37 1116.97,393.48 1118.78,394.58 1120.6,395.67 1122.42,396.74 1124.23,397.79 1126.05,398.83 1127.87,399.84 1129.68,400.84 1131.5,401.83 1133.32,402.79 1135.13,403.73 1136.95,404.64 1138.77,405.54 1140.58,406.42 1142.4,407.27 1144.22,408.1 1146.03,408.91 1147.85,409.69 1149.67,410.45 1151.48,411.19 1153.3,411.9 1155.12,412.59 1156.93,413.26 1158.75,413.9 1160.57,414.52 1162.38,415.11 1164.2,415.68 1166.02,416.23 1167.83,416.76 1169.65,417.26 1171.47,417.74 1173.28,418.19 1175.1,418.63 1176.92,419.04 1178.73,419.44 1180.55,419.81 1182.37,420.16 1184.18,420.49 1186,420.8 1187.82,421.09 1189.63,421.37 1191.45,421.62 1193.27,421.86 1195.08,422.07 1196.9,422.28 1198.72,422.46 1200.53,422.62 1202.35,422.77 1204.17,422.91 1205.98,423.02 1207.8,423.12 1209.62,423.21 1211.43,423.28 1213.25,423.33 1215.07,423.37 1216.88,423.39 1218.7,423.4" fill="none" stroke="#ee4630" stroke-width="2.8" stroke-linecap="square" stroke-linejoin="round"/>
<polyline points="782.7,434.2 784.52,434.19 786.33,434.17 788.15,434.12 789.97,434.06 791.78,433.99 793.6,433.89 795.42,433.78 797.23,433.65 799.05,433.5 800.87,433.34 802.68,433.15 804.5,432.95 806.32,432.73 808.13,432.49 809.95,432.23 811.77,431.96 813.58,431.66 815.4,431.34 817.22,431.01 819.03,430.65 820.85,430.28 822.67,429.88 824.48,429.46 826.3,429.02 828.12,428.56 829.93,428.08 831.75,427.58 833.57,427.06 835.38,426.51 837.2,425.94 839.02,425.35 840.83,424.74 842.65,424.1 844.47,423.44 846.28,422.76 848.1,422.06 849.92,421.34 851.73,420.59 853.55,419.82 855.37,419.03 857.18,418.21 859,417.38 860.82,416.52 862.63,415.65 864.45,414.75 866.27,413.83 868.08,412.89 869.9,411.93 871.72,410.95 873.53,409.96 875.35,408.94 877.17,407.91 878.98,406.86 880.8,405.8 882.62,404.72 884.43,403.62 886.25,402.51 888.07,401.39 889.88,400.25 891.7,399.1 893.52,397.94 895.33,396.77 897.15,395.59 898.97,394.41 900.78,393.21 902.6,392.01 904.42,390.8 906.23,389.59 908.05,388.37 909.87,387.15 911.68,385.93 913.5,384.7 915.32,383.48 917.13,382.25 918.95,381.03 920.77,379.81 922.58,378.59 924.4,377.38 926.22,376.17 928.03,374.96 929.85,373.76 931.67,372.57 933.48,371.38 935.3,370.2 937.12,369.03 938.93,367.87 940.75,366.72 942.57,365.58 944.38,364.44 946.2,363.32 948.02,362.21 949.83,361.11 951.65,360.02 953.47,358.94 955.28,357.88 957.1,356.82 958.92,355.78 960.73,354.74 962.55,353.72 964.37,352.71 966.18,351.72 968,350.73 969.82,349.75 971.63,348.78 973.45,347.83 975.27,346.88 977.08,345.94 978.9,345.01 980.72,344.09 982.53,343.17 984.35,342.27 986.17,341.36 987.98,340.47 989.8,339.58 991.62,338.69 993.43,337.81 995.25,336.93 997.07,336.05 998.88,335.18 1000.7,334.3 1002.52,335.18 1004.33,336.05 1006.15,336.93 1007.97,337.81 1009.78,338.69 1011.6,339.58 1013.42,340.47 1015.23,341.36 1017.05,342.27 1018.87,343.17 1020.68,344.09 1022.5,345.01 1024.32,345.94 1026.13,346.88 1027.95,347.83 1029.77,348.78 1031.58,349.75 1033.4,350.73 1035.22,351.72 1037.03,352.71 1038.85,353.72 1040.67,354.74 1042.48,355.78 1044.3,356.82 1046.12,357.88 1047.93,358.94 1049.75,360.02 1051.57,361.11 1053.38,362.21 1055.2,363.32 1057.02,364.44 1058.83,365.58 1060.65,366.72 1062.47,367.87 1064.28,369.03 1066.1,370.2 1067.92,371.38 1069.73,372.57 1071.55,373.76 1073.37,374.96 1075.18,376.17 1077,377.38 1078.82,378.59 1080.63,379.81 1082.45,381.03 1084.27,382.25 1086.08,383.48 1087.9,384.7 1089.72,385.93 1091.53,387.15 1093.35,388.37 1095.17,389.59 1096.98,390.8 1098.8,392.01 1100.62,393.21 1102.43,394.41 1104.25,395.59 1106.07,396.77 1107.88,397.94 1109.7,399.1 1111.52,400.25 1113.33,401.39 1115.15,402.51 1116.97,403.62 1118.78,404.72 1120.6,405.8 1122.42,406.86 1124.23,407.91 1126.05,408.94 1127.87,409.96 1129.68,410.95 1131.5,411.93 1133.32,412.89 1135.13,413.83 1136.95,414.75 1138.77,415.65 1140.58,416.52 1142.4,417.38 1144.22,418.21 1146.03,419.03 1147.85,419.82 1149.67,420.59 1151.48,421.34 1153.3,422.06 1155.12,422.76 1156.93,423.44 1158.75,424.1 1160.57,424.74 1162.38,425.35 1164.2,425.94 1166.02,426.51 1167.83,427.06 1169.65,427.58 1171.47,428.08 1173.28,428.56 1175.1,429.02 1176.92,429.46 1178.73,429.88 1180.55,430.28 1182.37,430.65 1184.18,431.01 1186,431.34 1187.82,431.66 1189.63,431.96 1191.45,432.23 1193.27,432.49 1195.08,432.73 1196.9,432.95 1198.72,433.15 1200.53,433.34 1202.35,433.5 1204.17,433.65 1205.98,433.78 1207.8,433.89 1209.62,433.99 1211.43,434.06 1213.25,434.12 1215.07,434.17 1216.88,434.19 1218.7,434.2" fill="none" stroke="#ee4630" stroke-width="2.8" stroke-linecap="square" stroke-linejoin="round"/>
<polyline points="782.7,443.3 784.52,443.29 786.33,443.26 788.15,443.22 789.97,443.15 791.78,443.07 793.6,442.96 795.42,442.84 797.23,442.7 799.05,442.54 800.87,442.36 802.68,442.16 804.5,441.95 806.32,441.71 808.13,441.45 809.95,441.18 811.77,440.88 813.58,440.56 815.4,440.23 817.22,439.87 819.03,439.5 820.85,439.1 822.67,438.68 824.48,438.24 826.3,437.78 828.12,437.3 829.93,436.8 831.75,436.28 833.57,435.74 835.38,435.18 837.2,434.59 839.02,433.98 840.83,433.36 842.65,432.71 844.47,432.04 846.28,431.34 848.1,430.63 849.92,429.9 851.73,429.14 853.55,428.37 855.37,427.57 857.18,426.75 859,425.91 860.82,425.05 862.63,424.18 864.45,423.28 866.27,422.36 868.08,421.43 869.9,420.47 871.72,419.5 873.53,418.5 875.35,417.49 877.17,416.47 878.98,415.42 880.8,414.36 882.62,413.29 884.43,412.2 886.25,411.09 888.07,409.97 889.88,408.84 891.7,407.69 893.52,406.53 895.33,405.36 897.15,404.17 898.97,402.98 900.78,401.78 902.6,400.56 904.42,399.34 906.23,398.11 908.05,396.87 909.87,395.63 911.68,394.38 913.5,393.12 915.32,391.86 917.13,390.59 918.95,389.32 920.77,388.05 922.58,386.77 924.4,385.5 926.22,384.22 928.03,382.94 929.85,381.66 931.67,380.38 933.48,379.1 935.3,377.82 937.12,376.54 938.93,375.27 940.75,374 942.57,372.73 944.38,371.46 946.2,370.2 948.02,368.94 949.83,367.69 951.65,366.44 953.47,365.19 955.28,363.95 957.1,362.71 958.92,361.48 960.73,360.25 962.55,359.03 964.37,357.81 966.18,356.6 968,355.4 969.82,354.19 971.63,352.99 973.45,351.8 975.27,350.61 977.08,349.43 978.9,348.25 980.72,347.07 982.53,345.9 984.35,344.73 986.17,343.56 987.98,342.4 989.8,341.24 991.62,340.08 993.43,338.92 995.25,337.76 997.07,336.61 998.88,335.45 1000.7,334.3 1002.52,335.45 1004.33,336.61 1006.15,337.76 1007.97,338.92 1009.78,340.08 1011.6,341.24 1013.42,342.4 1015.23,343.56 1017.05,344.73 1018.87,345.9 1020.68,347.07 1022.5,348.25 1024.32,349.43 1026.13,350.61 1027.95,351.8 1029.77,352.99 1031.58,354.19 1033.4,355.4 1035.22,356.6 1037.03,357.81 1038.85,359.03 1040.67,360.25 1042.48,361.48 1044.3,362.71 1046.12,363.95 1047.93,365.19 1049.75,366.44 1051.57,367.69 1053.38,368.94 1055.2,370.2 1057.02,371.46 1058.83,372.73 1060.65,374 1062.47,375.27 1064.28,376.54 1066.1,377.82 1067.92,379.1 1069.73,380.38 1071.55,381.66 1073.37,382.94 1075.18,384.22 1077,385.5 1078.82,386.77 1080.63,388.05 1082.45,389.32 1084.27,390.59 1086.08,391.86 1087.9,393.12 1089.72,394.38 1091.53,395.63 1093.35,396.87 1095.17,398.11 1096.98,399.34 1098.8,400.56 1100.62,401.78 1102.43,402.98 1104.25,404.17 1106.07,405.36 1107.88,406.53 1109.7,407.69 1111.52,408.84 1113.33,409.97 1115.15,411.09 1116.97,412.2 1118.78,413.29 1120.6,414.36 1122.42,415.42 1124.23,416.47 1126.05,417.49 1127.87,418.5 1129.68,419.5 1131.5,420.47 1133.32,421.43 1135.13,422.36 1136.95,423.28 1138.77,424.18 1140.58,425.05 1142.4,425.91 1144.22,426.75 1146.03,427.57 1147.85,428.37 1149.67,429.14 1151.48,429.9 1153.3,430.63 1155.12,431.34 1156.93,432.04 1158.75,432.71 1160.57,433.36 1162.38,433.98 1164.2,434.59 1166.02,435.18 1167.83,435.74 1169.65,436.28 1171.47,436.8 1173.28,437.3 1175.1,437.78 1176.92,438.24 1178.73,438.68 1180.55,439.1 1182.37,439.5 1184.18,439.87 1186,440.23 1187.82,440.56 1189.63,440.88 1191.45,441.18 1193.27,441.45 1195.08,441.71 1196.9,441.95 1198.72,442.16 1200.53,442.36 1202.35,442.54 1204.17,442.7 1205.98,442.84 1207.8,442.96 1209.62,443.07 1211.43,443.15 1213.25,443.22 1215.07,443.26 1216.88,443.29 1218.7,443.3" fill="none" stroke="#ee4630" stroke-width="2.8" stroke-linecap="square" stroke-linejoin="round"/>
<polyline points="782.7,451.1 784.52,451.09 786.33,451.06 788.15,451.01 789.97,450.94 791.78,450.85 793.6,450.74 795.42,450.61 797.23,450.46 799.05,450.29 800.87,450.1 802.68,449.89 804.5,449.66 806.32,449.4 808.13,449.13 809.95,448.84 811.77,448.53 813.58,448.19 815.4,447.84 817.22,447.47 819.03,447.07 820.85,446.66 822.67,446.22 824.48,445.77 826.3,445.29 828.12,444.79 829.93,444.27 831.75,443.73 833.57,443.17 835.38,442.59 837.2,441.99 839.02,441.37 840.83,440.73 842.65,440.07 844.47,439.38 846.28,438.68 848.1,437.96 849.92,437.21 851.73,436.45 853.55,435.67 855.37,434.86 857.18,434.04 859,433.2 860.82,432.33 862.63,431.45 864.45,430.55 866.27,429.63 868.08,428.7 869.9,427.74 871.72,426.77 873.53,425.78 875.35,424.77 877.17,423.74 878.98,422.7 880.8,421.64 882.62,420.57 884.43,419.48 886.25,418.37 888.07,417.25 889.88,416.11 891.7,414.96 893.52,413.8 895.33,412.62 897.15,411.43 898.97,410.23 900.78,409.02 902.6,407.79 904.42,406.55 906.23,405.3 908.05,404.04 909.87,402.78 911.68,401.5 913.5,400.21 915.32,398.91 917.13,397.61 918.95,396.3 920.77,394.98 922.58,393.65 924.4,392.32 926.22,390.98 928.03,389.64 929.85,388.29 931.67,386.93 933.48,385.57 935.3,384.21 937.12,382.84 938.93,381.47 940.75,380.1 942.57,378.72 944.38,377.34 946.2,375.96 948.02,374.58 949.83,373.19 951.65,371.8 953.47,370.42 955.28,369.03 957.1,367.64 958.92,366.25 960.73,364.86 962.55,363.47 964.37,362.08 966.18,360.68 968,359.29 969.82,357.9 971.63,356.51 973.45,355.12 975.27,353.73 977.08,352.34 978.9,350.95 980.72,349.56 982.53,348.17 984.35,346.78 986.17,345.39 987.98,344.01 989.8,342.62 991.62,341.23 993.43,339.85 995.25,338.46 997.07,337.07 998.88,335.69 1000.7,334.3 1002.52,335.69 1004.33,337.07 1006.15,338.46 1007.97,339.85 1009.78,341.23 1011.6,342.62 1013.42,344.01 1015.23,345.39 1017.05,346.78 1018.87,348.17 1020.68,349.56 1022.5,350.95 1024.32,352.34 1026.13,353.73 1027.95,355.12 1029.77,356.51 1031.58,357.9 1033.4,359.29 1035.22,360.68 1037.03,362.08 1038.85,363.47 1040.67,364.86 1042.48,366.25 1044.3,367.64 1046.12,369.03 1047.93,370.42 1049.75,371.8 1051.57,373.19 1053.38,374.58 1055.2,375.96 1057.02,377.34 1058.83,378.72 1060.65,380.1 1062.47,381.47 1064.28,382.84 1066.1,384.21 1067.92,385.57 1069.73,386.93 1071.55,388.29 1073.37,389.64 1075.18,390.98 1077,392.32 1078.82,393.65 1080.63,394.98 1082.45,396.3 1084.27,397.61 1086.08,398.91 1087.9,400.21 1089.72,401.5 1091.53,402.78 1093.35,404.04 1095.17,405.3 1096.98,406.55 1098.8,407.79 1100.62,409.02 1102.43,410.23 1104.25,411.43 1106.07,412.62 1107.88,413.8 1109.7,414.96 1111.52,416.11 1113.33,417.25 1115.15,418.37 1116.97,419.48 1118.78,420.57 1120.6,421.64 1122.42,422.7 1124.23,423.74 1126.05,424.77 1127.87,425.78 1129.68,426.77 1131.5,427.74 1133.32,428.7 1135.13,429.63 1136.95,430.55 1138.77,431.45 1140.58,432.33 1142.4,433.2 1144.22,434.04 1146.03,434.86 1147.85,435.67 1149.67,436.45 1151.48,437.21 1153.3,437.96 1155.12,438.68 1156.93,439.38 1158.75,440.07 1160.57,440.73 1162.38,441.37 1164.2,441.99 1166.02,442.59 1167.83,443.17 1169.65,443.73 1171.47,444.27 1173.28,444.79 1175.1,445.29 1176.92,445.77 1178.73,446.22 1180.55,446.66 1182.37,447.07 1184.18,447.47 1186,447.84 1187.82,448.19 1189.63,448.53 1191.45,448.84 1193.27,449.13 1195.08,449.4 1196.9,449.66 1198.72,449.89 1200.53,450.1 1202.35,450.29 1204.17,450.46 1205.98,450.61 1207.8,450.74 1209.62,450.85 1211.43,450.94 1213.25,451.01 1215.07,451.06 1216.88,451.09 1218.7,451.1" fill="none" stroke="#ee4630" stroke-width="2.8" stroke-linecap="square" stroke-linejoin="round"/>
<polyline points="782.7,456 784.52,455.99 786.33,455.96 788.15,455.91 789.97,455.83 791.78,455.74 793.6,455.62 795.42,455.49 797.23,455.33 799.05,455.16 800.87,454.96 802.68,454.74 804.5,454.5 806.32,454.24 808.13,453.96 809.95,453.66 811.77,453.33 813.58,452.99 815.4,452.63 817.22,452.24 819.03,451.84 820.85,451.41 822.67,450.97 824.48,450.5 826.3,450.01 828.12,449.51 829.93,448.98 831.75,448.43 833.57,447.86 835.38,447.27 837.2,446.66 839.02,446.04 840.83,445.39 842.65,444.72 844.47,444.03 846.28,443.33 848.1,442.6 849.92,441.85 851.73,441.09 853.55,440.3 855.37,439.5 857.18,438.68 859,437.84 860.82,436.98 862.63,436.1 864.45,435.21 866.27,434.29 868.08,433.36 869.9,432.41 871.72,431.44 873.53,430.46 875.35,429.46 877.17,428.44 878.98,427.41 880.8,426.36 882.62,425.29 884.43,424.21 886.25,423.11 888.07,421.99 889.88,420.86 891.7,419.72 893.52,418.56 895.33,417.39 897.15,416.2 898.97,415 900.78,413.79 902.6,412.56 904.42,411.32 906.23,410.06 908.05,408.8 909.87,407.52 911.68,406.23 913.5,404.93 915.32,403.62 917.13,402.29 918.95,400.96 920.77,399.61 922.58,398.26 924.4,396.9 926.22,395.52 928.03,394.14 929.85,392.75 931.67,391.35 933.48,389.94 935.3,388.52 937.12,387.1 938.93,385.67 940.75,384.23 942.57,382.78 944.38,381.33 946.2,379.87 948.02,378.41 949.83,376.93 951.65,375.46 953.47,373.98 955.28,372.49 957.1,371 958.92,369.5 960.73,368 962.55,366.5 964.37,364.99 966.18,363.48 968,361.96 969.82,360.44 971.63,358.92 973.45,357.39 975.27,355.87 977.08,354.34 978.9,352.8 980.72,351.27 982.53,349.73 984.35,348.19 986.17,346.65 987.98,345.11 989.8,343.57 991.62,342.03 993.43,340.48 995.25,338.94 997.07,337.39 998.88,335.85 1000.7,334.3 1002.52,335.85 1004.33,337.39 1006.15,338.94 1007.97,340.48 1009.78,342.03 1011.6,343.57 1013.42,345.11 1015.23,346.65 1017.05,348.19 1018.87,349.73 1020.68,351.27 1022.5,352.8 1024.32,354.34 1026.13,355.87 1027.95,357.39 1029.77,358.92 1031.58,360.44 1033.4,361.96 1035.22,363.48 1037.03,364.99 1038.85,366.5 1040.67,368 1042.48,369.5 1044.3,371 1046.12,372.49 1047.93,373.98 1049.75,375.46 1051.57,376.93 1053.38,378.41 1055.2,379.87 1057.02,381.33 1058.83,382.78 1060.65,384.23 1062.47,385.67 1064.28,387.1 1066.1,388.52 1067.92,389.94 1069.73,391.35 1071.55,392.75 1073.37,394.14 1075.18,395.52 1077,396.9 1078.82,398.26 1080.63,399.61 1082.45,400.96 1084.27,402.29 1086.08,403.62 1087.9,404.93 1089.72,406.23 1091.53,407.52 1093.35,408.8 1095.17,410.06 1096.98,411.32 1098.8,412.56 1100.62,413.79 1102.43,415 1104.25,416.2 1106.07,417.39 1107.88,418.56 1109.7,419.72 1111.52,420.86 1113.33,421.99 1115.15,423.11 1116.97,424.21 1118.78,425.29 1120.6,426.36 1122.42,427.41 1124.23,428.44 1126.05,429.46 1127.87,430.46 1129.68,431.44 1131.5,432.41 1133.32,433.36 1135.13,434.29 1136.95,435.21 1138.77,436.1 1140.58,436.98 1142.4,437.84 1144.22,438.68 1146.03,439.5 1147.85,440.3 1149.67,441.09 1151.48,441.85 1153.3,442.6 1155.12,443.33 1156.93,444.03 1158.75,444.72 1160.57,445.39 1162.38,446.04 1164.2,446.66 1166.02,447.27 1167.83,447.86 1169.65,448.43 1171.47,448.98 1173.28,449.51 1175.1,450.01 1176.92,450.5 1178.73,450.97 1180.55,451.41 1182.37,451.84 1184.18,452.24 1186,452.63 1187.82,452.99 1189.63,453.33 1191.45,453.66 1193.27,453.96 1195.08,454.24 1196.9,454.5 1198.72,454.74 1200.53,454.96 1202.35,455.16 1204.17,455.33 1205.98,455.49 1207.8,455.62 1209.62,455.74 1211.43,455.83 1213.25,455.91 1215.07,455.96 1216.88,455.99 1218.7,456" fill="none" stroke="#ee4630" stroke-width="2.8" stroke-linecap="square" stroke-linejoin="round"/>
<polyline points="782.7,459 784.52,458.99 786.33,458.96 788.15,458.9 789.97,458.83 791.78,458.73 793.6,458.62 795.42,458.48 797.23,458.32 799.05,458.14 800.87,457.93 802.68,457.71 804.5,457.46 806.32,457.2 808.13,456.91 809.95,456.6 811.77,456.28 813.58,455.93 815.4,455.55 817.22,455.16 819.03,454.75 820.85,454.32 822.67,453.86 824.48,453.39 826.3,452.9 828.12,452.38 829.93,451.85 831.75,451.29 833.57,450.72 835.38,450.12 837.2,449.51 839.02,448.87 840.83,448.22 842.65,447.55 844.47,446.85 846.28,446.14 848.1,445.41 849.92,444.66 851.73,443.89 853.55,443.1 855.37,442.29 857.18,441.47 859,440.62 860.82,439.76 862.63,438.88 864.45,437.98 866.27,437.07 868.08,436.14 869.9,435.18 871.72,434.22 873.53,433.23 875.35,432.23 877.17,431.21 878.98,430.17 880.8,429.12 882.62,428.05 884.43,426.97 886.25,425.87 888.07,424.75 889.88,423.62 891.7,422.48 893.52,421.31 895.33,420.14 897.15,418.95 898.97,417.74 900.78,416.52 902.6,415.29 904.42,414.04 906.23,412.78 908.05,411.5 909.87,410.21 911.68,408.91 913.5,407.6 915.32,406.27 917.13,404.93 918.95,403.58 920.77,402.22 922.58,400.84 924.4,399.46 926.22,398.06 928.03,396.65 929.85,395.23 931.67,393.8 933.48,392.36 935.3,390.91 937.12,389.45 938.93,387.98 940.75,386.51 942.57,385.02 944.38,383.52 946.2,382.02 948.02,380.51 949.83,378.99 951.65,377.46 953.47,375.93 955.28,374.38 957.1,372.83 958.92,371.28 960.73,369.72 962.55,368.15 964.37,366.57 966.18,365 968,363.41 969.82,361.82 971.63,360.23 973.45,358.63 975.27,357.02 977.08,355.42 978.9,353.81 980.72,352.19 982.53,350.58 984.35,348.96 986.17,347.33 987.98,345.71 989.8,344.08 991.62,342.46 993.43,340.83 995.25,339.2 997.07,337.56 998.88,335.93 1000.7,334.3 1002.52,335.93 1004.33,337.56 1006.15,339.2 1007.97,340.83 1009.78,342.46 1011.6,344.08 1013.42,345.71 1015.23,347.33 1017.05,348.96 1018.87,350.58 1020.68,352.19 1022.5,353.81 1024.32,355.42 1026.13,357.02 1027.95,358.63 1029.77,360.23 1031.58,361.82 1033.4,363.41 1035.22,365 1037.03,366.57 1038.85,368.15 1040.67,369.72 1042.48,371.28 1044.3,372.83 1046.12,374.38 1047.93,375.93 1049.75,377.46 1051.57,378.99 1053.38,380.51 1055.2,382.02 1057.02,383.52 1058.83,385.02 1060.65,386.51 1062.47,387.98 1064.28,389.45 1066.1,390.91 1067.92,392.36 1069.73,393.8 1071.55,395.23 1073.37,396.65 1075.18,398.06 1077,399.46 1078.82,400.84 1080.63,402.22 1082.45,403.58 1084.27,404.93 1086.08,406.27 1087.9,407.6 1089.72,408.91 1091.53,410.21 1093.35,411.5 1095.17,412.78 1096.98,414.04 1098.8,415.29 1100.62,416.52 1102.43,417.74 1104.25,418.95 1106.07,420.14 1107.88,421.31 1109.7,422.48 1111.52,423.62 1113.33,424.75 1115.15,425.87 1116.97,426.97 1118.78,428.05 1120.6,429.12 1122.42,430.17 1124.23,431.21 1126.05,432.23 1127.87,433.23 1129.68,434.22 1131.5,435.18 1133.32,436.14 1135.13,437.07 1136.95,437.98 1138.77,438.88 1140.58,439.76 1142.4,440.62 1144.22,441.47 1146.03,442.29 1147.85,443.1 1149.67,443.89 1151.48,444.66 1153.3,445.41 1155.12,446.14 1156.93,446.85 1158.75,447.55 1160.57,448.22 1162.38,448.87 1164.2,449.51 1166.02,450.12 1167.83,450.72 1169.65,451.29 1171.47,451.85 1173.28,452.38 1175.1,452.9 1176.92,453.39 1178.73,453.86 1180.55,454.32 1182.37,454.75 1184.18,455.16 1186,455.55 1187.82,455.93 1189.63,456.28 1191.45,456.6 1193.27,456.91 1195.08,457.2 1196.9,457.46 1198.72,457.71 1200.53,457.93 1202.35,458.14 1204.17,458.32 1205.98,458.48 1207.8,458.62 1209.62,458.73 1211.43,458.83 1213.25,458.9 1215.07,458.96 1216.88,458.99 1218.7,459" fill="none" stroke="#ee4630" stroke-width="2.8" stroke-linecap="square" stroke-linejoin="round"/>
<polyline points="782.7,201.5 784.52,201.63 786.33,201.77 788.15,201.93 789.97,202.11 791.78,202.31 793.6,202.52 795.42,202.74 797.23,202.98 799.05,203.23 800.87,203.48 802.68,203.75 804.5,204.02 806.32,204.32 808.13,204.64 809.95,204.98 811.77,205.34 813.58,205.72 815.4,206.12 817.22,206.54 819.03,206.97 820.85,207.43 822.67,207.89 824.48,208.37 826.3,208.87 828.12,209.37 829.93,209.92 831.75,210.49 833.57,211.11 835.38,211.75 837.2,212.42 839.02,213.11 840.83,213.82 842.65,214.55 844.47,215.29 846.28,216.04 848.1,216.8 849.92,217.56 851.73,218.32 853.55,219.1 855.37,219.9 857.18,220.71 859,221.55 860.82,222.39 862.63,223.25 864.45,224.13 866.27,225.01 868.08,225.91 869.9,226.82 871.72,227.73 873.53,228.65 875.35,229.58 877.17,230.51 878.98,231.45 880.8,232.39 882.62,233.34 884.43,234.31 886.25,235.29 888.07,236.28 889.88,237.29 891.7,238.32 893.52,239.37 895.33,240.44 897.15,241.54 898.97,242.67 900.78,243.87 902.6,245.15 904.42,246.47 906.23,247.8 908.05,249.09 909.87,250.33 911.68,251.49 913.5,252.64 915.32,253.77 917.13,254.86 918.95,255.89 920.77,256.84 922.58,257.68 924.4,258.46 926.22,259.2 928.03,259.89 929.85,260.53 931.67,261.1 933.48,261.6 935.3,262.03 937.12,262.42 938.93,262.78 940.75,263.11 942.57,263.42 944.38,263.71 946.2,263.98 948.02,264.23 949.83,264.47 951.65,264.71 953.47,264.93 955.28,265.14 957.1,265.34 958.92,265.54 960.73,265.72 962.55,265.9 964.37,266.07 966.18,266.24 968,266.4 969.82,266.56 971.63,266.71 973.45,266.86 975.27,267.01 977.08,267.15 978.9,267.28 980.72,267.42 982.53,267.55 984.35,267.67 986.17,267.8 987.98,267.92 989.8,268.04 991.62,268.16 993.43,268.27 995.25,268.38 997.07,268.49 998.88,268.6 1000.7,268.7 1002.52,268.82 1004.33,268.94 1006.15,269.07 1007.97,269.21 1009.78,269.36 1011.6,269.51 1013.42,269.66 1015.23,269.82 1017.05,269.99 1018.87,270.16 1020.68,270.34 1022.5,270.52 1024.32,270.7 1026.13,270.89 1027.95,271.09 1029.77,271.29 1031.58,271.49 1033.4,271.69 1035.22,271.9 1037.03,272.12 1038.85,272.34 1040.67,272.57 1042.48,272.81 1044.3,273.06 1046.12,273.32 1047.93,273.58 1049.75,273.86 1051.57,274.16 1053.38,274.45 1055.2,274.76 1057.02,275.08 1058.83,275.43 1060.65,275.79 1062.47,276.2 1064.28,276.63 1066.1,277.11 1067.92,277.66 1069.73,278.33 1071.55,279.13 1073.37,280.01 1075.18,280.96 1077,281.93 1078.82,282.9 1080.63,283.88 1082.45,284.9 1084.27,285.96 1086.08,287.05 1087.9,288.17 1089.72,289.31 1091.53,290.47 1093.35,291.69 1095.17,292.96 1096.98,294.25 1098.8,295.54 1100.62,296.81 1102.43,298.03 1104.25,299.2 1106.07,300.38 1107.88,301.55 1109.7,302.71 1111.52,303.86 1113.33,304.99 1115.15,306.11 1116.97,307.21 1118.78,308.29 1120.6,309.34 1122.42,310.36 1124.23,311.36 1126.05,312.32 1127.87,313.25 1129.68,314.16 1131.5,315.06 1133.32,315.94 1135.13,316.8 1136.95,317.65 1138.77,318.47 1140.58,319.28 1142.4,320.06 1144.22,320.83 1146.03,321.57 1147.85,322.3 1149.67,323 1151.48,323.68 1153.3,324.35 1155.12,325.01 1156.93,325.66 1158.75,326.29 1160.57,326.91 1162.38,327.51 1164.2,328.1 1166.02,328.66 1167.83,329.21 1169.65,329.74 1171.47,330.25 1173.28,330.74 1175.1,331.21 1176.92,331.68 1178.73,332.14 1180.55,332.59 1182.37,333.03 1184.18,333.46 1186,333.87 1187.82,334.27 1189.63,334.65 1191.45,335 1193.27,335.32 1195.08,335.62 1196.9,335.89 1198.72,336.13 1200.53,336.36 1202.35,336.59 1204.17,336.8 1205.98,337.01 1207.8,337.2 1209.62,337.38 1211.43,337.54 1213.25,337.68 1215.07,337.81 1216.88,337.92 1218.7,338" fill="none" stroke="#318b22" stroke-width="4" stroke-linecap="square" stroke-linejoin="round"/>
<polyline points="782.7,338 784.52,337.92 786.33,337.81 788.15,337.68 789.97,337.54 791.78,337.38 793.6,337.2 795.42,337.01 797.23,336.8 799.05,336.59 800.87,336.36 802.68,336.13 804.5,335.89 806.32,335.62 808.13,335.32 809.95,335 811.77,334.65 813.58,334.27 815.4,333.87 817.22,333.46 819.03,333.03 820.85,332.59 822.67,332.14 824.48,331.68 826.3,331.21 828.12,330.74 829.93,330.25 831.75,329.74 833.57,329.21 835.38,328.66 837.2,328.1 839.02,327.51 840.83,326.91 842.65,326.29 844.47,325.66 846.28,325.01 848.1,324.35 849.92,323.68 851.73,323 853.55,322.3 855.37,321.57 857.18,320.83 859,320.06 860.82,319.28 862.63,318.47 864.45,317.65 866.27,316.8 868.08,315.94 869.9,315.06 871.72,314.16 873.53,313.25 875.35,312.32 877.17,311.36 878.98,310.36 880.8,309.34 882.62,308.29 884.43,307.21 886.25,306.11 888.07,304.99 889.88,303.86 891.7,302.71 893.52,301.55 895.33,300.38 897.15,299.2 898.97,298.03 900.78,296.81 902.6,295.54 904.42,294.25 906.23,292.96 908.05,291.69 909.87,290.47 911.68,289.31 913.5,288.17 915.32,287.05 917.13,285.96 918.95,284.9 920.77,283.88 922.58,282.9 924.4,281.93 926.22,280.96 928.03,280.01 929.85,279.13 931.67,278.33 933.48,277.66 935.3,277.11 937.12,276.63 938.93,276.2 940.75,275.79 942.57,275.43 944.38,275.08 946.2,274.76 948.02,274.45 949.83,274.16 951.65,273.86 953.47,273.58 955.28,273.32 957.1,273.06 958.92,272.81 960.73,272.57 962.55,272.34 964.37,272.12 966.18,271.9 968,271.69 969.82,271.49 971.63,271.29 973.45,271.09 975.27,270.89 977.08,270.7 978.9,270.52 980.72,270.34 982.53,270.16 984.35,269.99 986.17,269.82 987.98,269.66 989.8,269.51 991.62,269.36 993.43,269.21 995.25,269.07 997.07,268.94 998.88,268.82 1000.7,268.7 1002.52,268.6 1004.33,268.49 1006.15,268.38 1007.97,268.27 1009.78,268.16 1011.6,268.04 1013.42,267.92 1015.23,267.8 1017.05,267.67 1018.87,267.55 1020.68,267.42 1022.5,267.28 1024.32,267.15 1026.13,267.01 1027.95,266.86 1029.77,266.71 1031.58,266.56 1033.4,266.4 1035.22,266.24 1037.03,266.07 1038.85,265.9 1040.67,265.72 1042.48,265.54 1044.3,265.34 1046.12,265.14 1047.93,264.93 1049.75,264.71 1051.57,264.47 1053.38,264.23 1055.2,263.98 1057.02,263.71 1058.83,263.42 1060.65,263.11 1062.47,262.78 1064.28,262.42 1066.1,262.03 1067.92,261.6 1069.73,261.1 1071.55,260.53 1073.37,259.89 1075.18,259.2 1077,258.46 1078.82,257.68 1080.63,256.84 1082.45,255.89 1084.27,254.86 1086.08,253.77 1087.9,252.64 1089.72,251.49 1091.53,250.33 1093.35,249.09 1095.17,247.8 1096.98,246.47 1098.8,245.15 1100.62,243.87 1102.43,242.67 1104.25,241.54 1106.07,240.44 1107.88,239.37 1109.7,238.32 1111.52,237.29 1113.33,236.28 1115.15,235.29 1116.97,234.31 1118.78,233.34 1120.6,232.39 1122.42,231.45 1124.23,230.51 1126.05,229.58 1127.87,228.65 1129.68,227.73 1131.5,226.82 1133.32,225.91 1135.13,225.01 1136.95,224.13 1138.77,223.25 1140.58,222.39 1142.4,221.55 1144.22,220.71 1146.03,219.9 1147.85,219.1 1149.67,218.32 1151.48,217.56 1153.3,216.8 1155.12,216.04 1156.93,215.29 1158.75,214.55 1160.57,213.82 1162.38,213.11 1164.2,212.42 1166.02,211.75 1167.83,211.11 1169.65,210.49 1171.47,209.92 1173.28,209.37 1175.1,208.87 1176.92,208.37 1178.73,207.89 1180.55,207.43 1182.37,206.97 1184.18,206.54 1186,206.12 1187.82,205.72 1189.63,205.34 1191.45,204.98 1193.27,204.64 1195.08,204.32 1196.9,204.02 1198.72,203.75 1200.53,203.48 1202.35,203.23 1204.17,202.98 1205.98,202.74 1207.8,202.52 1209.62,202.31 1211.43,202.11 1213.25,201.93 1215.07,201.77 1216.88,201.63 1218.7,201.5" fill="none" stroke="#318b22" stroke-width="4" stroke-linecap="square" stroke-linejoin="round"/>
<text x="106.1" y="29.9" font-size="43" text-anchor="middle" fill="#000">(a)</text>
<text x="359.6" y="31.8" font-size="43" text-anchor="middle" fill="#000">[001]</text>
<text x="754.65" y="29.9" font-size="43" text-anchor="middle" fill="#000">(d)</text>
<text x="989.6" y="31.8" font-size="43" text-anchor="middle" fill="#000">[111]</text>
<text x="99.45" y="87.25" font-size="40" text-anchor="end" fill="#000">2.9</text>
<text x="99" y="487.25" font-size="40" text-anchor="end" fill="#000">1.5</text>
<text x="140.8" y="526.6" font-size="40" text-anchor="middle" fill="#000">0</text>
<text x="357.7" y="527.2" font-size="40" text-anchor="middle" fill="#000" font-style="italic">π</text>
<text x="575.7" y="526.65" font-size="40" text-anchor="middle" fill="#000">2<tspan font-style="italic">π</tspan></text>
<text x="358.25" y="575.05" font-size="44" text-anchor="middle" fill="#000" font-style="italic" stroke="#fff" stroke-width="0.45">k<tspan font-size="31" dx="2.5" dy="6.5">y</tspan></text>
<text x="67.45" y="266.05" font-size="42.5" text-anchor="middle" fill="#000" transform="rotate(-90 67.45 266.05)">Energy</text>
<text x="741.35" y="73.3" font-size="40" text-anchor="end" fill="#000">2.9</text>
<text x="739.6" y="483.1" font-size="40" text-anchor="end" fill="#000">1.4</text>
<text x="782" y="524.6" font-size="40" text-anchor="middle" fill="#000">0</text>
<text x="999.15" y="525" font-size="40" text-anchor="middle" fill="#000" font-style="italic">π</text>
<text x="1217.65" y="524" font-size="40" text-anchor="middle" fill="#000">2<tspan font-style="italic">π</tspan></text>
<text x="999.45" y="573.05" font-size="44" text-anchor="middle" fill="#000" font-style="italic" stroke="#fff" stroke-width="0.45">k<tspan font-size="31" dx="2.5" dy="6.5">y</tspan></text>
<text x="706" y="266.3" font-size="42.5" text-anchor="middle" fill="#000" transform="rotate(-90 706 266.3)">Energy</text>
<text x="543.2" y="647.95" font-size="43" text-anchor="start" fill="#fff">(b)</text>
<text x="543" y="1176.1" font-size="43" text-anchor="start" fill="#fff">(c)</text>
<text x="1208.7" y="647.45" font-size="43" text-anchor="start" fill="#fff">(e)</text>
<text x="1209.05" y="1176.6" font-size="43" text-anchor="start" fill="#fff">(f)</text>
<text x="34.1" y="830.7" font-size="43" text-anchor="middle" fill="#000" transform="rotate(-90 34.1 830.7)">time</text>
<text x="34.6" y="1359.9" font-size="43" text-anchor="middle" fill="#000" transform="rotate(-90 34.6 1359.9)">time</text>
<text x="696.45" y="833" font-size="43" text-anchor="middle" fill="#000" transform="rotate(-90 696.45 833)">time</text>
<text x="696.45" y="1362.2" font-size="43" text-anchor="middle" fill="#000" transform="rotate(-90 696.45 1362.2)">time</text>
<text x="342.8" y="1669.85" font-size="43" text-anchor="middle" fill="#000">column <tspan font-style="italic">x</tspan></text>
<text x="1005.15" y="1672.05" font-size="43" text-anchor="middle" fill="#000">column <tspan font-style="italic">x</tspan></text>
<text x="0" y="0" font-size="38.5" text-anchor="middle" fill="#000" transform="translate(1312.7 625.85) scale(0.93 1)">1e−1</text>
<text x="0" y="0" font-size="38.5" text-anchor="middle" fill="#000" transform="translate(1310.55 1153.85) scale(0.95 1)">1e−2</text>
<text x="74.4" y="1059.9" font-size="40" text-anchor="end" fill="#000">0</text>
<text x="73.9" y="973.44" font-size="40" text-anchor="end" fill="#000">1</text>
<text x="73.9" y="886.38" font-size="40" text-anchor="end" fill="#000">2</text>
<text x="73.9" y="799.32" font-size="40" text-anchor="end" fill="#000">3</text>
<text x="73.9" y="712.26" font-size="40" text-anchor="end" fill="#000">4</text>
<text x="74.4" y="625.55" font-size="40" text-anchor="end" fill="#000">5</text>
<text x="0" y="0" font-size="40" text-anchor="middle" fill="#000" transform="translate(111.79 1091.7) scale(0.74 1)">1</text>
<text x="228.12" y="1091.7" font-size="40" text-anchor="middle" fill="#000">4</text>
<text x="344.45" y="1091.7" font-size="40" text-anchor="middle" fill="#000">7</text>
<text x="0" y="0" font-size="40" fill="#000" transform="translate(442.48 1091.7) scale(0.74 1)">1</text>
<text x="477.58" y="1091.7" font-size="40" fill="#000" text-anchor="end">0</text>
<text x="0" y="0" font-size="40" fill="#000" transform="translate(558.81 1091.7) scale(0.74 1)">1</text>
<text x="592.61" y="1091.7" font-size="40" fill="#000" text-anchor="end">3</text>
<text x="74.4" y="1589.5" font-size="40" text-anchor="end" fill="#000">0</text>
<text x="73.9" y="1502.96" font-size="40" text-anchor="end" fill="#000">1</text>
<text x="73.9" y="1416.02" font-size="40" text-anchor="end" fill="#000">2</text>
<text x="73.9" y="1329.08" font-size="40" text-anchor="end" fill="#000">3</text>
<text x="73.9" y="1242.14" font-size="40" text-anchor="end" fill="#000">4</text>
<text x="74.4" y="1155.55" font-size="40" text-anchor="end" fill="#000">5</text>
<text x="0" y="0" font-size="40" text-anchor="middle" fill="#000" transform="translate(111.79 1621.1) scale(0.74 1)">1</text>
<text x="228.12" y="1621.1" font-size="40" text-anchor="middle" fill="#000">4</text>
<text x="344.45" y="1621.1" font-size="40" text-anchor="middle" fill="#000">7</text>
<text x="0" y="0" font-size="40" fill="#000" transform="translate(442.48 1621.1) scale(0.74 1)">1</text>
<text x="477.58" y="1621.1" font-size="40" fill="#000" text-anchor="end">0</text>
<text x="0" y="0" font-size="40" fill="#000" transform="translate(558.81 1621.1) scale(0.74 1)">1</text>
<text x="592.61" y="1621.1" font-size="40" fill="#000" text-anchor="end">3</text>
<text x="737.2" y="1062.5" font-size="40" text-anchor="end" fill="#000">0</text>
<text x="736.6" y="975.22" font-size="40" text-anchor="end" fill="#000">1</text>
<text x="736.6" y="888.04" font-size="40" text-anchor="end" fill="#000">2</text>
<text x="736.6" y="800.86" font-size="40" text-anchor="end" fill="#000">3</text>
<text x="736.6" y="713.68" font-size="40" text-anchor="end" fill="#000">4</text>
<text x="737.2" y="626.75" font-size="40" text-anchor="end" fill="#000">5</text>
<text x="0" y="0" font-size="40" text-anchor="middle" fill="#000" transform="translate(774.46 1093.6) scale(0.74 1)">1</text>
<text x="890.63" y="1093.6" font-size="40" text-anchor="middle" fill="#000">4</text>
<text x="1006.8" y="1093.6" font-size="40" text-anchor="middle" fill="#000">7</text>
<text x="0" y="0" font-size="40" fill="#000" transform="translate(1104.67 1093.6) scale(0.74 1)">1</text>
<text x="1139.77" y="1093.6" font-size="40" fill="#000" text-anchor="end">0</text>
<text x="0" y="0" font-size="40" fill="#000" transform="translate(1220.84 1093.6) scale(0.74 1)">1</text>
<text x="1254.64" y="1093.6" font-size="40" fill="#000" text-anchor="end">3</text>
<text x="737.2" y="1591.1" font-size="40" text-anchor="end" fill="#000">0</text>
<text x="736.6" y="1504.68" font-size="40" text-anchor="end" fill="#000">1</text>
<text x="736.6" y="1417.56" font-size="40" text-anchor="end" fill="#000">2</text>
<text x="736.6" y="1330.44" font-size="40" text-anchor="end" fill="#000">3</text>
<text x="736.6" y="1243.32" font-size="40" text-anchor="end" fill="#000">4</text>
<text x="737.2" y="1156.55" font-size="40" text-anchor="end" fill="#000">5</text>
<text x="0" y="0" font-size="40" text-anchor="middle" fill="#000" transform="translate(774.46 1623) scale(0.74 1)">1</text>
<text x="890.63" y="1623" font-size="40" text-anchor="middle" fill="#000">4</text>
<text x="1006.8" y="1623" font-size="40" text-anchor="middle" fill="#000">7</text>
<text x="0" y="0" font-size="40" fill="#000" transform="translate(1104.67 1623) scale(0.74 1)">1</text>
<text x="1139.77" y="1623" font-size="40" fill="#000" text-anchor="end">0</text>
<text x="0" y="0" font-size="40" fill="#000" transform="translate(1220.84 1623) scale(0.74 1)">1</text>
<text x="1254.64" y="1623" font-size="40" fill="#000" text-anchor="end">3</text>
<text x="1327.5" y="1060.7" font-size="40" text-anchor="start" fill="#000">0</text>
<text x="0" y="0" font-size="40" text-anchor="start" fill="#000" transform="translate(1327.5 977.5) scale(0.74 1)">1</text>
<text x="1327.5" y="894.3" font-size="40" text-anchor="start" fill="#000">2</text>
<text x="1327.5" y="811.1" font-size="40" text-anchor="start" fill="#000">3</text>
<text x="1327.5" y="727.9" font-size="40" text-anchor="start" fill="#000">4</text>
<text x="1327.5" y="1589.8" font-size="40" text-anchor="start" fill="#000">0</text>
<text x="0" y="0" font-size="40" text-anchor="start" fill="#000" transform="translate(1327.5 1506.8) scale(0.74 1)">1</text>
<text x="1327.5" y="1423.8" font-size="40" text-anchor="start" fill="#000">2</text>
<text x="1327.5" y="1340.8" font-size="40" text-anchor="start" fill="#000">3</text>
<text x="1327.5" y="1257.6" font-size="40" text-anchor="start" fill="#000">4</text>
</svg>
</body></html>
